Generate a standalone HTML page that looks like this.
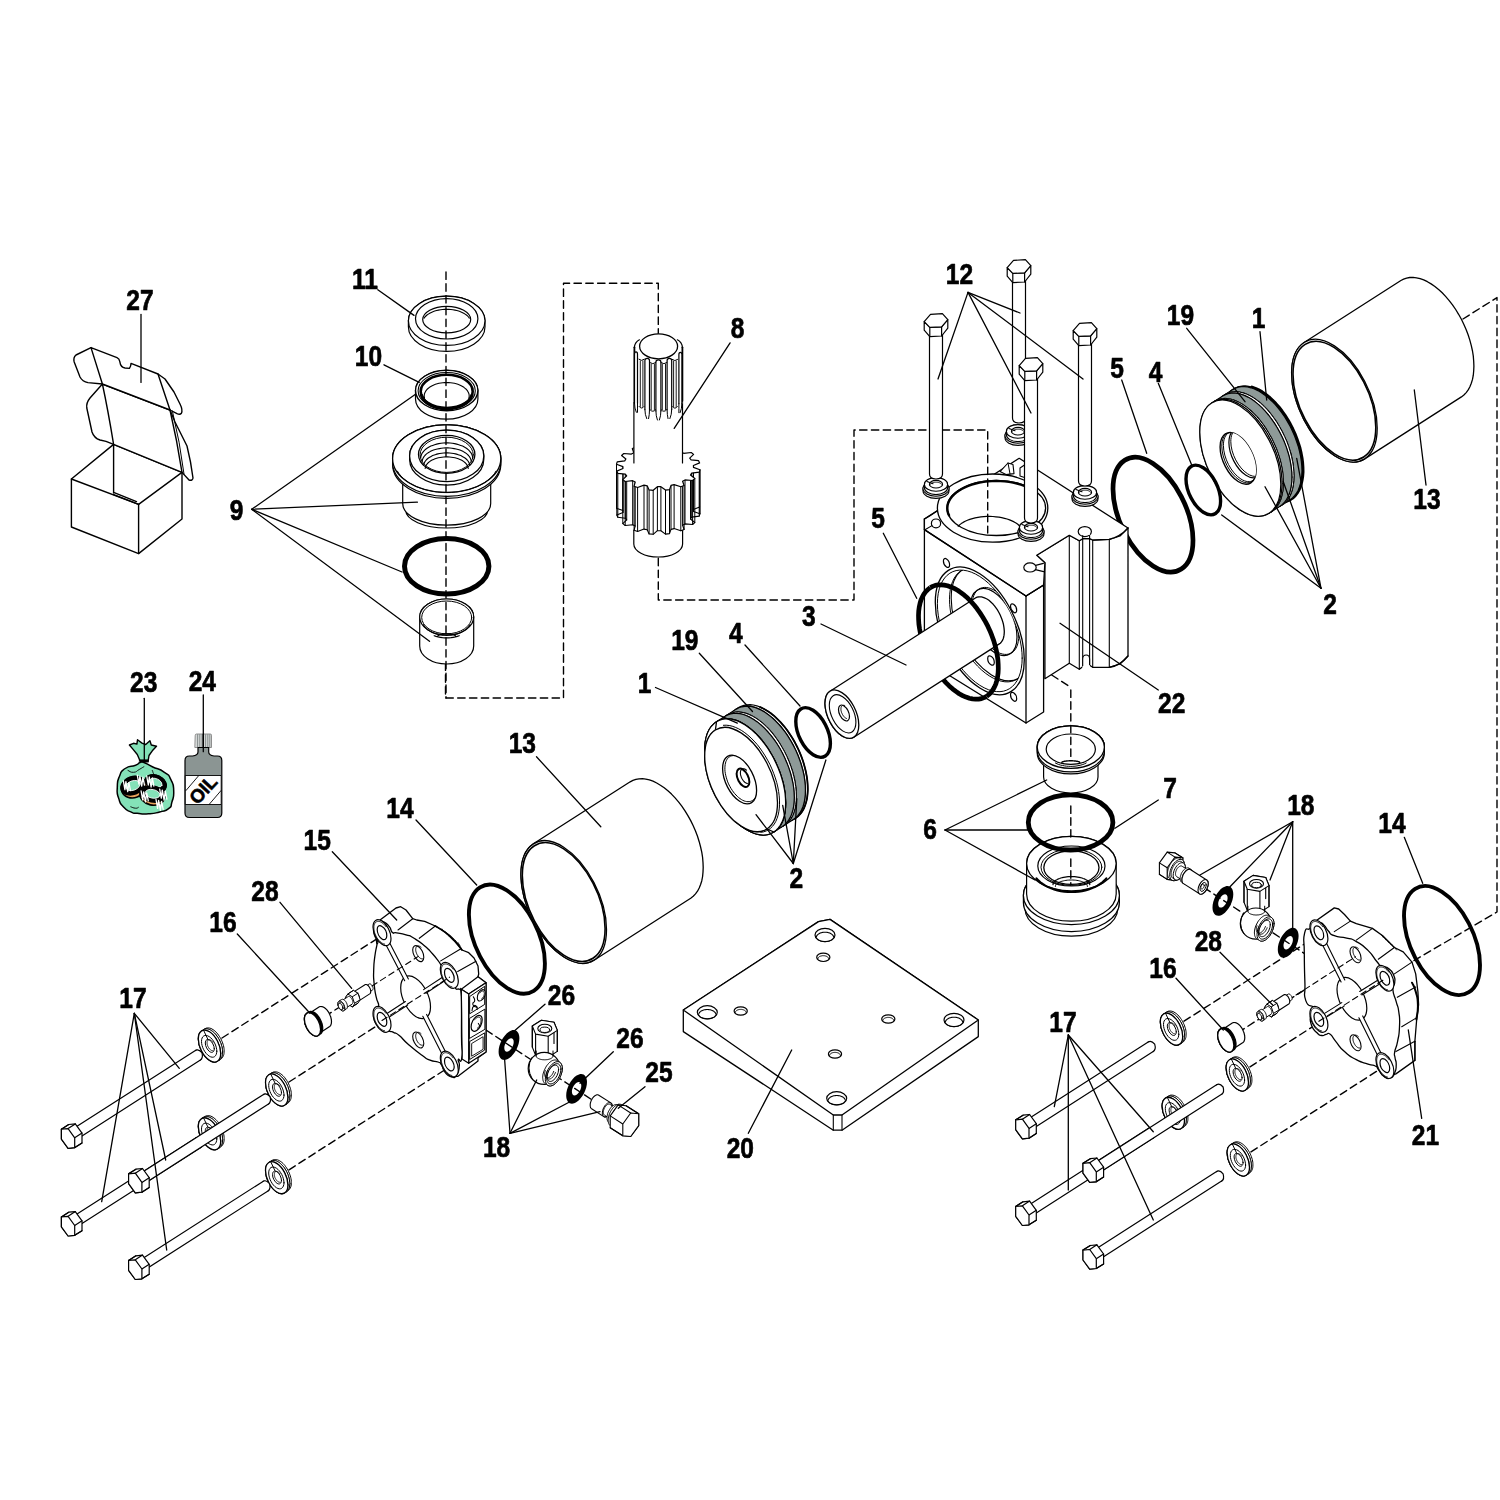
<!DOCTYPE html>
<html><head><meta charset="utf-8"><title>Exploded view</title>
<style>html,body{margin:0;padding:0;background:#fff}svg{display:block}text{font-family:"Liberation Sans",sans-serif;font-weight:bold;fill:#000;stroke:#000;stroke-width:0.7px;stroke-linejoin:round}</style>
</head><body>
<svg width="1500" height="1500" viewBox="0 0 1500 1500" stroke-linecap="round" stroke-linejoin="round">
<rect width="1500" height="1500" fill="#fff"/>
<path d="M445.5 663 L445.5 698 L563.5 698 L563.5 283.3 L658.3 283.3 L658.3 346" fill="none" stroke="#000" stroke-width="1.4" stroke-dasharray="7.4 4.4"/>
<path d="M1051.7 675 L1070.8 687.4" fill="none" stroke="#000" stroke-width="1.4" stroke-dasharray="7.4 4.4"/>
<path d="M1463 319 L1497 297.6 L1497 912 L1392 973.5" fill="none" stroke="#000" stroke-width="1.4" stroke-dasharray="7.4 4.4"/>
<path d="M222 1038 L381.9 935.6" fill="none" stroke="#000" stroke-width="1.4" stroke-dasharray="7.4 4.4"/>
<path d="M289 1082 L382 1022.5" fill="none" stroke="#000" stroke-width="1.4" stroke-dasharray="7.4 4.4"/>
<path d="M289 1169.8 L449.3 1067" fill="none" stroke="#000" stroke-width="1.4" stroke-dasharray="7.4 4.4"/>
<path d="M325 1016.4 L418.3 956.6" fill="none" stroke="#000" stroke-width="1.4" stroke-dasharray="7.4 4.4"/>
<path d="M1184 1021.2 L1318.9 934.7" fill="none" stroke="#000" stroke-width="1.4" stroke-dasharray="7.4 4.4"/>
<path d="M1250 1066.8 L1318.9 1022.7" fill="none" stroke="#000" stroke-width="1.4" stroke-dasharray="7.4 4.4"/>
<path d="M1251 1151.9 L1384.9 1066" fill="none" stroke="#000" stroke-width="1.4" stroke-dasharray="7.4 4.4"/>
<path d="M1238 1032.6 L1355.5 957" fill="none" stroke="#000" stroke-width="1.4" stroke-dasharray="7.4 4.4"/>
<path d="M486 1030 L593 1100.5" fill="none" stroke="#000" stroke-width="1.4" stroke-dasharray="7.4 4.4"/>
<path d="M1204 887.6 L1312 958.5" fill="none" stroke="#000" stroke-width="1.4" stroke-dasharray="7.4 4.4"/>
<path d="M71.4 479 L71.4 527 L138.6 553.6 L182 519 L182 472.4 L113.6 444.4Z" fill="#fff" stroke="#000" stroke-width="1.4"/>
<path d="M71.4 479 L138.6 504.4 L182 472.4" fill="none" stroke="#000" stroke-width="1.4"/>
<path d="M138.6 504.4L138.6 553.6" fill="none" stroke="#000" stroke-width="1.4"/>
<path d="M113.6 444.4L113.6 493" fill="none" stroke="#000" stroke-width="1.4"/>
<path d="M113.6 492.4 L136.5 501.6" fill="none" stroke="#000" stroke-width="1.4"/>
<path d="M113.6 494.6 L138.6 504.4" fill="none" stroke="#000" stroke-width="1.4"/>
<path d="M113.6 444.4 Q108 410 102.4 384 L170 410 Q177 440 182 472.4Z" fill="#fff" stroke="#000" stroke-width="1.4"/>
<path d="M102.4 384 L90 398 Q86 403 86.8 408 L92 432 Q94 438 100 440 L106 441.4 L113.6 444.4" fill="none" stroke="#000" stroke-width="1.4"/>
<path d="M170 410 L175 422 L187 446 Q191 462 193 478 Q192.6 481 189 480 L182 472.4" fill="none" stroke="#000" stroke-width="1.4"/>
<path d="M172.4 411 Q180 442 184 474" fill="none" stroke="#000" stroke-width="1"/>
<path d="M102.4 384 L91 347.6 L117 357.6 Q119.4 358.6 119.8 361.6 Q120.6 367.4 125 368 L129.4 368.4 Q131 366 131 363.4 L158 374 L170 410Z" fill="#fff" stroke="#000" stroke-width="1.4"/>
<path d="M91 347.6 L76 355 Q73 357.6 74.2 362 L80 377 Q82.4 381.6 88 382.6 L102.4 384" fill="none" stroke="#000" stroke-width="1.4"/>
<path d="M158 374 L165 379 L174 392 L180 404 Q183 410 181.4 413.2 Q180 415 177 413.6 L170 410" fill="none" stroke="#000" stroke-width="1.4"/>
<path d="M408.4 320.8 L408.4 326.8 A38.3 24.6 0 0 0 485 326.8 L485 320.8 A38.3 24.6 0 0 0 408.4 320.8Z" fill="#fff" stroke="#000" stroke-width="1.2"/>
<ellipse cx="446.7" cy="320.8" rx="38.3" ry="24.6" fill="#fff" stroke="#000" stroke-width="1.2"/>
<ellipse cx="446.7" cy="318.8" rx="31.2" ry="20.2" fill="none" stroke="#000" stroke-width="1.2"/>
<ellipse cx="446.7" cy="319.6" rx="24" ry="13.3" fill="#fff" stroke="#000" stroke-width="1.2"/>
<path d="M424.1 318.1 L424.9 317 L425.9 316 L427 315 L428.3 314.1 L429.7 313.2 L431.3 312.4 L432.9 311.7 L434.7 311.1 L436.6 310.5 L438.5 310.1 L440.5 309.8 L442.5 309.5 L444.6 309.4 L446.7 309.3 L448.8 309.4 L450.9 309.5 L452.9 309.8 L454.9 310.1 L456.8 310.5 L458.7 311.1 L460.5 311.7 L462.1 312.4 L463.7 313.2 L465.1 314.1 L466.4 315 L467.5 315.9 L468.5 317 L469.3 318.1" fill="none" stroke="#000" stroke-width="1.1"/>
<path d="M415.5 390.5 L415.5 398.9 A31.2 20.2 0 0 0 477.9 398.9 L477.9 390.5 A31.2 20.2 0 0 0 415.5 390.5Z" fill="#fff" stroke="#000" stroke-width="1.2"/>
<ellipse cx="446.7" cy="390.5" rx="31.2" ry="20.2" fill="#fff" stroke="#000" stroke-width="1.4"/>
<ellipse cx="446.7" cy="390.8" rx="28.6" ry="18.3" fill="none" stroke="#000" stroke-width="1.1"/>
<ellipse cx="446.7" cy="391.4" rx="26" ry="16.6" fill="none" stroke="#000" stroke-width="2.6"/>
<path d="M471.8 395.3 L471.3 396.7 L470.7 398.1 L469.8 399.4 L468.8 400.7 L467.6 401.9 L466.2 403 L464.7 404.1 L463.1 405.1 L461.3 405.9 L459.4 406.7 L457.5 407.4 L455.4 407.9 L453.3 408.3 L451.1 408.7 L448.9 408.8 L446.7 408.9 L444.5 408.8 L442.3 408.7 L440.1 408.3 L438 407.9 L435.9 407.4 L433.9 406.7 L432.1 405.9 L430.3 405.1 L428.7 404.1 L427.2 403 L425.8 401.9 L424.6 400.7 L423.6 399.4 L422.7 398.1 L422.1 396.7 L421.6 395.3" fill="none" stroke="#000" stroke-width="3"/>
<path d="M424.5 398.3 L424.3 397.2 L424.2 396 L424.3 394.8 L424.5 393.7 L425 392.5 L425.6 391.4 L426.3 390.3 L427.2 389.2 L428.3 388.3 L429.5 387.3 L430.8 386.5 L432.2 385.7 L433.8 384.9 L435.4 384.3 L437.2 383.8 L439 383.3 L440.9 383 L442.8 382.7 L444.7 382.6 L446.7 382.5 L448.7 382.6 L450.6 382.7 L452.5 383 L454.4 383.3 L456.2 383.8 L457.9 384.3 L459.6 384.9 L461.2 385.7 L462.6 386.5 L463.9 387.3 L465.1 388.3 L466.2 389.2 L467.1 390.3 L467.8 391.4 L468.4 392.5 L468.9 393.7 L469.1 394.8 L469.2 396 L469.1 397.2 L468.9 398.3" fill="none" stroke="#000" stroke-width="1.1"/>
<path d="M405.7 486 L405.7 510 A41 18 0 0 0 487.7 510 L487.7 486 A41 18 0 0 0 405.7 486Z" fill="#fff" stroke="#000" stroke-width="1.2"/>
<path d="M402.7 480 L402.7 503.6 A44 21.6 0 0 0 490.7 503.6 L490.7 480 A44 21.6 0 0 0 402.7 480Z" fill="#fff" stroke="#000" stroke-width="1.2"/>
<path d="M392.6 458.6 L392.6 464.6 A54.1 33.8 0 0 0 500.8 464.6 L500.8 458.6 A54.1 33.8 0 0 0 392.6 458.6Z" fill="#fff" stroke="#000" stroke-width="1.2"/>
<path d="M392.6 458.6 L392.6 462.6 A54.1 33.8 0 0 0 500.8 462.6 L500.8 458.6 A54.1 33.8 0 0 0 392.6 458.6Z" fill="#fff" stroke="#000" stroke-width="1.2"/>
<ellipse cx="446.7" cy="458.6" rx="54.1" ry="33.8" fill="#fff" stroke="#000" stroke-width="1.3"/>
<path d="M496 471.1 L494.3 473.8 L492.2 476.3 L489.7 478.7 L486.9 481 L483.8 483.1 L480.4 485 L476.8 486.7 L472.9 488.2 L468.9 489.5 L464.7 490.6 L460.3 491.5 L455.8 492.1 L451.3 492.5 L446.7 492.6 L442.1 492.5 L437.6 492.1 L433.1 491.5 L428.7 490.6 L424.5 489.5 L420.4 488.2 L416.6 486.7 L413 485 L409.6 483.1 L406.5 481 L403.7 478.7 L401.2 476.3 L399.1 473.8 L397.4 471.1" fill="none" stroke="#000" stroke-width="1"/>
<path d="M409.6 455.9 L409.6 459.4 A37.1 25.7 0 0 0 483.8 459.4 L483.8 455.9 A37.1 25.7 0 0 0 409.6 455.9Z" fill="#fff" stroke="#000" stroke-width="1.2"/>
<ellipse cx="446.7" cy="455.9" rx="37.1" ry="25.7" fill="#fff" stroke="#000" stroke-width="1.3"/>
<ellipse cx="446.7" cy="454.4" rx="28.2" ry="19" fill="#fff" stroke="#000" stroke-width="1.3"/>
<ellipse cx="446.7" cy="454.8" rx="26.6" ry="17.6" fill="none" stroke="#000" stroke-width="1"/>
<path d="M420.7 457.9 L420.9 456.5 L421.3 455.2 L421.8 453.8 L422.6 452.6 L423.6 451.3 L424.7 450.1 L426 449 L427.4 448 L429.1 447 L430.8 446.1 L432.7 445.4 L434.6 444.7 L436.7 444.1 L438.8 443.6 L441 443.3 L443.3 443 L445.6 442.9 L447.8 442.9 L450.1 443 L452.4 443.3 L454.6 443.6 L456.7 444.1 L458.8 444.7 L460.7 445.4 L462.6 446.1 L464.3 447 L466 448 L467.4 449 L468.7 450.1 L469.8 451.3 L470.8 452.6 L471.6 453.8 L472.1 455.2 L472.5 456.5 L472.7 457.9" fill="none" stroke="#000" stroke-width="1.1"/>
<path d="M422.2 461.4 L422.4 460.2 L422.7 459 L423.3 457.8 L424 456.6 L424.9 455.5 L426 454.4 L427.2 453.4 L428.6 452.5 L430.1 451.6 L431.7 450.8 L433.5 450.1 L435.3 449.5 L437.3 449 L439.3 448.6 L441.4 448.2 L443.5 448 L445.6 447.9 L447.8 447.9 L449.9 448 L452 448.2 L454.1 448.6 L456.1 449 L458.1 449.5 L459.9 450.1 L461.7 450.8 L463.3 451.6 L464.8 452.5 L466.2 453.4 L467.4 454.4 L468.5 455.5 L469.4 456.6 L470.1 457.8 L470.7 459 L471 460.2 L471.2 461.4" fill="none" stroke="#000" stroke-width="1.1"/>
<path d="M423.7 465.4 L423.9 464.3 L424.2 463.2 L424.7 462.1 L425.4 461 L426.2 460 L427.2 459 L428.4 458 L429.7 457.2 L431.1 456.4 L432.6 455.6 L434.3 455 L436 454.4 L437.9 453.9 L439.7 453.5 L441.7 453.2 L443.7 453 L445.7 452.9 L447.7 452.9 L449.7 453 L451.7 453.2 L453.7 453.5 L455.5 453.9 L457.4 454.4 L459.1 455 L460.8 455.6 L462.3 456.4 L463.7 457.2 L465 458 L466.2 459 L467.2 460 L468 461 L468.7 462.1 L469.2 463.2 L469.5 464.3 L469.7 465.4" fill="none" stroke="#000" stroke-width="1.1"/>
<path d="M425.2 468.5 L425.4 467.4 L425.7 466.4 L426.1 465.4 L426.8 464.4 L427.6 463.4 L428.5 462.5 L429.6 461.6 L430.8 460.8 L432.1 460.1 L433.5 459.4 L435.1 458.8 L436.7 458.3 L438.4 457.8 L440.2 457.5 L442 457.2 L443.9 457 L445.8 456.9 L447.6 456.9 L449.5 457 L451.4 457.2 L453.2 457.5 L455 457.8 L456.7 458.3 L458.3 458.8 L459.9 459.4 L461.3 460.1 L462.6 460.8 L463.8 461.6 L464.9 462.5 L465.8 463.4 L466.6 464.4 L467.3 465.4 L467.7 466.4 L468 467.4 L468.2 468.5" fill="none" stroke="#000" stroke-width="1.1"/>
<ellipse cx="446.7" cy="566.2" rx="42.2" ry="27.8" fill="none" stroke="#000" stroke-width="5"/>
<path d="M419.7 617 L419.7 646 A27 18 0 0 0 473.7 646 L473.7 617 A27 18 0 0 0 419.7 617Z" fill="#fff" stroke="#000" stroke-width="1.2"/>
<ellipse cx="446.7" cy="617" rx="27" ry="18" fill="#fff" stroke="#000" stroke-width="1.2"/>
<ellipse cx="446.7" cy="617.4" rx="25" ry="16.4" fill="none" stroke="#000" stroke-width="1"/>
<path d="M470.2 624.6 L469.4 625.9 L468.4 627.2 L467.2 628.4 L465.9 629.5 L464.4 630.6 L462.8 631.6 L461 632.4 L459.2 633.2 L457.3 633.9 L455.3 634.4 L453.2 634.8 L451 635.2 L448.9 635.3 L446.7 635.4 L444.5 635.3 L442.4 635.2 L440.2 634.8 L438.1 634.4 L436.1 633.9 L434.2 633.2 L432.4 632.4 L430.6 631.6 L429 630.6 L427.5 629.5 L426.2 628.4 L425 627.2 L424 625.9 L423.2 624.6" fill="none" stroke="#000" stroke-width="1.1"/>
<path d="M437.7 636.5 L437.7 636.3 L437.8 636 L438 635.8 L438.2 635.6 L438.5 635.4 L438.9 635.2 L439.3 635 L439.8 634.8 L440.3 634.7 L440.9 634.5 L441.5 634.4 L442.2 634.2 L442.9 634.1 L443.6 634.1 L444.4 634 L445.1 633.9 L445.9 633.9 L446.7 633.9 L447.5 633.9 L448.3 633.9 L449 634 L449.8 634.1 L450.5 634.1 L451.2 634.2 L451.9 634.4 L452.5 634.5 L453.1 634.7 L453.6 634.8 L454.1 635 L454.5 635.2 L454.9 635.4 L455.2 635.6 L455.4 635.8 L455.6 636 L455.7 636.3 L455.7 636.5" fill="none" stroke="#000" stroke-width="1.2"/>
<path d="M459.2 635.7 L457.3 636.4 L455.3 636.9 L453.2 637.3 L451 637.7 L448.9 637.8 L446.7 637.9 L444.5 637.8 L442.4 637.7 L440.2 637.3 L438.1 636.9 L436.1 636.4 L434.2 635.7" fill="none" stroke="#000" stroke-width="1.2"/>
<path d="M633.8 520 L633.8 544 A24.4 13 0 0 0 682.6 544 L682.6 520 A24.4 13 0 0 0 633.8 520Z" fill="#fff" stroke="#000" stroke-width="1.2"/>
<path d="M616.2 467 L616.2 511 L616.2 511 L616.4 513.5 L617.1 515.9 L618.3 518.3 L619.8 520.6 L621.8 522.8 L624.2 524.8 L627 526.7 L630.1 528.5 L633.5 530 L637.2 531.4 L641.1 532.5 L645.2 533.3 L649.5 534 L653.8 534.4 L658.2 534.5 L662.6 534.4 L666.9 534 L671.2 533.3 L675.3 532.5 L679.2 531.4 L682.9 530 L686.3 528.5 L689.4 526.7 L692.2 524.8 L694.6 522.8 L696.6 520.6 L698.1 518.3 L699.3 515.9 L700 513.5 L700.2 511 L700.2 467 L700.2 467 L700 464.5 L699.3 462.1 L698.1 459.7 L696.6 457.4 L694.6 455.2 L692.2 453.2 L689.4 451.3 L686.3 449.5 L682.9 448 L679.2 446.6 L675.3 445.5 L671.2 444.7 L666.9 444 L662.6 443.6 L658.2 443.5 L653.8 443.6 L649.5 444 L645.2 444.7 L641.1 445.5 L637.2 446.6 L633.5 448 L630.1 449.5 L627 451.3 L624.2 453.2 L621.8 455.2 L619.8 457.4 L618.3 459.7 L617.1 462.1 L616.4 464.5 L616.2 467Z" fill="#fff" stroke="none"/>
<path d="M699.9 469.8L699.9 513.8" fill="none" stroke="#000" stroke-width="1"/>
<path d="M699.2 472.1L699.2 516.1" fill="none" stroke="#000" stroke-width="1"/>
<path d="M691.7 473.1L691.7 517.1" fill="none" stroke="#000" stroke-width="1"/>
<path d="M690.5 475L690.5 519" fill="none" stroke="#000" stroke-width="1"/>
<path d="M694.8 478.5L694.8 522.5" fill="none" stroke="#000" stroke-width="1"/>
<path d="M692.6 480.5L692.6 524.5" fill="none" stroke="#000" stroke-width="1"/>
<path d="M685 479.9L685 523.9" fill="none" stroke="#000" stroke-width="1"/>
<path d="M682.6 481.3L682.6 525.3" fill="none" stroke="#000" stroke-width="1"/>
<path d="M684.1 485.5L684.1 529.5" fill="none" stroke="#000" stroke-width="1"/>
<path d="M680.8 486.8L680.8 530.8" fill="none" stroke="#000" stroke-width="1"/>
<path d="M674.1 484.6L674.1 528.6" fill="none" stroke="#000" stroke-width="1"/>
<path d="M671 485.4L671 529.4" fill="none" stroke="#000" stroke-width="1"/>
<path d="M669.5 489.6L669.5 533.6" fill="none" stroke="#000" stroke-width="1"/>
<path d="M665.5 490.1L665.5 534.1" fill="none" stroke="#000" stroke-width="1"/>
<path d="M660.9 486.7L660.9 530.7" fill="none" stroke="#000" stroke-width="1"/>
<path d="M657.4 486.7L657.4 530.7" fill="none" stroke="#000" stroke-width="1"/>
<path d="M653.2 490.3L653.2 534.3" fill="none" stroke="#000" stroke-width="1"/>
<path d="M649.1 489.9L649.1 533.9" fill="none" stroke="#000" stroke-width="1"/>
<path d="M647.2 485.8L647.2 529.8" fill="none" stroke="#000" stroke-width="1"/>
<path d="M644 485.1L644 529.1" fill="none" stroke="#000" stroke-width="1"/>
<path d="M637.6 487.5L637.6 531.5" fill="none" stroke="#000" stroke-width="1"/>
<path d="M634.1 486.2L634.1 530.2" fill="none" stroke="#000" stroke-width="1"/>
<path d="M635.2 482L635.2 526" fill="none" stroke="#000" stroke-width="1"/>
<path d="M632.7 480.7L632.7 524.7" fill="none" stroke="#000" stroke-width="1"/>
<path d="M625.2 481.5L625.2 525.5" fill="none" stroke="#000" stroke-width="1"/>
<path d="M622.8 479.6L622.8 523.6" fill="none" stroke="#000" stroke-width="1"/>
<path d="M626.7 475.9L626.7 519.9" fill="none" stroke="#000" stroke-width="1"/>
<path d="M625.3 474.2L625.3 518.2" fill="none" stroke="#000" stroke-width="1"/>
<path d="M617.8 473.3L617.8 517.3" fill="none" stroke="#000" stroke-width="1"/>
<path d="M616.8 471.1L616.8 515.1" fill="none" stroke="#000" stroke-width="1"/>
<path d="M623 468.5L623 512.5" fill="none" stroke="#000" stroke-width="1"/>
<path d="M622.9 466.6L622.9 510.6" fill="none" stroke="#000" stroke-width="1"/>
<path d="M616.5 464.2L616.5 508.2" fill="none" stroke="#000" stroke-width="1"/>
<path d="M693.4 465.5L693.4 509.5" fill="none" stroke="#000" stroke-width="1"/>
<path d="M693.5 467.4L693.5 511.4" fill="none" stroke="#000" stroke-width="1"/>
<path d="M699.9 469.8L699.9 513.8" fill="none" stroke="#000" stroke-width="1"/>
<path d="M699.6 506.9 L693.4 509.5 L693.5 511.4 L699.9 513.8 L699.9 513.8 L699.2 516.1 L691.7 517.1 L690.5 519 L694.8 522.5 L692.6 524.5 L685 523.9 L682.6 525.3 L684.1 529.5 L680.8 530.8 L674.1 528.6 L671 529.4 L669.5 533.6 L665.5 534.1 L660.9 530.7 L657.4 530.7 L653.2 534.3 L649.1 533.9 L647.2 529.8 L644 529.1 L637.6 531.5 L634.1 530.2 L635.2 526 L632.7 524.7 L625.2 525.5 L622.8 523.6 L626.7 519.9 L625.3 518.2 L617.8 517.3 L616.8 515.1 L623 512.5 L622.9 510.6 L616.5 508.2" fill="none" stroke="#000" stroke-width="1.1"/>
<path d="M699.9 469.8 L699.2 472.1 L691.7 473.1 L690.5 475 L694.8 478.5 L692.6 480.5 L685 479.9 L682.6 481.3 L684.1 485.5 L680.8 486.8 L674.1 484.6 L671 485.4 L669.5 489.6 L665.5 490.1 L660.9 486.7 L657.4 486.7 L653.2 490.3 L649.1 489.9 L647.2 485.8 L644 485.1 L637.6 487.5 L634.1 486.2 L635.2 482 L632.7 480.7 L625.2 481.5 L622.8 479.6 L626.7 475.9 L625.3 474.2 L617.8 473.3 L616.8 471.1 L623 468.5 L622.9 466.6 L616.5 464.2 L617.2 461.9 L624.7 460.9 L625.9 459 L621.6 455.5 L623.8 453.5 L631.4 454.1 L633.8 452.7 L632.3 448.5 L635.6 447.2 L642.3 449.4 L645.4 448.6 L646.9 444.4 L650.9 443.9 L655.5 447.3 L659 447.3 L663.2 443.7 L667.3 444.1 L669.2 448.2 L672.4 448.9 L678.8 446.5 L682.3 447.8 L681.2 452 L683.7 453.3 L691.2 452.5 L693.6 454.4 L689.7 458.1 L691.1 459.8 L698.6 460.7 L699.6 462.9 L693.4 465.5 L693.5 467.4 L699.9 469.8Z" fill="#fff" stroke="#000" stroke-width="1.2"/>
<path d="M633.9 463 L633.9 345 L682.5 345 L682.5 463Z" fill="#fff" stroke="none"/>
<path d="M633.9 402L633.9 463" fill="none" stroke="#000" stroke-width="1.2"/>
<path d="M682.5 402L682.5 463" fill="none" stroke="#000" stroke-width="1.2"/>
<path d="M634.4 346.3 L634.4 404 L682.4 404 L682.4 346.3Z" fill="#fff" stroke="none"/>
<path d="M634.4 347.3L634.4 401" fill="none" stroke="#000" stroke-width="1.8"/>
<path d="M682.4 347.3L682.4 401" fill="none" stroke="#000" stroke-width="1.8"/>
<path d="M634.4 347.3 Q634.8 342.3 639.4 339.8" fill="none" stroke="#000" stroke-width="1.2"/>
<path d="M682.4 347.3 Q682 342.3 677.4 339.8" fill="none" stroke="#000" stroke-width="1.2"/>
<path d="M634.5 403.3 V354 Q634.5 351.8 636 351.8 Q637.5 351.8 637.5 354 V403.3" fill="#fff" stroke="#000" stroke-width="1.2"/>
<path d="M634.5 403.3 Q634.5 408.3 636.3 412.3 M637.5 403.3 Q637.5 408.3 637.5 412.3" fill="none" stroke="#000" stroke-width="1"/>
<path d="M644.9 409.6 V360.6 Q644.9 358.4 647.2 358.4 Q649.5 358.4 649.5 360.6 V409.6" fill="#fff" stroke="#000" stroke-width="1.2"/>
<path d="M644.9 409.6 Q644.9 414.6 646.7 418.6 M649.5 409.6 Q649.5 414.6 648.6 418.6" fill="none" stroke="#000" stroke-width="1"/>
<path d="M655.9 411 V362 Q655.9 359.8 658.4 359.8 Q660.9 359.8 660.9 362 V411" fill="#fff" stroke="#000" stroke-width="1.2"/>
<path d="M655.9 411 Q655.9 416 657.4 420 M660.9 411 Q660.9 416 659.4 420" fill="none" stroke="#000" stroke-width="1"/>
<path d="M667.1 409.6 V360.6 Q667.1 358.4 669.4 358.4 Q671.7 358.4 671.7 360.6 V409.6" fill="#fff" stroke="#000" stroke-width="1.2"/>
<path d="M667.1 409.6 Q667.1 414.6 668 418.6 M671.7 409.6 Q671.7 414.6 669.9 418.6" fill="none" stroke="#000" stroke-width="1"/>
<path d="M678.9 403.7 V354.5 Q678.9 352.3 680.4 352.3 Q681.9 352.3 681.9 354.5 V403.7" fill="#fff" stroke="#000" stroke-width="1.2"/>
<path d="M678.9 403.7 Q678.9 408.7 678.9 412.7 M681.9 403.7 Q681.9 408.7 680.1 412.7" fill="none" stroke="#000" stroke-width="1"/>
<path d="M640.3 360.9L640.3 406.5" fill="none" stroke="#000" stroke-width="0.9"/>
<path d="M642.9 360.9L642.9 406.5" fill="none" stroke="#000" stroke-width="0.9"/>
<path d="M639.1 406.5 Q641.6 409.9 644.1 406.5" fill="none" stroke="#000" stroke-width="1"/>
<path d="M638.9 359.3 Q641.6 361.7 644.3 359.3" fill="none" stroke="#000" stroke-width="1"/>
<path d="M651.2 364.2L651.2 409.7" fill="none" stroke="#000" stroke-width="0.9"/>
<path d="M654.4 364.2L654.4 409.7" fill="none" stroke="#000" stroke-width="0.9"/>
<path d="M650 409.7 Q652.8 413.1 655.6 409.7" fill="none" stroke="#000" stroke-width="1"/>
<path d="M649.8 362.6 Q652.8 365 655.8 362.6" fill="none" stroke="#000" stroke-width="1"/>
<path d="M662.3 364.2L662.3 409.7" fill="none" stroke="#000" stroke-width="0.9"/>
<path d="M665.5 364.2L665.5 409.7" fill="none" stroke="#000" stroke-width="0.9"/>
<path d="M661.1 409.7 Q663.9 413.1 666.7 409.7" fill="none" stroke="#000" stroke-width="1"/>
<path d="M660.9 362.6 Q663.9 365 666.9 362.6" fill="none" stroke="#000" stroke-width="1"/>
<path d="M673.6 361.1L673.6 406.6" fill="none" stroke="#000" stroke-width="0.9"/>
<path d="M676.2 361.1L676.2 406.6" fill="none" stroke="#000" stroke-width="0.9"/>
<path d="M672.4 406.6 Q674.9 410 677.4 406.6" fill="none" stroke="#000" stroke-width="1"/>
<path d="M672.2 359.5 Q674.9 361.9 677.6 359.5" fill="none" stroke="#000" stroke-width="1"/>
<ellipse cx="658.6" cy="346.3" rx="19" ry="12.5" fill="#fff" stroke="#000" stroke-width="1.3"/>
<path d="M143.9 762.5 C147.9 763.9 145.4 763.4 152.3 766.7 C159.1 769.9 158.2 767.9 164.4 772.3 C170.6 776.6 167.8 773.5 170.9 779.7 C174 786 173.4 783.5 173.7 790.9 C174 798.4 173.6 796.2 171.9 802.1 C170.2 808 172.6 805.4 168.6 808.7 C164.6 811.9 166.4 810.2 159.7 811.9 C153 813.6 156 813.3 148.5 813.8 C141.1 814.3 143.2 814 137.3 813.3 C131.4 812.7 135.5 814.1 130.8 811.9 C126.1 809.8 127.4 811.3 123.3 806.8 C119.3 802.3 120.7 804.9 118.7 798.4 C116.6 791.9 117 794.7 117.3 787.2 C117.6 779.7 117 782.2 119.6 776 C122.2 769.8 119.9 772.1 125.2 768.5 C130.5 765 130.5 767.3 135.5 765.3 C140.4 763.2 137.3 763.4 140.1 762.5 C142.9 761.5 139.8 761.1 143.9 762.5Z" fill="#84e2b8" stroke="#000" stroke-width="1.5"/>
<path d="M140.1 761.1 L137.3 754.5 L132.7 748.9 L129.4 745 L133.6 743.3 L136.9 744.1 L137.5 739.8 L142 743.1 L145.7 744.5 L149.9 740.7 L151.3 745 L156.5 746.3 L152.3 750.8 L149 755.5 L148.1 761.1Z" fill="#84e2b8" stroke="#000" stroke-width="1.4"/>
<path d="M139.7 759.7 L148.5 759.7 L148.5 762.2 L139.7 762.2Z" fill="#000" stroke="#000" stroke-width="0.5"/>
<path d="M128 770.4 C129.9 771 129.9 772.6 133.6 772.3 C137.3 772 135.8 771.3 139.2 769.5 C142.6 767.6 142.3 767.6 143.9 766.7" fill="none" stroke="#000" stroke-width="0.9"/>
<path d="M152.3 770.4 C153.5 772.3 152 772.9 156 776 C160 779.1 161.6 778.5 164.4 779.7" fill="none" stroke="#000" stroke-width="0.9"/>
<path d="M130.8 806.8 C132.4 807.3 133 808 135.5 808.2 C138 808.4 137.3 807.6 138.3 807.3" fill="none" stroke="#000" stroke-width="0.9"/>
<g transform="translate(133.6 787.2) rotate(-20)"><ellipse rx="12.5" ry="10.5" fill="#e9a35c" stroke="#000" stroke-width="1.6"/><ellipse cy="-1.6" rx="12.5" ry="8.6" fill="#000" stroke="#000" stroke-width="1.6"/><ellipse cy="-1.8" rx="7.5" ry="4.7" fill="#84e2b8" stroke="#fff" stroke-width="0.8"/></g>
<g transform="translate(155.1 784.4) rotate(25)"><ellipse rx="11" ry="9" fill="#e9a35c" stroke="#000" stroke-width="1.6"/><ellipse cy="-1.6" rx="11" ry="7.4" fill="#000" stroke="#000" stroke-width="1.6"/><ellipse cy="-1.8" rx="6.6" ry="4" fill="#84e2b8" stroke="#fff" stroke-width="0.8"/></g>
<g transform="translate(152.3 795.6) rotate(12)"><ellipse rx="12.5" ry="9.5" fill="#e9a35c" stroke="#000" stroke-width="1.6"/><ellipse cy="-1.6" rx="12.5" ry="7.8" fill="#000" stroke="#000" stroke-width="1.6"/><ellipse cy="-1.8" rx="7.5" ry="4.3" fill="#84e2b8" stroke="#fff" stroke-width="0.8"/></g>
<path d="M123.3 780.7 l1.6 9 l1 -8 l1.8 10 l1.2 -9 l1.6 8" fill="none" stroke="#fff" stroke-width="1.3"/>
<path d="M137.3 775.1 l1.6 9 l1 -8 l1.8 10 l1.2 -9 l1.6 8" fill="none" stroke="#fff" stroke-width="1.3"/>
<path d="M146.7 776 l1.6 9 l1 -8 l1.8 10 l1.2 -9 l1.6 8" fill="none" stroke="#fff" stroke-width="1.3"/>
<path d="M141.1 790.9 l1.6 9 l1 -8 l1.8 10 l1.2 -9 l1.6 8" fill="none" stroke="#fff" stroke-width="1.3"/>
<path d="M159.7 789.1 l1.6 9 l1 -8 l1.8 10 l1.2 -9 l1.6 8" fill="none" stroke="#fff" stroke-width="1.3"/>
<path d="M156 799.3 l1.6 9 l1 -8 l1.8 10 l1.2 -9 l1.6 8" fill="none" stroke="#fff" stroke-width="1.3"/>
<path d="M195.2 735.2 Q195.2 734 196.4 734 H210.3 Q211.5 734 211.5 735.2 V747.5 H195.2Z" fill="#d5d8d7" stroke="#777" stroke-width="0.8"/>
<path d="M197.6 734.6L197.6 747" fill="none" stroke="#7d8584" stroke-width="0.9"/>
<path d="M199.8 734.6L199.8 747" fill="none" stroke="#7d8584" stroke-width="0.9"/>
<path d="M202 734.6L202 747" fill="none" stroke="#7d8584" stroke-width="0.9"/>
<path d="M203.3 734.6L203.3 747" fill="none" stroke="#7d8584" stroke-width="0.9"/>
<path d="M205.6 734.6L205.6 747" fill="none" stroke="#7d8584" stroke-width="0.9"/>
<path d="M207.8 734.6L207.8 747" fill="none" stroke="#7d8584" stroke-width="0.9"/>
<path d="M209.8 734.6L209.8 747" fill="none" stroke="#7d8584" stroke-width="0.9"/>
<path d="M203.3 734L203.3 752" fill="none" stroke="#000" stroke-width="1.2"/>
<path d="M198 747.5 H208.7 V752 Q208.7 755.4 214 756 H217.4 Q221.8 756 221.8 760.4 V813 Q221.8 817.5 217.4 817.5 H189.4 Q185 817.5 185 813 V760.4 Q185 756 189.4 756 H192.6 Q198 755.4 198 752Z" fill="#8b9593" stroke="#000" stroke-width="1.2"/>
<path d="M185.6 775.5 H221.2 V804.5 H185.6Z" fill="#fff" stroke="#000" stroke-width="0.9"/>
<path d="M186 790.5 L198.4 776 M209.5 804 L221 790.6" fill="none" stroke="#000" stroke-width="0.9"/>
<g style="opacity:0.999"><text transform="translate(197.4 805.4) rotate(-47) scale(0.98 1)" font-size="19" style="stroke-width:0.6px">OIL</text></g>
<path d="M1193 540.3 C1193 512 1175.1 477.6 1153 463.4 C1130.9 449.3 1113 460.7 1113 489.1 C1113 517.4 1130.9 551.8 1153 566 C1175.1 580.1 1193 568.7 1193 540.3Z" fill="none" stroke="#000" stroke-width="4.7"/>
<path d="M1044.9 562.7 L1044.9 678.7 L1069.3 663.3 L1079.3 669.3 L1082.7 666.7 L1089.6 665.3 L1092.7 667.3 L1109.3 667.3 L1120 664 L1128 656 L1128 528 L1109.3 539.3 L1092.7 540 L1089.6 538.7 L1082.7 538.7 L1079.3 540.7 L1069.3 535.3 L1036.7 555.3Z" fill="#fff" stroke="#000" stroke-width="1.3"/>
<path d="M1069.3 535.3L1069.3 663.3" fill="none" stroke="#000" stroke-width="1.1"/>
<path d="M1079.3 540.7L1079.3 669.3" fill="none" stroke="#000" stroke-width="1.1"/>
<path d="M1082.7 538.7L1082.7 666.7" fill="none" stroke="#000" stroke-width="1.1"/>
<path d="M1089.6 538.7L1089.6 665.3" fill="none" stroke="#000" stroke-width="1.1"/>
<path d="M1092.7 540L1092.7 667.3" fill="none" stroke="#000" stroke-width="1.1"/>
<path d="M1109.3 539.3L1109.3 667.3" fill="none" stroke="#000" stroke-width="1.1"/>
<path d="M1043 563L1043 690" fill="none" stroke="#000" stroke-width="1.1"/>
<path d="M1082.7 667.4 V659 Q1082.7 655 1086.2 655 Q1089.6 655 1089.6 659 V666" fill="#fff" stroke="#000" stroke-width="1.1"/>
<path d="M1083.4 667.2 L1088.9 666.2" fill="none" stroke="#fff" stroke-width="2.4"/>
<path d="M1109.3 667.3 Q1120 666 1128 656" fill="none" stroke="#000" stroke-width="1.3"/>
<path d="M924.4 519 L924.4 660 L1026 723 L1043.6 712 L1043.6 585 L1026 596Z" fill="#fff" stroke="#000" stroke-width="1.3"/>
<path d="M1026 596L1026 723" fill="none" stroke="#000" stroke-width="1.3"/>
<path d="M924.4 519 L1019.2 458.3 L1128 528 L1120 536 L1109.3 539.3 L1092.7 540 L1089.6 538.7 L1082.7 538.7 L1079.3 540.7 L1069.3 535.3 L1036.7 555.3 L1044.9 562.7 L1043.6 585 L1026 596 L924.4 529.6Z" fill="#fff" stroke="#000" stroke-width="1.3"/>
<path d="M1109.3 539.3 Q1120 537 1128 528" fill="#fff" stroke="#000" stroke-width="1.3"/>
<path d="M924.4 529.6L1026 596" fill="none" stroke="#000" stroke-width="1.3"/>
<path d="M1026 596L1043.6 585" fill="none" stroke="#000" stroke-width="1.3"/>
<ellipse cx="1084.8" cy="531.6" rx="6.6" ry="5" fill="#fff" stroke="#000" stroke-width="1.2"/>
<path d="M1082.7 539 V535.6 M1089.6 539 V535.6" fill="none" stroke="#000" stroke-width="1.1"/>
<path d="M1083.3 534 H1089" fill="none" stroke="#fff" stroke-width="2.2"/>
<ellipse cx="1030" cy="567.4" rx="6.2" ry="4.6" fill="#fff" stroke="#000" stroke-width="1.2"/>
<path d="M1035.6 565.4 L1043.4 563.4 M1035.4 569.6 L1043.6 571.6" fill="none" stroke="#000" stroke-width="1.1"/>
<ellipse cx="936" cy="523.4" rx="4.6" ry="4.4" fill="#fff" stroke="#000" stroke-width="1.2"/>
<path d="M924.4 519 L930 515.6 L937 511" fill="none" stroke="#000" stroke-width="1.3"/>
<path d="M932 525.6 L925 529.8" fill="none" stroke="#000" stroke-width="1.1"/>
<path d="M1000 471.6 L1008 463 L1013 464.6 L1014 473.6 L1006 474.6Z" fill="#fff" stroke="#000" stroke-width="1.1"/>
<path d="M1008 463L1010 473.8" fill="none" stroke="#000" stroke-width="1"/>
<path d="M1020 468 L1026 464 L1026 478 L1020 476Z" fill="#fff" stroke="#000" stroke-width="1.1"/>
<ellipse cx="992.6" cy="508.1" rx="55.2" ry="34.1" fill="#fff" stroke="#000" stroke-width="1.3"/>
<ellipse cx="996.3" cy="508" rx="49.3" ry="27.5" fill="#fff" stroke="#000" stroke-width="1.3"/>
<path d="M949 515.2 L948 512.9 L947.5 510.6 L947.3 508.2 L947.5 505.8 L948 503.5 L949 501.2 L950.3 498.9 L951.9 496.7 L953.9 494.6 L956.2 492.6 L958.8 490.7 L961.7 489 L964.8 487.4 L968.2 485.9 L971.8 484.6 L975.6 483.5 L979.5 482.6 L983.6 481.9 L987.8 481.4 L992 481.1 L996.3 481 L1000.6 481.1 L1004.8 481.4 L1009 481.9 L1013.1 482.6 L1017 483.5 L1020.8 484.6 L1024.4 485.9 L1027.8 487.4 L1030.9 489" fill="none" stroke="#000" stroke-width="2.4"/>
<path d="M958.2 526.2 L959.6 524.9 L961.2 523.6 L963.1 522.4 L965.2 521.3 L967.4 520.3 L969.8 519.4 L972.4 518.6 L975.1 517.9 L978 517.3 L980.9 516.9 L983.8 516.6 L986.9 516.4 L989.9 516.4 L992.9 516.5 L995.9 516.8 L998.9 517.1 L1001.7 517.6 L1004.5 518.3 L1007.1 519 L1009.6 519.9 L1011.9 520.9 L1014.1 521.9 L1016 523.1 L1017.8 524.3 L1019.3 525.7 L1020.5 527" fill="none" stroke="#000" stroke-width="1.2"/>
<path d="M1024.3 659.4 C1024.3 627.9 1004.4 589.6 979.8 573.8 C955.2 558.1 935.3 570.9 935.3 602.4 C935.3 633.9 955.2 672.2 979.8 688 C1004.4 703.7 1024.3 690.9 1024.3 659.4Z" fill="#fff" stroke="#000" stroke-width="1.3"/>
<path d="M1022.2 658.1 C1022.2 628.1 1003.2 591.5 979.8 576.5 C956.4 561.5 937.4 573.7 937.4 603.7 C937.4 633.7 956.4 670.3 979.8 685.3 C1003.2 700.3 1022.2 688.1 1022.2 658.1Z" fill="none" stroke="#000" stroke-width="1"/>
<clipPath id="rc"><path d="M1022.2 658.1 C1022.2 628.1 1003.2 591.5 979.8 576.5 C956.4 561.5 937.4 573.7 937.4 603.7 C937.4 633.7 956.4 670.3 979.8 685.3 C1003.2 700.3 1022.2 688.1 1022.2 658.1Z"/></clipPath>
<g clip-path="url(#rc)">
<path d="M1030.9 649.2 C1030.9 621 1013.1 586.7 991.1 572.6 C969.1 558.5 951.2 570 951.2 598.2 C951.2 626.4 969.1 660.6 991.1 674.7 C1013.1 688.8 1030.9 677.4 1030.9 649.2Z" fill="none" stroke="#000" stroke-width="1.1"/>
<path d="M1029.2 650.3 C1029.2 622.1 1011.3 587.8 989.3 573.7 C967.3 559.6 949.5 571.1 949.5 599.3 C949.5 627.5 967.3 661.8 989.3 675.9 C1011.3 690 1029.2 678.5 1029.2 650.3Z" fill="none" stroke="#000" stroke-width="1"/>
<path d="M1017 637 C1017 620.5 1006.6 600.3 993.7 592 C980.7 583.8 970.3 590.5 970.3 607 C970.3 623.6 980.7 643.7 993.7 652 C1006.6 660.3 1017 653.6 1017 637Z" fill="#fff" stroke="#000" stroke-width="1.2"/>
<path d="M1018.8 635.9 C1018.8 619.3 1008.3 599.2 995.4 590.9 C982.5 582.7 972 589.4 972 605.9 C972 622.5 982.5 642.6 995.4 650.9 C1008.3 659.2 1018.8 652.4 1018.8 635.9Z" fill="none" stroke="#000" stroke-width="1"/>
</g>
<path d="M949.6 564.9 C949.6 562.7 948.2 560 946.5 558.9 C944.8 557.8 943.4 558.7 943.4 560.9 C943.4 563.1 944.8 565.8 946.5 566.9 C948.2 568 949.6 567.1 949.6 564.9Z" fill="#fff" stroke="#000" stroke-width="1.2"/>
<path d="M1016.7 610.3 C1016.7 608.1 1015.3 605.4 1013.6 604.3 C1011.9 603.2 1010.5 604.1 1010.5 606.3 C1010.5 608.5 1011.9 611.2 1013.6 612.3 C1015.3 613.4 1016.7 612.5 1016.7 610.3Z" fill="#fff" stroke="#000" stroke-width="1.2"/>
<path d="M1016.7 698.8 C1016.7 696.6 1015.3 693.9 1013.6 692.8 C1011.9 691.7 1010.5 692.6 1010.5 694.8 C1010.5 697 1011.9 699.7 1013.6 700.8 C1015.3 701.9 1016.7 701 1016.7 698.8Z" fill="#fff" stroke="#000" stroke-width="1.2"/>
<path d="M994.3 662.6 C994.3 660.3 992.8 657.4 991 656.3 C989.2 655.1 987.7 656.1 987.7 658.4 C987.7 660.7 989.2 663.6 991 664.7 C992.8 665.9 994.3 664.9 994.3 662.6Z" fill="#fff" stroke="#000" stroke-width="1.2"/>
<path d="M658.3 558.3 L658.3 600 L854 600 L854 430 L987.7 430 L987.7 533" fill="none" stroke="#000" stroke-width="1.4" stroke-dasharray="7.4 4.4"/>
<path d="M1005 435.6 L1005 437.8 A13 7.6 0 0 0 1031 437.8 L1031 435.6 A13 7.6 0 0 0 1005 435.6Z" fill="#fff" stroke="#000" stroke-width="1.1"/>
<ellipse cx="1018" cy="435.6" rx="13" ry="7.6" fill="#fff" stroke="#000" stroke-width="1.1"/>
<path d="M1006.4 431.4 L1006.4 434.8 A11.6 6.8 0 0 0 1029.6 434.8 L1029.6 431.4 A11.6 6.8 0 0 0 1006.4 431.4Z" fill="#fff" stroke="#000" stroke-width="1.1"/>
<ellipse cx="1018" cy="431.4" rx="11.6" ry="6.8" fill="#fff" stroke="#000" stroke-width="1.1"/>
<ellipse cx="1018" cy="431.2" rx="6.6" ry="3.8" fill="#fff" stroke="#000" stroke-width="1.1"/>
<path d="M1011.9 432 L1012 431.7 L1012.2 431.4 L1012.4 431.2 L1012.6 430.9 L1012.9 430.6 L1013.3 430.4 L1013.6 430.2 L1014 430 L1014.4 429.8 L1014.9 429.7 L1015.4 429.5 L1015.9 429.4 L1016.4 429.3 L1016.9 429.3 L1017.5 429.2 L1018 429.2 L1018.5 429.2 L1019.1 429.3 L1019.6 429.3 L1020.1 429.4 L1020.6 429.5 L1021.1 429.7 L1021.6 429.8 L1022 430 L1022.4 430.2 L1022.7 430.4 L1023.1 430.6 L1023.4 430.9 L1023.6 431.2 L1023.8 431.4 L1024 431.7 L1024.1 432" fill="none" stroke="#000" stroke-width="0.9"/>
<path d="M1015 430.8 l-6 -2.4" fill="none" stroke="#000" stroke-width="1.1"/>
<path d="M1012.5 275 V418 Q1012.5 423 1019 423 Q1025.5 423 1025.5 418 V275Z" fill="#fff" stroke="#000" stroke-width="1.2"/>
<path d="M1007.2 267.6 L1012.8 273.4 L1024.6 272.8 L1030.8 265.6 L1030.8 274.2 L1024.6 282 L1012.8 282.6 L1007.2 276.2Z" fill="#fff" stroke="#000" stroke-width="1.2"/>
<path d="M1012.8 273.4L1012.8 282.6" fill="none" stroke="#000" stroke-width="1.2"/>
<path d="M1024.6 272.8L1024.6 282" fill="none" stroke="#000" stroke-width="1.2"/>
<path d="M1007.2 267.6 L1013.5 260.4 L1025.4 259.6 L1030.8 265.6 L1024.6 272.8 L1012.8 273.4Z" fill="#fff" stroke="#000" stroke-width="1.2"/>
<path d="M923 488.6 L923 490.8 A13 7.6 0 0 0 949 490.8 L949 488.6 A13 7.6 0 0 0 923 488.6Z" fill="#fff" stroke="#000" stroke-width="1.1"/>
<ellipse cx="936" cy="488.6" rx="13" ry="7.6" fill="#fff" stroke="#000" stroke-width="1.1"/>
<path d="M924.4 484.4 L924.4 487.8 A11.6 6.8 0 0 0 947.6 487.8 L947.6 484.4 A11.6 6.8 0 0 0 924.4 484.4Z" fill="#fff" stroke="#000" stroke-width="1.1"/>
<ellipse cx="936" cy="484.4" rx="11.6" ry="6.8" fill="#fff" stroke="#000" stroke-width="1.1"/>
<ellipse cx="936" cy="484.2" rx="6.6" ry="3.8" fill="#fff" stroke="#000" stroke-width="1.1"/>
<path d="M929.9 485 L930 484.7 L930.2 484.4 L930.4 484.2 L930.6 483.9 L930.9 483.6 L931.3 483.4 L931.6 483.2 L932 483 L932.4 482.8 L932.9 482.7 L933.4 482.5 L933.9 482.4 L934.4 482.3 L934.9 482.3 L935.5 482.2 L936 482.2 L936.5 482.2 L937.1 482.3 L937.6 482.3 L938.1 482.4 L938.6 482.5 L939.1 482.7 L939.6 482.8 L940 483 L940.4 483.2 L940.7 483.4 L941.1 483.6 L941.4 483.9 L941.6 484.2 L941.8 484.4 L942 484.7 L942.1 485" fill="none" stroke="#000" stroke-width="0.9"/>
<path d="M933 483.8 l-6 -2.4" fill="none" stroke="#000" stroke-width="1.1"/>
<path d="M929.5 329 V474 Q929.5 479 936 479 Q942.5 479 942.5 474 V329Z" fill="#fff" stroke="#000" stroke-width="1.2"/>
<path d="M924.2 321.6 L929.8 327.4 L941.6 326.8 L947.8 319.6 L947.8 328.2 L941.6 336 L929.8 336.6 L924.2 330.2Z" fill="#fff" stroke="#000" stroke-width="1.2"/>
<path d="M929.8 327.4L929.8 336.6" fill="none" stroke="#000" stroke-width="1.2"/>
<path d="M941.6 326.8L941.6 336" fill="none" stroke="#000" stroke-width="1.2"/>
<path d="M924.2 321.6 L930.5 314.4 L942.4 313.6 L947.8 319.6 L941.6 326.8 L929.8 327.4Z" fill="#fff" stroke="#000" stroke-width="1.2"/>
<path d="M1072 496.6 L1072 498.8 A13 7.6 0 0 0 1098 498.8 L1098 496.6 A13 7.6 0 0 0 1072 496.6Z" fill="#fff" stroke="#000" stroke-width="1.1"/>
<ellipse cx="1085" cy="496.6" rx="13" ry="7.6" fill="#fff" stroke="#000" stroke-width="1.1"/>
<path d="M1073.4 492.4 L1073.4 495.8 A11.6 6.8 0 0 0 1096.6 495.8 L1096.6 492.4 A11.6 6.8 0 0 0 1073.4 492.4Z" fill="#fff" stroke="#000" stroke-width="1.1"/>
<ellipse cx="1085" cy="492.4" rx="11.6" ry="6.8" fill="#fff" stroke="#000" stroke-width="1.1"/>
<ellipse cx="1085" cy="492.2" rx="6.6" ry="3.8" fill="#fff" stroke="#000" stroke-width="1.1"/>
<path d="M1078.9 493 L1079 492.7 L1079.2 492.4 L1079.4 492.2 L1079.6 491.9 L1079.9 491.6 L1080.3 491.4 L1080.6 491.2 L1081 491 L1081.4 490.8 L1081.9 490.7 L1082.4 490.5 L1082.9 490.4 L1083.4 490.3 L1083.9 490.3 L1084.5 490.2 L1085 490.2 L1085.5 490.2 L1086.1 490.3 L1086.6 490.3 L1087.1 490.4 L1087.6 490.5 L1088.1 490.7 L1088.6 490.8 L1089 491 L1089.4 491.2 L1089.7 491.4 L1090.1 491.6 L1090.4 491.9 L1090.6 492.2 L1090.8 492.4 L1091 492.7 L1091.1 493" fill="none" stroke="#000" stroke-width="0.9"/>
<path d="M1082 491.8 l-6 -2.4" fill="none" stroke="#000" stroke-width="1.1"/>
<path d="M1078.5 338 V481 Q1078.5 486 1085 486 Q1091.5 486 1091.5 481 V338Z" fill="#fff" stroke="#000" stroke-width="1.2"/>
<path d="M1073.2 330.6 L1078.8 336.4 L1090.6 335.8 L1096.8 328.6 L1096.8 337.2 L1090.6 345 L1078.8 345.6 L1073.2 339.2Z" fill="#fff" stroke="#000" stroke-width="1.2"/>
<path d="M1078.8 336.4L1078.8 345.6" fill="none" stroke="#000" stroke-width="1.2"/>
<path d="M1090.6 335.8L1090.6 345" fill="none" stroke="#000" stroke-width="1.2"/>
<path d="M1073.2 330.6 L1079.5 323.4 L1091.4 322.6 L1096.8 328.6 L1090.6 335.8 L1078.8 336.4Z" fill="#fff" stroke="#000" stroke-width="1.2"/>
<path d="M1018 531.6 L1018 533.8 A13 7.6 0 0 0 1044 533.8 L1044 531.6 A13 7.6 0 0 0 1018 531.6Z" fill="#fff" stroke="#000" stroke-width="1.1"/>
<ellipse cx="1031" cy="531.6" rx="13" ry="7.6" fill="#fff" stroke="#000" stroke-width="1.1"/>
<path d="M1019.4 527.4 L1019.4 530.8 A11.6 6.8 0 0 0 1042.6 530.8 L1042.6 527.4 A11.6 6.8 0 0 0 1019.4 527.4Z" fill="#fff" stroke="#000" stroke-width="1.1"/>
<ellipse cx="1031" cy="527.4" rx="11.6" ry="6.8" fill="#fff" stroke="#000" stroke-width="1.1"/>
<ellipse cx="1031" cy="527.2" rx="6.6" ry="3.8" fill="#fff" stroke="#000" stroke-width="1.1"/>
<path d="M1024.9 528 L1025 527.7 L1025.2 527.4 L1025.4 527.2 L1025.6 526.9 L1025.9 526.6 L1026.3 526.4 L1026.6 526.2 L1027 526 L1027.4 525.8 L1027.9 525.7 L1028.4 525.5 L1028.9 525.4 L1029.4 525.3 L1029.9 525.3 L1030.5 525.2 L1031 525.2 L1031.5 525.2 L1032.1 525.3 L1032.6 525.3 L1033.1 525.4 L1033.6 525.5 L1034.1 525.7 L1034.6 525.8 L1035 526 L1035.4 526.2 L1035.7 526.4 L1036.1 526.6 L1036.4 526.9 L1036.6 527.2 L1036.8 527.4 L1037 527.7 L1037.1 528" fill="none" stroke="#000" stroke-width="0.9"/>
<path d="M1028 526.8 l-6 -2.4" fill="none" stroke="#000" stroke-width="1.1"/>
<path d="M1024.5 373 V518 Q1024.5 523 1031 523 Q1037.5 523 1037.5 518 V373Z" fill="#fff" stroke="#000" stroke-width="1.2"/>
<path d="M1019.2 365.6 L1024.8 371.4 L1036.6 370.8 L1042.8 363.6 L1042.8 372.2 L1036.6 380 L1024.8 380.6 L1019.2 374.2Z" fill="#fff" stroke="#000" stroke-width="1.2"/>
<path d="M1024.8 371.4L1024.8 380.6" fill="none" stroke="#000" stroke-width="1.2"/>
<path d="M1036.6 370.8L1036.6 380" fill="none" stroke="#000" stroke-width="1.2"/>
<path d="M1019.2 365.6 L1025.5 358.4 L1037.4 357.6 L1042.8 363.6 L1036.6 370.8 L1024.8 371.4Z" fill="#fff" stroke="#000" stroke-width="1.2"/>
<path d="M930.2 587.7 L927.9 589.5 L925.8 591.6 L924 594 L922.4 596.9 L921 600 L920 603.4 L919.2 607.2 L918.7 611.1 L918.5 615.3 L918.6 619.7 L918.9 624.3 L919.6 628.9 L920.5 633.7 L921.7 638.6 L923.1 643.4 L924.9 648.3 L926.8 653.1 L929 657.8 L931.4 662.4 L934 666.8 L936.8 671.1 L939.7 675.2 L942.7 679 L945.9 682.6 L949.2 685.9 L952.5 688.8 L955.9 691.4 L959.2 693.7 L962.6 695.6 L966 697.1 L969.3 698.2 L972.5 698.9 L975.6 699.2 L978.6 699.1 L981.5 698.6 L984.1 697.6 L986.6 696.3" fill="none" stroke="#000" stroke-width="4.7" stroke-linecap="butt"/>
<path d="M830 691.2 L829 692 L828.1 692.9 L827.3 693.9 L826.7 695.1 L826.1 696.4 L825.7 697.9 L825.3 699.5 L825.1 701.1 L825 702.9 L825 704.8 L825.2 706.7 L825.5 708.7 L825.9 710.7 L826.4 712.7 L827 714.8 L827.7 716.8 L828.5 718.9 L829.5 720.9 L830.5 722.8 L831.6 724.7 L832.7 726.5 L834 728.2 L835.3 729.9 L836.6 731.4 L838 732.8 L839.4 734 L840.8 735.1 L842.3 736.1 L843.7 736.9 L845.1 737.5 L846.5 738 L847.9 738.3 L849.2 738.4 L850.4 738.3 L851.7 738.1 L852.8 737.7 L853.8 737.2 L999.3 643.9 L1000.3 643.2 L1001.2 642.2 L1002 641.2 L1002.7 639.9 L1003.3 638.5 L1003.7 637 L1004 635.4 L1004.2 633.6 L1004.3 631.8 L1004.2 629.9 L1004 627.9 L1003.7 625.8 L1003.3 623.7 L1002.7 621.6 L1002 619.5 L1001.2 617.4 L1000.3 615.3 L999.3 613.3 L998.2 611.3 L997.1 609.4 L995.8 607.6 L994.5 605.9 L993.2 604.3 L991.8 602.9 L990.3 601.5 L988.9 600.3 L987.4 599.3 L985.9 598.5 L984.5 597.8 L983 597.3 L981.6 596.9 L980.3 596.8 L978.9 596.8 L977.7 597 L976.5 597.4 L975.4 598Z" fill="#fff" stroke="#000" stroke-width="1.3"/>
<path d="M858.8 725 C858.8 713.1 851.2 698.5 841.9 692.6 C832.6 686.6 825 691.4 825 703.4 C825 715.3 832.6 729.9 841.9 735.8 C851.2 741.8 858.8 737 858.8 725Z" fill="#fff" stroke="#000" stroke-width="1.3"/>
<path d="M855.9 722.3 C855.9 712.9 850 701.4 842.6 696.7 C835.2 692 829.3 695.8 829.3 705.3 C829.3 714.7 835.2 726.2 842.6 730.9 C850 735.6 855.9 731.8 855.9 722.3Z" fill="none" stroke="#000" stroke-width="1.1"/>
<path d="M849.5 716.6 C849.5 712.6 847.1 707.9 844 705.9 C840.9 703.9 838.5 705.5 838.5 709.4 C838.5 713.4 840.9 718.1 844 720.1 C847.1 722.1 849.5 720.5 849.5 716.6Z" fill="#fff" stroke="#000" stroke-width="1.2"/>
<path d="M844.8 705.6 L844.4 705.4 L844 705.3 L843.7 705.3 L843.3 705.3 L843 705.4 L842.6 705.5 L842.3 705.6 L842.1 705.8 L841.8 706 L841.6 706.3 L841.4 706.6 L841.3 707 L841.1 707.4 L841 707.8 L841 708.3 L840.9 708.8 L840.9 709.3 L841 709.8 L841 710.4 L841.1 710.9 L841.3 711.5 L841.4 712.1 L841.6 712.6 L841.9 713.2 L842.1 713.7 L842.4 714.3 L842.7 714.8 L843 715.3 L843.3 715.8 L843.7 716.3 L844.1 716.7 L844.4 717.1 L844.8 717.4 L845.2 717.7 L845.6 718 L846 718.2 L846.4 718.4" fill="none" stroke="#000" stroke-width="1"/>
<path d="M986.6 696.3 L988.9 694.5 L991 692.4 L992.8 690 L994.4 687.1 L995.8 684 L996.8 680.6 L997.6 676.8 L998.1 672.9 L998.3 668.7 L998.2 664.3 L997.9 659.7 L997.2 655.1 L996.3 650.3 L995.1 645.4 L993.7 640.6 L991.9 635.7 L990 630.9 L987.8 626.2 L985.4 621.6 L982.8 617.2 L980 612.9 L977.1 608.8 L974.1 605 L970.9 601.4 L967.6 598.1 L964.3 595.2 L960.9 592.6 L957.6 590.3 L954.2 588.4 L950.8 586.9 L947.5 585.8 L944.3 585.1 L941.2 584.8 L938.2 584.9 L935.3 585.4 L932.7 586.4 L930.2 587.7" fill="none" stroke="#000" stroke-width="4.7" stroke-linecap="butt"/>
<path d="M1232.8 389.6 L1230.4 391.3 L1228.3 393.5 L1226.5 396 L1224.9 398.8 L1223.5 402 L1222.4 405.5 L1221.6 409.3 L1221.1 413.3 L1220.9 417.6 L1221 422 L1221.3 426.7 L1222 431.4 L1222.9 436.3 L1224.2 441.2 L1225.6 446.1 L1227.4 451 L1229.4 455.9 L1231.6 460.7 L1234 465.3 L1236.6 469.9 L1239.5 474.2 L1242.4 478.4 L1245.5 482.2 L1248.7 485.9 L1252.1 489.2 L1255.4 492.2 L1258.9 494.8 L1262.3 497.1 L1265.7 499.1 L1269.1 500.6 L1272.5 501.7 L1275.7 502.4 L1278.9 502.7 L1281.9 502.6 L1284.8 502.1 L1287.6 501.1 L1290.1 499.8 L1291.1 499.1 L1293.5 497.3 L1295.7 495.1 L1297.6 492.5 L1299.2 489.5 L1300.6 486.2 L1301.6 482.5 L1302.4 478.6 L1302.8 474.4 L1303 470 L1302.8 465.3 L1302.4 460.6 L1301.6 455.6 L1300.6 450.6 L1299.2 445.6 L1297.6 440.5 L1295.7 435.5 L1293.5 430.5 L1291.1 425.6 L1288.5 420.9 L1285.7 416.3 L1282.7 412 L1279.6 407.9 L1276.3 404.1 L1273 400.5 L1269.5 397.3 L1266 394.5 L1262.5 392 L1258.9 390 L1255.4 388.3 L1252 387.1 L1248.6 386.3 L1245.3 385.9 L1242.2 386 L1239.2 386.5 L1236.4 387.5 L1233.8 388.9Z" fill="#8e9a98" stroke="#000" stroke-width="1.2"/>
<path d="M1302 470.6 C1302 441.9 1283.8 407.1 1261.4 392.7 C1239 378.4 1220.9 390 1220.9 418.7 C1220.9 447.4 1239 482.3 1261.4 496.6 C1283.8 511 1302 499.3 1302 470.6Z" fill="#8e9a98" stroke="#000" stroke-width="1.2"/>
<path d="M1273 500.9 L1276.2 501.7 L1279.4 502 L1282.5 502 L1285.4 501.5 L1288.2 500.6 L1290.7 499.3 L1293.1 497.7 L1295.2 495.6 L1297.1 493.1 L1298.8 490.3 L1300.2 487.2 L1301.3 483.7 L1302.1 480 L1302.7 476 L1303 471.8 L1302.9 467.4 L1302.6 462.8 L1302 458 L1301.1 453.2 L1300 448.3 L1298.5 443.4 L1296.8 438.5 L1294.9 433.6 L1292.7 428.8 L1290.3 424.1 L1287.7 419.5 L1284.9 415.1 L1282 411 L1278.9 407 L1275.7 403.4 L1272.4 400 L1269 396.9 L1265.6 394.2 L1262.2 391.9 L1258.7 389.9 L1255.3 388.3 L1252 387.1" fill="none" stroke="#000" stroke-width="3"/>
<path d="M1224.8 394.7 L1222.5 396.4 L1220.4 398.6 L1218.5 401.1 L1216.9 403.9 L1215.5 407.1 L1214.5 410.6 L1213.7 414.4 L1213.2 418.4 L1212.9 422.7 L1213 427.1 L1213.4 431.8 L1214 436.5 L1215 441.4 L1216.2 446.3 L1217.7 451.2 L1219.4 456.1 L1221.4 461 L1223.6 465.8 L1226 470.5 L1228.7 475 L1231.5 479.3 L1234.5 483.5 L1237.6 487.4 L1240.8 491 L1244.1 494.3 L1247.5 497.3 L1250.9 500 L1254.3 502.3 L1257.8 504.2 L1261.2 505.7 L1264.5 506.8 L1267.8 507.5 L1270.9 507.8 L1274 507.7 L1276.9 507.2 L1279.6 506.2 L1282.1 504.9 L1290.1 499.8 L1292.5 497.9 L1294.6 495.7 L1296.5 493.1 L1298.2 490.2 L1299.5 486.8 L1300.6 483.2 L1301.3 479.3 L1301.8 475.1 L1302 470.6 L1301.8 466 L1301.3 461.2 L1300.6 456.3 L1299.5 451.3 L1298.2 446.2 L1296.5 441.2 L1294.6 436.1 L1292.5 431.2 L1290.1 426.3 L1287.5 421.6 L1284.7 417 L1281.7 412.7 L1278.6 408.6 L1275.3 404.7 L1271.9 401.2 L1268.5 398 L1265 395.2 L1261.4 392.7 L1257.9 390.6 L1254.4 389 L1250.9 387.8 L1247.6 387 L1244.3 386.6 L1241.2 386.7 L1238.2 387.2 L1235.4 388.2 L1232.8 389.6Z" fill="#8e9a98" stroke="#000" stroke-width="1.2"/>
<path d="M1294 475.7 C1294 447 1275.8 412.2 1253.5 397.8 C1231.1 383.5 1212.9 395.1 1212.9 423.8 C1212.9 452.5 1231.1 487.4 1253.5 501.7 C1275.8 516.1 1294 504.4 1294 475.7Z" fill="#8e9a98" stroke="#000" stroke-width="1.2"/>
<path d="M1222.7 396 L1220.4 397.8 L1218.3 399.9 L1216.4 402.4 L1214.8 405.3 L1213.5 408.5 L1212.4 412 L1211.6 415.7 L1211.1 419.8 L1210.9 424 L1210.9 428.5 L1211.3 433.1 L1212 437.8 L1212.9 442.7 L1214.1 447.6 L1215.6 452.5 L1217.3 457.4 L1219.3 462.3 L1221.5 467.1 L1224 471.8 L1226.6 476.3 L1229.4 480.7 L1232.4 484.8 L1235.5 488.7 L1238.7 492.3 L1242 495.6 L1245.4 498.6 L1248.8 501.3 L1252.2 503.6 L1255.7 505.5 L1259.1 507 L1262.4 508.2 L1265.7 508.9 L1268.9 509.2 L1271.9 509 L1274.8 508.5 L1277.5 507.6 L1280 506.2 L1282.1 504.9 L1284.5 503.1 L1286.7 500.8 L1288.6 498.2 L1290.2 495.3 L1291.5 491.9 L1292.6 488.3 L1293.4 484.4 L1293.8 480.2 L1294 475.7 L1293.8 471.1 L1293.4 466.3 L1292.6 461.4 L1291.5 456.4 L1290.2 451.4 L1288.6 446.3 L1286.7 441.2 L1284.5 436.3 L1282.1 431.4 L1279.5 426.7 L1276.7 422.1 L1273.7 417.8 L1270.6 413.7 L1267.3 409.8 L1264 406.3 L1260.5 403.1 L1257 400.3 L1253.5 397.8 L1249.9 395.7 L1246.4 394.1 L1243 392.9 L1239.6 392.1 L1236.3 391.7 L1233.2 391.8 L1230.2 392.3 L1227.4 393.3 L1224.8 394.7Z" fill="#fff" stroke="#000" stroke-width="1"/>
<path d="M1291.9 477.1 C1291.9 448.4 1273.8 413.5 1251.4 399.1 C1229 384.8 1210.9 396.4 1210.9 425.1 C1210.9 453.8 1229 488.7 1251.4 503 C1273.8 517.4 1291.9 505.8 1291.9 477.1Z" fill="#fff" stroke="#000" stroke-width="1"/>
<path d="M1214.2 401.4 L1211.9 403.2 L1209.8 405.3 L1207.9 407.8 L1206.3 410.7 L1205 413.9 L1203.9 417.4 L1203.1 421.2 L1202.6 425.2 L1202.4 429.5 L1202.5 433.9 L1202.8 438.5 L1203.5 443.3 L1204.4 448.1 L1205.6 453 L1207.1 458 L1208.8 462.9 L1210.8 467.8 L1213 472.5 L1215.5 477.2 L1218.1 481.8 L1220.9 486.1 L1223.9 490.2 L1227 494.1 L1230.2 497.7 L1233.5 501.1 L1236.9 504.1 L1240.3 506.7 L1243.8 509 L1247.2 510.9 L1250.6 512.5 L1253.9 513.6 L1257.2 514.3 L1260.4 514.6 L1263.4 514.5 L1266.3 513.9 L1269 513 L1271.6 511.6 L1280 506.2 L1282.4 504.4 L1284.6 502.2 L1286.5 499.6 L1288.1 496.6 L1289.5 493.3 L1290.5 489.6 L1291.3 485.7 L1291.8 481.5 L1291.9 477.1 L1291.8 472.4 L1291.3 467.7 L1290.5 462.7 L1289.5 457.7 L1288.1 452.7 L1286.5 447.6 L1284.6 442.6 L1282.4 437.6 L1280 432.7 L1277.4 428 L1274.6 423.4 L1271.6 419.1 L1268.5 415 L1265.2 411.2 L1261.9 407.6 L1258.4 404.4 L1254.9 401.6 L1251.4 399.1 L1247.9 397.1 L1244.3 395.4 L1240.9 394.2 L1237.5 393.4 L1234.3 393 L1231.1 393.1 L1228.1 393.6 L1225.3 394.6 L1222.7 396Z" fill="#8e9a98" stroke="#000" stroke-width="1.2"/>
<path d="M1283.4 482.5 C1283.4 453.8 1265.3 418.9 1242.9 404.6 C1220.5 390.2 1202.4 401.9 1202.4 430.6 C1202.4 459.3 1220.5 494.1 1242.9 508.5 C1265.3 522.8 1283.4 511.2 1283.4 482.5Z" fill="#8e9a98" stroke="#000" stroke-width="1.2"/>
<path d="M1212.9 402.3 L1210.5 404.1 L1208.4 406.2 L1206.6 408.7 L1204.9 411.6 L1203.6 414.8 L1202.5 418.3 L1201.7 422.1 L1201.2 426.1 L1201 430.4 L1201.1 434.8 L1201.4 439.4 L1202.1 444.2 L1203 449 L1204.2 453.9 L1205.7 458.9 L1207.5 463.8 L1209.4 468.6 L1211.7 473.4 L1214.1 478.1 L1216.7 482.6 L1219.5 487 L1222.5 491.1 L1225.6 495 L1228.8 498.6 L1232.1 502 L1235.5 505 L1238.9 507.6 L1242.4 509.9 L1245.8 511.8 L1249.2 513.4 L1252.6 514.5 L1255.8 515.2 L1259 515.5 L1262 515.4 L1264.9 514.8 L1267.6 513.9 L1270.2 512.5 L1271.6 511.6 L1273.9 509.8 L1276.1 507.6 L1278 505 L1279.6 502 L1281 498.7 L1282 495.1 L1282.8 491.1 L1283.3 486.9 L1283.4 482.5 L1283.3 477.9 L1282.8 473.1 L1282 468.2 L1281 463.2 L1279.6 458.1 L1278 453.1 L1276.1 448 L1273.9 443 L1271.6 438.2 L1268.9 433.4 L1266.1 428.9 L1263.2 424.5 L1260 420.4 L1256.8 416.6 L1253.4 413.1 L1249.9 409.9 L1246.4 407 L1242.9 404.6 L1239.4 402.5 L1235.9 400.9 L1232.4 399.6 L1229 398.8 L1225.8 398.5 L1222.6 398.6 L1219.7 399.1 L1216.8 400 L1214.2 401.4Z" fill="#fff" stroke="#000" stroke-width="1"/>
<path d="M1282 483.4 C1282 454.7 1263.9 419.8 1241.5 405.5 C1219.1 391.1 1201 402.8 1201 431.4 C1201 460.1 1219.1 495 1241.5 509.4 C1263.9 523.7 1282 512.1 1282 483.4Z" fill="#fff" stroke="#000" stroke-width="1"/>
<path d="M1211.6 403.1 L1209.3 404.9 L1207.2 407 L1205.3 409.5 L1203.7 412.4 L1202.4 415.6 L1201.3 419.1 L1200.5 422.8 L1200 426.9 L1199.8 431.1 L1199.9 435.6 L1200.2 440.2 L1200.9 445 L1201.8 449.8 L1203 454.7 L1204.5 459.6 L1206.2 464.5 L1208.2 469.4 L1210.5 474.2 L1212.9 478.9 L1215.5 483.4 L1218.3 487.8 L1221.3 491.9 L1224.4 495.8 L1227.6 499.4 L1230.9 502.7 L1234.3 505.7 L1237.7 508.4 L1241.2 510.7 L1244.6 512.6 L1248 514.1 L1251.3 515.3 L1254.6 516 L1257.8 516.3 L1260.8 516.1 L1263.7 515.6 L1266.4 514.7 L1269 513.3 L1270.2 512.5 L1272.6 510.7 L1274.7 508.5 L1276.6 505.9 L1278.2 502.9 L1279.6 499.6 L1280.7 496 L1281.4 492 L1281.9 487.8 L1282 483.4 L1281.9 478.8 L1281.4 474 L1280.7 469.1 L1279.6 464.1 L1278.2 459 L1276.6 453.9 L1274.7 448.9 L1272.6 443.9 L1270.2 439.1 L1267.6 434.3 L1264.8 429.8 L1261.8 425.4 L1258.6 421.3 L1255.4 417.5 L1252 414 L1248.6 410.8 L1245 407.9 L1241.5 405.5 L1238 403.4 L1234.5 401.8 L1231 400.5 L1227.7 399.7 L1224.4 399.4 L1221.2 399.4 L1218.3 400 L1215.5 400.9 L1212.9 402.3Z" fill="#fff" stroke="#000" stroke-width="1.2"/>
<path d="M1280.8 484.2 C1280.8 455.5 1262.7 420.6 1240.3 406.3 C1217.9 391.9 1199.8 403.5 1199.8 432.2 C1199.8 460.9 1217.9 495.8 1240.3 510.1 C1262.7 524.5 1280.8 512.9 1280.8 484.2Z" fill="#fff" stroke="#000" stroke-width="1.2"/>
<path d="M1256.1 469.9 C1256.1 457.2 1248 441.7 1238.1 435.3 C1228.2 428.9 1220.1 434.1 1220.1 446.9 C1220.1 459.6 1228.2 475.1 1238.1 481.5 C1248 487.9 1256.1 482.7 1256.1 469.9Z" fill="#fff" stroke="#000" stroke-width="1.4"/>
<clipPath id="ph"><path d="M1256.1 469.9 C1256.1 457.2 1248 441.7 1238.1 435.3 C1228.2 428.9 1220.1 434.1 1220.1 446.9 C1220.1 459.6 1228.2 475.1 1238.1 481.5 C1248 487.9 1256.1 482.7 1256.1 469.9Z"/></clipPath><g clip-path="url(#ph)">
<path d="M1257.2 468.8 C1257.2 456.3 1249.2 441.1 1239.5 434.9 C1229.7 428.6 1221.8 433.7 1221.8 446.2 C1221.8 458.7 1229.7 473.9 1239.5 480.2 C1249.2 486.4 1257.2 481.3 1257.2 468.8Z" fill="none" stroke="#000" stroke-width="1"/>
<path d="M1258.4 467.8 C1258.4 455.5 1250.5 440.4 1240.9 434.2 C1231.2 428 1223.4 433 1223.4 445.4 C1223.4 457.8 1231.2 472.9 1240.9 479 C1250.5 485.2 1258.4 480.2 1258.4 467.8Z" fill="none" stroke="#000" stroke-width="1"/>
<path d="M1262.9 464.3 C1262.9 452.3 1255.3 437.7 1245.9 431.6 C1236.5 425.6 1228.9 430.5 1228.9 442.5 C1228.9 454.5 1236.5 469.2 1245.9 475.2 C1255.3 481.2 1262.9 476.3 1262.9 464.3Z" fill="#fff" stroke="#000" stroke-width="1.2"/>
<path d="M1264.4 463.1 C1264.4 451.2 1256.9 436.7 1247.6 430.8 C1238.3 424.8 1230.8 429.6 1230.8 441.5 C1230.8 453.4 1238.3 467.9 1247.6 473.8 C1256.9 479.8 1264.4 475 1264.4 463.1Z" fill="none" stroke="#000" stroke-width="1"/>
</g>
<path d="M1220.6 501.1 C1220.6 488.8 1212.9 473.9 1203.3 467.8 C1193.7 461.7 1186 466.6 1186 478.9 C1186 491.2 1193.7 506.1 1203.3 512.2 C1212.9 518.3 1220.6 513.4 1220.6 501.1Z" fill="none" stroke="#000" stroke-width="3.4"/>
<path d="M1304.1 342.5 L1301.7 344.4 L1299.5 346.7 L1297.5 349.3 L1295.8 352.3 L1294.4 355.7 L1293.2 359.4 L1292.4 363.4 L1291.9 367.6 L1291.6 372.1 L1291.7 376.8 L1292.1 381.7 L1292.8 386.7 L1293.8 391.8 L1295.1 397 L1296.6 402.2 L1298.5 407.4 L1300.6 412.5 L1302.9 417.6 L1305.5 422.5 L1308.2 427.3 L1311.2 431.9 L1314.3 436.3 L1317.6 440.4 L1321 444.2 L1324.5 447.7 L1328.1 450.9 L1331.7 453.7 L1335.3 456.1 L1338.9 458.1 L1342.5 459.7 L1346.1 460.9 L1349.5 461.7 L1352.8 462 L1356.1 461.9 L1359.1 461.3 L1362 460.3 L1364.7 458.9 L1461.4 396.9 L1463.9 395 L1466.2 392.6 L1468.2 389.9 L1469.9 386.7 L1471.3 383.2 L1472.5 379.4 L1473.3 375.2 L1473.7 370.8 L1473.9 366.1 L1473.7 361.2 L1473.3 356.2 L1472.5 351 L1471.3 345.7 L1469.9 340.4 L1468.2 335 L1466.2 329.7 L1463.9 324.5 L1461.4 319.3 L1458.6 314.3 L1455.7 309.5 L1452.5 304.9 L1449.2 300.6 L1445.8 296.6 L1442.2 292.8 L1438.6 289.5 L1434.9 286.5 L1431.1 283.9 L1427.4 281.7 L1423.7 279.9 L1420.1 278.6 L1416.5 277.8 L1413.1 277.4 L1409.7 277.5 L1406.6 278.1 L1403.6 279.1 L1400.9 280.5Z" fill="#fff" stroke="#000" stroke-width="1.3"/>
<path d="M1377.2 428.1 C1377.2 397.8 1358 361 1334.4 345.9 C1310.8 330.7 1291.6 343 1291.6 373.3 C1291.6 403.6 1310.8 440.4 1334.4 455.5 C1358 470.7 1377.2 458.4 1377.2 428.1Z" fill="#fff" stroke="#000" stroke-width="1.3"/>
<path d="M1375.8 427.2 C1375.8 397.9 1357.3 362.3 1334.4 347.6 C1311.5 333 1293 344.9 1293 374.2 C1293 403.5 1311.5 439.1 1334.4 453.8 C1357.3 468.4 1375.8 456.5 1375.8 427.2Z" fill="none" stroke="#000" stroke-width="1.6"/>
<path d="M544.9 963.5 C544.9 936.6 527.9 903.8 506.9 890.4 C485.9 876.9 468.9 887.8 468.9 914.7 C468.9 941.6 485.9 974.4 506.9 987.8 C527.9 1001.3 544.9 990.4 544.9 963.5Z" fill="none" stroke="#000" stroke-width="3.9"/>
<path d="M533.4 843.8 L531 845.7 L528.8 848 L526.8 850.6 L525.1 853.6 L523.7 857 L522.5 860.7 L521.7 864.7 L521.2 868.9 L520.9 873.4 L521 878.1 L521.4 883 L522.1 888 L523.1 893.1 L524.4 898.3 L525.9 903.5 L527.8 908.7 L529.9 913.8 L532.2 918.9 L534.8 923.8 L537.5 928.6 L540.5 933.2 L543.6 937.6 L546.9 941.7 L550.3 945.5 L553.8 949 L557.4 952.2 L561 955 L564.6 957.4 L568.2 959.4 L571.8 961 L575.4 962.2 L578.8 963 L582.1 963.3 L585.4 963.2 L588.4 962.6 L591.3 961.6 L594 960.2 L690.7 898.2 L693.2 896.3 L695.5 893.9 L697.5 891.2 L699.2 888 L700.6 884.5 L701.8 880.7 L702.6 876.5 L703 872.1 L703.2 867.4 L703 862.5 L702.6 857.5 L701.8 852.3 L700.6 847 L699.2 841.7 L697.5 836.3 L695.5 831 L693.2 825.8 L690.7 820.6 L687.9 815.6 L685 810.8 L681.8 806.2 L678.5 801.9 L675.1 797.9 L671.5 794.1 L667.9 790.8 L664.2 787.8 L660.4 785.2 L656.7 783 L653 781.2 L649.4 779.9 L645.8 779.1 L642.4 778.7 L639 778.8 L635.9 779.4 L632.9 780.4 L630.2 781.8Z" fill="#fff" stroke="#000" stroke-width="1.3"/>
<path d="M606.5 929.4 C606.5 899.1 587.3 862.3 563.7 847.2 C540.1 832 520.9 844.3 520.9 874.6 C520.9 904.9 540.1 941.7 563.7 956.8 C587.3 972 606.5 959.7 606.5 929.4Z" fill="#fff" stroke="#000" stroke-width="1.3"/>
<path d="M605.1 928.5 C605.1 899.2 586.6 863.6 563.7 848.9 C540.8 834.3 522.3 846.2 522.3 875.5 C522.3 904.8 540.8 940.4 563.7 955.1 C586.6 969.7 605.1 957.8 605.1 928.5Z" fill="none" stroke="#000" stroke-width="1.6"/>
<path d="M736.3 709.1 L733.9 710.9 L731.8 713 L730 715.5 L728.3 718.4 L727 721.6 L725.9 725.1 L725.1 728.9 L724.6 732.9 L724.4 737.2 L724.5 741.6 L724.8 746.2 L725.5 751 L726.4 755.8 L727.6 760.7 L729.1 765.7 L730.9 770.6 L732.8 775.5 L735.1 780.2 L737.5 784.9 L740.1 789.5 L742.9 793.8 L745.9 797.9 L749 801.8 L752.2 805.4 L755.5 808.8 L758.9 811.8 L762.3 814.4 L765.8 816.7 L769.2 818.6 L772.6 820.2 L776 821.3 L779.2 822 L782.4 822.3 L785.4 822.2 L788.3 821.6 L791 820.7 L793.6 819.3 L795.9 817.8 L798.3 816 L800.5 813.8 L802.4 811.2 L804 808.2 L805.3 804.9 L806.4 801.3 L807.2 797.3 L807.6 793.1 L807.8 788.7 L807.6 784.1 L807.2 779.3 L806.4 774.4 L805.3 769.4 L804 764.3 L802.4 759.3 L800.5 754.2 L798.3 749.2 L795.9 744.4 L793.3 739.6 L790.5 735.1 L787.5 730.7 L784.4 726.6 L781.1 722.8 L777.7 719.3 L774.3 716.1 L770.8 713.3 L767.3 710.8 L763.7 708.7 L760.2 707.1 L756.8 705.8 L753.4 705 L750.1 704.7 L747 704.8 L744 705.3 L741.2 706.2 L738.6 707.6Z" fill="#fff" stroke="#000" stroke-width="1.2"/>
<path d="M805.4 790.2 C805.4 761.5 787.3 726.6 764.9 712.3 C742.5 697.9 724.4 709.6 724.4 738.3 C724.4 767 742.5 801.8 764.9 816.2 C787.3 830.5 805.4 818.9 805.4 790.2Z" fill="#fff" stroke="#000" stroke-width="1.2"/>
<path d="M787.5 820.7 L790.4 820.2 L793.1 819.3 L795.7 818 L798 816.3 L800.1 814.2 L802 811.7 L803.7 808.9 L805 805.7 L806.1 802.3 L807 798.6 L807.5 794.6 L807.8 790.3 L807.7 785.9 L807.4 781.3 L806.8 776.6 L805.9 771.8 L804.7 766.9 L803.3 762 L801.6 757.1 L799.6 752.2 L797.5 747.5 L795.1 742.8 L792.5 738.2 L789.7 733.9 L786.8 729.7 L783.7 725.8 L780.5 722.1 L777.2 718.8 L773.9 715.7 L770.5 713 L767 710.7 L763.6 708.7 L760.2 707.1" fill="none" stroke="#000" stroke-width="1.8"/>
<path d="M727.2 715 L724.8 716.7 L722.7 718.9 L720.9 721.4 L719.3 724.2 L717.9 727.4 L716.8 730.9 L716 734.7 L715.5 738.7 L715.3 743 L715.4 747.4 L715.7 752.1 L716.4 756.8 L717.3 761.7 L718.5 766.6 L720 771.5 L721.8 776.4 L723.8 781.3 L726 786.1 L728.4 790.8 L731 795.3 L733.8 799.6 L736.8 803.8 L739.9 807.7 L743.1 811.3 L746.4 814.6 L749.8 817.6 L753.2 820.3 L756.7 822.6 L760.1 824.5 L763.5 826 L766.9 827.1 L770.1 827.8 L773.3 828.1 L776.3 828 L779.2 827.5 L781.9 826.5 L784.5 825.2 L793.6 819.3 L796 817.5 L798.1 815.3 L800 812.7 L801.6 809.7 L803 806.4 L804.1 802.8 L804.8 798.8 L805.3 794.6 L805.4 790.2 L805.3 785.6 L804.8 780.8 L804.1 775.9 L803 770.9 L801.6 765.8 L800 760.8 L798.1 755.7 L796 750.7 L793.6 745.9 L791 741.1 L788.2 736.6 L785.2 732.2 L782 728.1 L778.8 724.3 L775.4 720.8 L772 717.6 L768.4 714.8 L764.9 712.3 L761.4 710.2 L757.9 708.6 L754.4 707.3 L751.1 706.5 L747.8 706.2 L744.7 706.3 L741.7 706.8 L738.9 707.7 L736.3 709.1Z" fill="#8e9a98" stroke="#000" stroke-width="1.2"/>
<path d="M796.4 796 C796.4 767.3 778.2 732.5 755.8 718.1 C733.4 703.8 715.3 715.4 715.3 744.1 C715.3 772.8 733.4 807.7 755.8 822 C778.2 836.4 796.4 824.7 796.4 796Z" fill="#8e9a98" stroke="#000" stroke-width="1.2"/>
<path d="M725.1 716.3 L722.8 718.1 L720.7 720.2 L718.8 722.7 L717.2 725.6 L715.8 728.8 L714.7 732.3 L714 736 L713.4 740.1 L713.2 744.3 L713.3 748.8 L713.7 753.4 L714.3 758.1 L715.3 763 L716.5 767.9 L717.9 772.8 L719.7 777.7 L721.7 782.6 L723.9 787.4 L726.3 792.1 L729 796.6 L731.8 801 L734.7 805.1 L737.8 809 L741.1 812.6 L744.4 815.9 L747.7 818.9 L751.2 821.6 L754.6 823.9 L758 825.8 L761.4 827.3 L764.8 828.5 L768.1 829.2 L771.2 829.5 L774.3 829.3 L777.1 828.8 L779.9 827.9 L782.4 826.5 L784.5 825.2 L786.9 823.4 L789 821.1 L790.9 818.5 L792.6 815.6 L793.9 812.2 L795 808.6 L795.7 804.7 L796.2 800.5 L796.4 796 L796.2 791.4 L795.7 786.6 L795 781.7 L793.9 776.7 L792.6 771.7 L790.9 766.6 L789 761.5 L786.9 756.6 L784.5 751.7 L781.9 747 L779.1 742.4 L776.1 738.1 L773 734 L769.7 730.1 L766.3 726.6 L762.9 723.4 L759.4 720.6 L755.8 718.1 L752.3 716.1 L748.8 714.4 L745.3 713.2 L742 712.4 L738.7 712 L735.6 712.1 L732.6 712.6 L729.8 713.6 L727.2 715Z" fill="#fff" stroke="#000" stroke-width="1"/>
<path d="M794.3 797.4 C794.3 768.7 776.1 733.8 753.7 719.4 C731.4 705.1 713.2 716.7 713.2 745.4 C713.2 774.1 731.4 809 753.7 823.3 C776.1 837.7 794.3 826.1 794.3 797.4Z" fill="#fff" stroke="#000" stroke-width="1"/>
<path d="M716.5 721.8 L714.2 723.5 L712.1 725.7 L710.2 728.2 L708.6 731.1 L707.3 734.2 L706.2 737.7 L705.4 741.5 L704.9 745.6 L704.7 749.8 L704.7 754.3 L705.1 758.9 L705.7 763.6 L706.7 768.5 L707.9 773.4 L709.4 778.3 L711.1 783.2 L713.1 788.1 L715.3 792.9 L717.8 797.6 L720.4 802.1 L723.2 806.5 L726.2 810.6 L729.3 814.5 L732.5 818.1 L735.8 821.4 L739.2 824.4 L742.6 827.1 L746 829.4 L749.5 831.3 L752.9 832.8 L756.2 834 L759.5 834.7 L762.6 835 L765.7 834.8 L768.6 834.3 L771.3 833.3 L773.8 832 L782.4 826.5 L784.8 824.7 L786.9 822.5 L788.8 819.9 L790.5 816.9 L791.8 813.6 L792.9 809.9 L793.7 806 L794.1 801.8 L794.3 797.4 L794.1 792.7 L793.7 788 L792.9 783 L791.8 778 L790.5 773 L788.8 767.9 L786.9 762.9 L784.8 757.9 L782.4 753 L779.8 748.3 L777 743.7 L774 739.4 L770.9 735.3 L767.6 731.5 L764.2 727.9 L760.8 724.7 L757.3 721.9 L753.7 719.4 L750.2 717.4 L746.7 715.7 L743.3 714.5 L739.9 713.7 L736.6 713.3 L733.5 713.4 L730.5 713.9 L727.7 714.9 L725.1 716.3Z" fill="#8e9a98" stroke="#000" stroke-width="1.2"/>
<path d="M785.7 802.9 C785.7 774.2 767.6 739.3 745.2 724.9 C722.8 710.6 704.6 722.2 704.6 750.9 C704.6 779.6 722.8 814.5 745.2 828.8 C767.6 843.2 785.7 831.6 785.7 802.9Z" fill="#8e9a98" stroke="#000" stroke-width="1.2"/>
<path d="M785.7 802.9 C785.7 774.2 767.6 739.3 745.2 724.9 C722.8 710.6 704.6 722.2 704.6 750.9 C704.6 779.6 722.8 814.5 745.2 828.8 C767.6 843.2 785.7 831.6 785.7 802.9Z" fill="#fff" stroke="#000" stroke-width="1.2"/>
<path d="M715.4 730.1 L713.3 731.6 L711.4 733.5 L709.7 735.8 L708.3 738.4 L707.1 741.2 L706.1 744.4 L705.4 747.8 L704.9 751.4 L704.7 755.2 L704.8 759.2 L705.1 763.3 L705.7 767.6 L706.6 772 L707.6 776.4 L709 780.8 L710.5 785.2 L712.3 789.6 L714.3 793.9 L716.5 798.1 L718.9 802.1 L721.4 806 L724 809.7 L726.8 813.2 L729.7 816.5 L732.7 819.5 L735.7 822.2 L738.8 824.5 L741.9 826.6 L745 828.3 L748 829.7 L751 830.7 L753.9 831.3 L756.8 831.6 L759.5 831.5 L762.1 831 L764.5 830.2 L766.8 828.9 L773.8 832 L776.2 830.2 L778.4 828 L780.3 825.4 L781.9 822.4 L783.3 819.1 L784.3 815.4 L785.1 811.5 L785.5 807.3 L785.7 802.9 L785.5 798.2 L785.1 793.5 L784.3 788.5 L783.3 783.5 L781.9 778.5 L780.3 773.4 L778.4 768.4 L776.2 763.4 L773.8 758.5 L771.2 753.8 L768.4 749.2 L765.4 744.9 L762.3 740.8 L759 737 L755.7 733.4 L752.2 730.2 L748.7 727.4 L745.2 724.9 L741.6 722.9 L738.1 721.2 L734.7 720 L731.3 719.2 L728 718.8 L724.9 718.9 L721.9 719.4 L719.1 720.4 L716.5 721.8Z" fill="#fff" stroke="#000" stroke-width="1.3"/>
<path d="M777.5 802.8 C777.5 777.1 761.2 745.8 741.1 732.9 C721 720 704.7 730.4 704.7 756.2 C704.7 781.9 721 813.2 741.1 826.1 C761.2 839 777.5 828.6 777.5 802.8Z" fill="#fff" stroke="#000" stroke-width="1.3"/>
<path d="M760.8 832.3 L763.5 831.9 L766.1 831 L768.4 829.8 L770.6 828.2 L772.5 826.3 L774.3 824 L775.8 821.4 L777 818.5 L778.1 815.2 L778.8 811.8 L779.3 808.1 L779.5 804.2 L779.5 800.1 L779.2 795.8 L778.6 791.4 L777.8 787 L776.7 782.4 L775.3 777.9 L773.7 773.4 L771.9 768.9 L769.9 764.4 L767.6 760.1 L765.2 755.9 L762.6 751.9 L759.9 748 L757.1 744.4 L754.1 741.1 L751.1 738 L747.9 735.2 L744.8 732.7 L741.6 730.5 L738.4 728.7 L735.3 727.3 L732.2 726.2 L729.2 725.5 L726.2 725.2 L723.4 725.3" fill="none" stroke="#000" stroke-width="1"/>
<path d="M756.6 790.4 C756.6 778.4 749 763.8 739.6 757.7 C730.2 751.7 722.6 756.6 722.6 768.6 C722.6 780.6 730.2 795.2 739.6 801.3 C749 807.3 756.6 802.4 756.6 790.4Z" fill="#fff" stroke="#000" stroke-width="1.3"/>
<path d="M732.9 755.6 L731.8 755.8 L730.7 756.1 L729.7 756.7 L728.7 757.4 L727.9 758.2 L727.1 759.2 L726.5 760.3 L725.9 761.6 L725.5 763 L725.2 764.5 L725 766.1 L724.9 767.8 L724.9 769.6 L725 771.4 L725.3 773.3 L725.7 775.2 L726.2 777.2 L726.8 779.2 L727.4 781.1 L728.2 783.1 L729.1 785 L730.1 786.8 L731.1 788.6 L732.3 790.4 L733.4 792 L734.7 793.6 L736 795 L737.3 796.3 L738.6 797.5 L740 798.6 L741.4 799.5 L742.7 800.3 L744.1 800.9 L745.4 801.3 L746.7 801.6 L748 801.7 L749.2 801.6 L750.4 801.4 L751.4 801 L752.4 800.5 L753.4 799.8 L754.2 798.9 L754.9 797.9" fill="none" stroke="#000" stroke-width="1"/>
<path d="M749.4 781.9 C749.4 777.4 746.5 771.9 743 769.6 C739.5 767.3 736.6 769.2 736.6 773.7 C736.6 778.2 739.5 783.7 743 786 C746.5 788.3 749.4 786.4 749.4 781.9Z" fill="#fff" stroke="#000" stroke-width="2"/>
<path d="M746.5 770.2 L746.1 769.8 L745.6 769.5 L745.2 769.2 L744.7 769 L744.3 768.9 L743.9 768.7 L743.5 768.7 L743.1 768.7 L742.7 768.8 L742.3 768.9 L742 769 L741.7 769.2 L741.4 769.5 L741.2 769.8 L741 770.2 L740.8 770.6 L740.6 771 L740.5 771.5 L740.4 772 L740.4 772.5 L740.4 773.1 L740.4 773.7 L740.5 774.3 L740.6 774.9 L740.8 775.6 L741 776.2 L741.2 776.8 L741.4 777.5 L741.7 778.1 L742 778.7 L742.4 779.3 L742.7 779.8 L743.1 780.4 L743.5 780.9 L743.9 781.3 L744.3 781.8 L744.8 782.2 L745.2 782.5 L745.6 782.8 L746.1 783.1 L746.5 783.3 L747 783.4 L747.4 783.5" fill="none" stroke="#000" stroke-width="1.1"/>
<path d="M830.4 743.6 C830.4 731.3 822.7 716.4 813.1 710.3 C803.5 704.2 795.8 709.1 795.8 721.4 C795.8 733.7 803.5 748.6 813.1 754.7 C822.7 760.8 830.4 755.9 830.4 743.6Z" fill="none" stroke="#000" stroke-width="3.4"/>
<path d="M1480 964.9 C1480 938 1463 905.2 1442 891.8 C1421 878.3 1404 889.2 1404 916.1 C1404 943 1421 975.8 1442 989.2 C1463 1002.7 1480 991.8 1480 964.9Z" fill="none" stroke="#000" stroke-width="3.9"/>
<path d="M1311.5 924 L1334.3 907.9 L1338.7 909 L1344.5 914.5 L1350.4 921.1 L1356.3 923.7 L1372.4 928.4 L1382.7 935.7 L1394.4 947.5 L1403.2 951.9 L1412 962.1 L1415.7 973.9 L1417.9 991.5 L1418.6 1004.7 L1416.7 1019.3 L1414.9 1041.3 L1414.9 1060.4 L1395.9 1073.9 L1388.5 1076.5 L1338.7 1012 L1309.3 938.7Z" fill="#fff" stroke="#000" stroke-width="1.3"/>
<path d="M1381.2 934.6 L1383.3 937.5" fill="none" stroke="#000" stroke-width="0.8"/>
<path d="M1383.8 937.1 L1385.9 940" fill="none" stroke="#000" stroke-width="0.8"/>
<path d="M1386.5 939.5 L1388.5 942.5" fill="none" stroke="#000" stroke-width="0.8"/>
<path d="M1389.1 942 L1391.2 945" fill="none" stroke="#000" stroke-width="0.8"/>
<path d="M1391.8 944.5 L1393.8 947.5" fill="none" stroke="#000" stroke-width="0.8"/>
<path d="M1394.4 947 L1396.5 950" fill="none" stroke="#000" stroke-width="0.8"/>
<path d="M1412 982.7 C1413.2 985.6 1413.7 984.1 1415.7 991.5 C1417.6 998.8 1417.6 995.4 1417.9 1004.7 C1418.1 1014 1416.9 1014.4 1416.4 1019.3" fill="none" stroke="#000" stroke-width="2"/>
<path d="M1334.3 931.6 L1350.4 921.1" fill="none" stroke="#000" stroke-width="1.1"/>
<path d="M1356.3 940.1 L1372.4 928.4" fill="none" stroke="#000" stroke-width="1.1"/>
<path d="M1378.3 959.2 L1394.4 947.5" fill="none" stroke="#000" stroke-width="1.1"/>
<path d="M1394.4 973.9 L1412 962.1" fill="none" stroke="#000" stroke-width="1.1"/>
<path d="M1397.3 997.3 L1415.7 987.1" fill="none" stroke="#000" stroke-width="1.1"/>
<path d="M1401.7 1026.7 L1416.4 1017.9" fill="none" stroke="#000" stroke-width="1.1"/>
<path d="M1395.9 1051.6 L1414.9 1041.3" fill="none" stroke="#000" stroke-width="1.1"/>
<path d="M1414.9 1041.3 L1414.9 1060.4" fill="none" stroke="#000" stroke-width="1.2"/>
<path d="M1310.1 928.4 C1313.1 925.2 1310.6 925.4 1313.7 923.4 C1316.9 921.5 1316.1 921.9 1319.6 922.5 C1323.1 923.2 1321.4 922.6 1324.3 925.5 C1327.2 928.3 1325.1 927.6 1328.4 931 C1331.7 934.5 1328.2 933.4 1334.3 935.7 C1340.4 938.1 1339.4 936.1 1346.7 938.1 C1354.1 940 1349.2 937.5 1356.3 941.6 C1363.4 945.7 1361.2 943.8 1368 950.4 C1374.8 957.1 1372.2 956.2 1376.8 961.5 C1381.4 966.9 1377.9 964.2 1381.8 966.5 C1385.7 968.8 1384.6 965.5 1388.5 968.4 C1392.5 971.4 1391.6 970.6 1393.7 975.3 C1395.7 980.1 1394.9 977.9 1394.7 982.7 C1394.5 987.5 1392.4 983.4 1392.9 989.7 C1393.4 996.1 1394.2 994.3 1396.2 1001.7 C1398.1 1009.2 1397.7 1003.7 1398.8 1012 C1399.9 1020.3 1399.9 1016.9 1399.5 1026.7 C1399.1 1036.4 1399.2 1032.9 1397.6 1041.3 C1396 1049.7 1395.6 1046.5 1394.7 1051.9 C1393.8 1057.3 1394.5 1053.1 1395 1057.5 C1395.5 1061.9 1396.4 1059.7 1396.2 1065.1 C1396 1070.5 1396.5 1069.3 1394.4 1073.6 C1392.3 1077.9 1393.4 1077 1390 1078 C1386.6 1079 1387.9 1079.4 1384.1 1076.5 C1380.3 1073.7 1381.5 1073 1378.6 1069.5 C1375.6 1066 1378.9 1067.8 1375.3 1066 C1371.8 1064.2 1374.4 1066.2 1368 1064.1 C1361.6 1062 1364.1 1063.8 1356.3 1059.7 C1348.4 1055.5 1351.4 1057.7 1344.5 1051.6 C1337.7 1045.5 1340.5 1047.1 1335.7 1041.3 C1330.9 1035.6 1333.3 1036.6 1330.2 1034.3 C1327 1032 1329 1033.9 1326.2 1034.3 C1323.4 1034.7 1325 1036.1 1321.8 1035.5 C1318.6 1034.9 1320.1 1036 1316.7 1032.5 C1313.2 1029.1 1313.6 1030.6 1311.5 1025.2 C1309.5 1019.8 1310.1 1021.4 1310.5 1016.4 C1310.9 1011.4 1311.9 1013.3 1312.9 1010.2 C1313.8 1007.2 1315.8 1010.5 1313.4 1007.3 C1311.1 1004.1 1308.6 1008.8 1305.8 1000.6 C1303 992.3 1305.4 998.4 1304.9 982.7 C1304.4 966.9 1304.4 969.9 1304.3 953.3 C1304.2 936.8 1302.7 941.4 1304.6 933.1 C1306.5 924.8 1307 931.6 1310.1 928.4Z" fill="#fff" stroke="#000" stroke-width="1.3"/>
<path d="M1366.8 1008.3 C1366.8 997.8 1360.1 985 1351.9 979.7 C1343.6 974.4 1337 978.7 1337 989.3 C1337 999.8 1343.6 1012.6 1351.9 1017.9 C1360.1 1023.2 1366.8 1018.9 1366.8 1008.3Z" fill="#fff" stroke="#000" stroke-width="1.2"/>
<path d="M1345.3 985.6L1324.5 944" fill="none" stroke="#fff" stroke-width="4.2" stroke-linecap="butt"/>
<path d="M1344.8 980L1326.4 943.1" fill="none" stroke="#000" stroke-width="1.1"/>
<path d="M1341.1 981.9L1322.6 945" fill="none" stroke="#000" stroke-width="1.1"/>
<path d="M1358.5 994.7L1379.3 981.8" fill="none" stroke="#fff" stroke-width="4.2" stroke-linecap="butt"/>
<path d="M1361.9 995L1380.4 983.5" fill="none" stroke="#000" stroke-width="1.1"/>
<path d="M1359.7 991.5L1378.1 980" fill="none" stroke="#000" stroke-width="1.1"/>
<path d="M1345.3 1002.9L1324.5 1015.8" fill="none" stroke="#fff" stroke-width="4.2" stroke-linecap="butt"/>
<path d="M1341.8 1002.6L1323.4 1014.1" fill="none" stroke="#000" stroke-width="1.1"/>
<path d="M1344.1 1006.1L1325.6 1017.6" fill="none" stroke="#000" stroke-width="1.1"/>
<path d="M1358.5 1012.2L1379.3 1054.2" fill="none" stroke="#fff" stroke-width="4.2" stroke-linecap="butt"/>
<path d="M1358.9 1017.8L1377.4 1055.1" fill="none" stroke="#000" stroke-width="1.1"/>
<path d="M1362.7 1015.9L1381.1 1053.3" fill="none" stroke="#000" stroke-width="1.1"/>
<path d="M1327.9 938.6 C1327.9 932.2 1323.8 924.4 1318.9 921.3 C1313.9 918.1 1309.9 920.7 1309.9 927 C1309.9 933.4 1313.9 941.2 1318.9 944.3 C1323.8 947.5 1327.9 944.9 1327.9 938.6Z" fill="#fff" stroke="#000" stroke-width="1.2"/>
<path d="M1322.7 926.6 L1322.1 925.8 L1321.4 925.1 L1320.8 924.4 L1320.1 923.8 L1319.5 923.2 L1318.8 922.8 L1318.1 922.3 L1317.4 922 L1316.8 921.8 L1316.1 921.6 L1315.5 921.5 L1314.9 921.5 L1314.3 921.6 L1313.7 921.7 L1313.2 922 L1312.7 922.3 L1312.3 922.7 L1311.9 923.2 L1311.6 923.7 L1311.3 924.3 L1311.1 925 L1310.9 925.7 L1310.8 926.5 L1310.7 927.4 L1310.7 928.2 L1310.8 929.1 L1310.9 930.1 L1311.1 931 L1311.3 932 L1311.6 933 L1311.9 933.9 L1312.3 934.9 L1312.7 935.9 L1313.2 936.8 L1313.7 937.7 L1314.3 938.6 L1314.8 939.4 L1315.4 940.2 L1316.1 940.9 L1316.7 941.6 L1317.4 942.2 L1318.1 942.7 L1318.8 943.2 L1319.4 943.6 L1320.1 943.9 L1320.8 944.1 L1321.4 944.3" fill="none" stroke="#000" stroke-width="0.9"/>
<path d="M1323.7 935.9 C1323.7 932.5 1321.5 928.3 1318.9 926.6 C1316.2 924.9 1314 926.3 1314 929.7 C1314 933.1 1316.2 937.3 1318.9 939 C1321.5 940.7 1323.7 939.3 1323.7 935.9Z" fill="#fff" stroke="#000" stroke-width="1.2"/>
<path d="M1393.9 984 C1393.9 977.7 1389.8 969.9 1384.9 966.7 C1379.9 963.5 1375.9 966.1 1375.9 972.5 C1375.9 978.9 1379.9 986.6 1384.9 989.8 C1389.8 993 1393.9 990.4 1393.9 984Z" fill="#fff" stroke="#000" stroke-width="1.2"/>
<path d="M1388.7 972.1 L1388.1 971.3 L1387.4 970.6 L1386.8 969.9 L1386.1 969.3 L1385.5 968.7 L1384.8 968.2 L1384.1 967.8 L1383.4 967.5 L1382.8 967.2 L1382.1 967.1 L1381.5 967 L1380.9 967 L1380.3 967 L1379.7 967.2 L1379.2 967.5 L1378.7 967.8 L1378.3 968.2 L1377.9 968.6 L1377.6 969.2 L1377.3 969.8 L1377.1 970.5 L1376.9 971.2 L1376.8 972 L1376.7 972.8 L1376.7 973.7 L1376.8 974.6 L1376.9 975.5 L1377.1 976.5 L1377.3 977.5 L1377.6 978.4 L1377.9 979.4 L1378.3 980.4 L1378.7 981.3 L1379.2 982.3 L1379.7 983.2 L1380.3 984 L1380.8 984.8 L1381.5 985.6 L1382.1 986.4 L1382.7 987 L1383.4 987.6 L1384.1 988.2 L1384.8 988.6 L1385.4 989 L1386.1 989.3 L1386.8 989.6 L1387.4 989.7" fill="none" stroke="#000" stroke-width="0.9"/>
<path d="M1389.7 981.4 C1389.7 977.9 1387.5 973.8 1384.9 972.1 C1382.2 970.3 1380 971.7 1380 975.2 C1380 978.6 1382.2 982.8 1384.9 984.5 C1387.5 986.2 1389.7 984.8 1389.7 981.4Z" fill="#fff" stroke="#000" stroke-width="1.2"/>
<path d="M1327.9 1025.1 C1327.9 1018.7 1323.8 1011 1318.9 1007.8 C1313.9 1004.6 1309.9 1007.2 1309.9 1013.6 C1309.9 1019.9 1313.9 1027.7 1318.9 1030.9 C1323.8 1034.1 1327.9 1031.5 1327.9 1025.1Z" fill="#fff" stroke="#000" stroke-width="1.2"/>
<path d="M1322.7 1013.2 L1322.1 1012.4 L1321.4 1011.6 L1320.8 1010.9 L1320.1 1010.3 L1319.5 1009.8 L1318.8 1009.3 L1318.1 1008.9 L1317.4 1008.6 L1316.8 1008.3 L1316.1 1008.1 L1315.5 1008 L1314.9 1008 L1314.3 1008.1 L1313.7 1008.3 L1313.2 1008.5 L1312.7 1008.8 L1312.3 1009.2 L1311.9 1009.7 L1311.6 1010.3 L1311.3 1010.9 L1311.1 1011.5 L1310.9 1012.3 L1310.8 1013.1 L1310.7 1013.9 L1310.7 1014.8 L1310.8 1015.7 L1310.9 1016.6 L1311.1 1017.6 L1311.3 1018.5 L1311.6 1019.5 L1311.9 1020.5 L1312.3 1021.4 L1312.7 1022.4 L1313.2 1023.3 L1313.7 1024.2 L1314.3 1025.1 L1314.8 1025.9 L1315.4 1026.7 L1316.1 1027.4 L1316.7 1028.1 L1317.4 1028.7 L1318.1 1029.2 L1318.8 1029.7 L1319.4 1030.1 L1320.1 1030.4 L1320.8 1030.6 L1321.4 1030.8" fill="none" stroke="#000" stroke-width="0.9"/>
<path d="M1323.7 1022.4 C1323.7 1019 1321.5 1014.8 1318.9 1013.1 C1316.2 1011.4 1314 1012.8 1314 1016.2 C1314 1019.7 1316.2 1023.8 1318.9 1025.6 C1321.5 1027.3 1323.7 1025.9 1323.7 1022.4Z" fill="#fff" stroke="#000" stroke-width="1.2"/>
<path d="M1393.9 1071.3 C1393.9 1064.9 1389.8 1057.2 1384.9 1054 C1379.9 1050.8 1375.9 1053.4 1375.9 1059.8 C1375.9 1066.1 1379.9 1073.9 1384.9 1077.1 C1389.8 1080.3 1393.9 1077.7 1393.9 1071.3Z" fill="#fff" stroke="#000" stroke-width="1.2"/>
<path d="M1388.7 1059.4 L1388.1 1058.6 L1387.4 1057.8 L1386.8 1057.1 L1386.1 1056.5 L1385.5 1056 L1384.8 1055.5 L1384.1 1055.1 L1383.4 1054.8 L1382.8 1054.5 L1382.1 1054.3 L1381.5 1054.2 L1380.9 1054.2 L1380.3 1054.3 L1379.7 1054.5 L1379.2 1054.7 L1378.7 1055 L1378.3 1055.4 L1377.9 1055.9 L1377.6 1056.5 L1377.3 1057.1 L1377.1 1057.7 L1376.9 1058.5 L1376.8 1059.3 L1376.7 1060.1 L1376.7 1061 L1376.8 1061.9 L1376.9 1062.8 L1377.1 1063.8 L1377.3 1064.7 L1377.6 1065.7 L1377.9 1066.7 L1378.3 1067.6 L1378.7 1068.6 L1379.2 1069.5 L1379.7 1070.4 L1380.3 1071.3 L1380.8 1072.1 L1381.5 1072.9 L1382.1 1073.6 L1382.7 1074.3 L1383.4 1074.9 L1384.1 1075.4 L1384.8 1075.9 L1385.4 1076.3 L1386.1 1076.6 L1386.8 1076.8 L1387.4 1077" fill="none" stroke="#000" stroke-width="0.9"/>
<path d="M1389.7 1068.6 C1389.7 1065.2 1387.5 1061 1384.9 1059.3 C1382.2 1057.6 1380 1059 1380 1062.4 C1380 1065.9 1382.2 1070 1384.9 1071.8 C1387.5 1073.5 1389.7 1072.1 1389.7 1068.6Z" fill="#fff" stroke="#000" stroke-width="1.2"/>
<path d="M1361.1 958.4 C1361.1 954.4 1358.6 949.7 1355.5 947.7 C1352.5 945.7 1350 947.3 1350 951.2 C1350 955.2 1352.5 959.9 1355.5 961.9 C1358.6 963.9 1361.1 962.3 1361.1 958.4Z" fill="#fff" stroke="#000" stroke-width="1.1"/>
<path d="M1358.2 948.4 L1357.8 948.1 L1357.5 947.8 L1357.1 947.6 L1356.7 947.4 L1356.3 947.3 L1355.9 947.2 L1355.6 947.1 L1355.2 947.1 L1354.9 947.2 L1354.6 947.3 L1354.3 947.4 L1354.1 947.6 L1353.8 947.8 L1353.6 948.1 L1353.4 948.4 L1353.3 948.8 L1353.1 949.1 L1353 949.6 L1353 950 L1352.9 950.5 L1352.9 951 L1353 951.5 L1353 952 L1353.1 952.5 L1353.3 953.1 L1353.4 953.6 L1353.6 954.2 L1353.8 954.7 L1354.1 955.3 L1354.4 955.8 L1354.6 956.3 L1355 956.8 L1355.3 957.3 L1355.6 957.7 L1356 958.1 L1356.4 958.5 L1356.7 958.8 L1357.1 959.1 L1357.5 959.4 L1357.9 959.6 L1358.3 959.8 L1358.6 959.9 L1359 960 L1359.4 960 L1359.7 960" fill="none" stroke="#000" stroke-width="1"/>
<path d="M1361.1 1046.4 C1361.1 1042.4 1358.6 1037.7 1355.5 1035.7 C1352.5 1033.7 1350 1035.3 1350 1039.3 C1350 1043.2 1352.5 1047.9 1355.5 1049.9 C1358.6 1051.9 1361.1 1050.3 1361.1 1046.4Z" fill="#fff" stroke="#000" stroke-width="1.1"/>
<path d="M1358.2 1036.4 L1357.8 1036.1 L1357.5 1035.8 L1357.1 1035.6 L1356.7 1035.4 L1356.3 1035.3 L1355.9 1035.2 L1355.6 1035.1 L1355.2 1035.1 L1354.9 1035.2 L1354.6 1035.3 L1354.3 1035.4 L1354.1 1035.6 L1353.8 1035.8 L1353.6 1036.1 L1353.4 1036.4 L1353.3 1036.8 L1353.1 1037.1 L1353 1037.6 L1353 1038 L1352.9 1038.5 L1352.9 1039 L1353 1039.5 L1353 1040 L1353.1 1040.5 L1353.3 1041.1 L1353.4 1041.6 L1353.6 1042.2 L1353.8 1042.7 L1354.1 1043.3 L1354.4 1043.8 L1354.6 1044.3 L1355 1044.8 L1355.3 1045.3 L1355.6 1045.7 L1356 1046.1 L1356.4 1046.5 L1356.7 1046.8 L1357.1 1047.1 L1357.5 1047.4 L1357.9 1047.6 L1358.3 1047.8 L1358.6 1047.9 L1359 1048 L1359.4 1048 L1359.7 1048" fill="none" stroke="#000" stroke-width="1"/>
<path d="M374.7 924 L396 908 L400.7 906.7 L406 910 L412.7 918.7 L416.7 920 L424.7 921.3 L435.3 926 L446 932.7 L454 940.7 L462 950 L468.7 952.7 L474 958 L478 966 L478.7 974 L478 976.7 L486 982.7 L486 1052 L478 1057.7 L478 1060.9 L458 1076.3 L451.3 1076.7 L416.7 1023.3 L376.7 943.3Z" fill="#fff" stroke="#000" stroke-width="1.3"/>
<path d="M442 928.9 L443.9 931.9" fill="none" stroke="#000" stroke-width="0.8"/>
<path d="M444.7 931.2 L446.5 934.1" fill="none" stroke="#000" stroke-width="0.8"/>
<path d="M447.3 933.5 L449.2 936.4" fill="none" stroke="#000" stroke-width="0.8"/>
<path d="M450 935.7 L451.9 938.7" fill="none" stroke="#000" stroke-width="0.8"/>
<path d="M452.7 938 L454.5 940.9" fill="none" stroke="#000" stroke-width="0.8"/>
<path d="M455.3 940.3 L457.2 943.2" fill="none" stroke="#000" stroke-width="0.8"/>
<path d="M458 942.5 L459.9 945.5" fill="none" stroke="#000" stroke-width="0.8"/>
<path d="M435.3 926 C438.9 928.3 439.3 927.8 446 932.9 C452.7 938 450 935.6 455.3 941.3 C460.7 947 459.8 947.1 462 950" fill="none" stroke="#000" stroke-width="1.6"/>
<path d="M398 930 L412.7 918.7" fill="none" stroke="#000" stroke-width="1.1"/>
<path d="M419.3 938.3 L435.3 926" fill="none" stroke="#000" stroke-width="1.1"/>
<path d="M440.7 960.9 L460.9 948.7" fill="none" stroke="#000" stroke-width="1.1"/>
<path d="M457.7 971.6 L476 961.3" fill="none" stroke="#000" stroke-width="1.1"/>
<path d="M461.3 989.3 L468.7 994 L486 982.7 L478 976.7Z" fill="#fff" stroke="#000" stroke-width="1.2"/>
<path d="M468.7 994 L486 982.7 L486 1052 L468.7 1063.3Z" fill="#fff" stroke="#000" stroke-width="1.2"/>
<path d="M461.3 989.3 L468.7 994 L468.7 1063.3 L462 1059.1Z" fill="#fff" stroke="#000" stroke-width="1.2"/>
<path d="M470 996.3 L484.7 986.3 L484.7 1004.4 L470 1013.6Z" fill="#fff" stroke="#000" stroke-width="1"/>
<path d="M469.7 1018.3 L484.9 1009.1 L484.9 1029.3 L469.7 1038.3Z" fill="#fff" stroke="#000" stroke-width="1"/>
<path d="M470 1041.3 L484.7 1032.9 L484.7 1050 L470 1059.3Z" fill="#fff" stroke="#000" stroke-width="1"/>
<path d="M472 1043.3 L483.1 1036.7 L483.1 1049.3 L472 1056Z" fill="none" stroke="#000" stroke-width="0.9"/>
<path d="M485.3 992.8 C485.3 990 483.5 988.8 481.3 990.2 C479.1 991.6 477.3 995.1 477.3 997.9 C477.3 1000.7 479.1 1001.8 481.3 1000.4 C483.5 999 485.3 995.6 485.3 992.8Z" fill="#fff" stroke="#000" stroke-width="1.1"/>
<path d="M481.8 998.7 L482.1 998.5 L482.3 998.2 L482.6 998 L482.8 997.7 L483 997.3 L483.2 997 L483.4 996.7 L483.6 996.3 L483.7 996 L483.9 995.6 L484 995.2 L484.1 994.9 L484.2 994.5 L484.2 994.1 L484.3 993.8 L484.3 993.4 L484.3 993.1 L484.2 992.8 L484.2 992.5 L484.1 992.3 L484 992 L483.9 991.8 L483.7 991.6 L483.6 991.5 L483.4 991.3 L483.2 991.2 L483 991.2 L482.8 991.1 L482.6 991.1 L482.3 991.1 L482.1 991.2 L481.8 991.3 L481.6 991.4 L481.3 991.6 L481.1 991.7 L480.8 991.9 L480.6 992.2 L480.3 992.4 L480.1 992.7 L479.9 993" fill="none" stroke="#000" stroke-width="0.9"/>
<path d="M482.2 1019.8 C482.2 1015.9 479.7 1014.3 476.7 1016.2 C473.6 1018.2 471.1 1023 471.1 1026.9 C471.1 1030.8 473.6 1032.4 476.7 1030.4 C479.7 1028.5 482.2 1023.7 482.2 1019.8Z" fill="#fff" stroke="#000" stroke-width="1.2"/>
<path d="M477.4 1028.3 L477.8 1028 L478.1 1027.6 L478.5 1027.2 L478.8 1026.8 L479.2 1026.3 L479.4 1025.8 L479.7 1025.3 L480 1024.8 L480.2 1024.2 L480.4 1023.7 L480.6 1023.2 L480.7 1022.6 L480.8 1022.1 L480.9 1021.6 L481 1021.1 L481 1020.6 L481 1020.1 L480.9 1019.6 L480.8 1019.2 L480.7 1018.8 L480.6 1018.5 L480.4 1018.2 L480.2 1017.9 L480 1017.6 L479.7 1017.4 L479.4 1017.3 L479.2 1017.2 L478.8 1017.1 L478.5 1017.1 L478.1 1017.2 L477.8 1017.3 L477.4 1017.4 L477 1017.6 L476.7 1017.8 L476.3 1018 L475.9 1018.3 L475.5 1018.7 L475.2 1019.1 L474.8 1019.5 L474.5 1019.9" fill="none" stroke="#000" stroke-width="0.9"/>
<path d="M478.3 1023.3 L480 1026.7" fill="none" stroke="#000" stroke-width="1"/>
<path d="M473.3 996.7 C473.8 998 474.8 998.4 474.7 1000.7 C474.5 1002.9 473.2 1001.6 472.9 1003.3 C472.7 1005.1 472.5 1004.7 474 1006 C475.5 1007.3 476.2 1006.9 477.3 1007.3" fill="none" stroke="#000" stroke-width="1.1"/>
<path d="M472 1010.7 C472.4 1009.3 472 1008.2 473.3 1006.7 C474.7 1005.1 474.7 1005.1 476 1006 C477.3 1006.9 476.9 1008.2 477.3 1009.3" fill="none" stroke="#000" stroke-width="1.1"/>
<path d="M373.7 930 C373.7 926.2 373 927.6 374.7 924.7 C376.3 921.8 375.6 922.2 378.7 921.3 C381.8 920.4 380.4 920.2 384 922 C387.6 923.8 386.5 923.2 389.3 926.7 C392.1 930.1 390 930.3 392.4 932.4 C394.8 934.5 392.1 932.1 396.7 932.9 C401.2 933.7 400.2 933 406 934.8 C411.8 936.6 407.8 934.5 414 938.3 C420.2 942 418.4 940.8 424.7 946 C430.9 951.2 428.1 949 432.7 954 C437.2 959 434.7 956.6 438.3 960.9 C441.8 965.2 439.9 965.2 443.3 966.9 C446.8 968.6 445.1 965.2 448.7 966 C452.2 966.8 451.3 966.2 454 969.3 C456.7 972.4 455.6 971.1 456.7 975.3 C457.8 979.6 457.7 977.7 457.3 982 C457 986.3 454.8 985.8 455.6 988.3 C456.4 990.7 457.8 988.1 459.6 989.3 C461.4 990.6 460.3 985.1 460.9 992 C461.6 998.9 461.3 995.1 461.5 1010 C461.6 1024.9 461.4 1020.6 461.5 1036.7 C461.6 1052.8 462.8 1050.6 461.7 1058.3 C460.7 1065.9 459.1 1057 458.3 1059.6 C457.5 1062.2 459.9 1060.8 459.3 1066 C458.8 1071.2 459.3 1071.5 456.7 1075.1 C454 1078.6 455.1 1077.5 451.3 1076.7 C447.6 1075.9 448.6 1076.6 445.3 1072.7 C442 1068.8 443.9 1068.5 441.5 1064.9 C439 1061.4 441.8 1063.6 438 1062 C434.2 1060.4 435.3 1062.4 430 1060.1 C424.7 1057.9 429.1 1060.5 422 1055.3 C414.9 1050.2 416.2 1051.2 408.7 1044.7 C401.1 1038.1 404.2 1039.6 399.3 1035.6 C394.4 1031.6 397.1 1034.1 394 1032.7 C390.9 1031.2 393.8 1032 390 1031.3 C386.2 1030.7 387.1 1032.9 382.7 1030.7 C378.2 1028.4 379.6 1029.3 376.7 1024.7 C373.8 1020 374.4 1021.6 374 1016.7 C373.6 1011.8 373.8 1013.5 375.3 1010 C376.9 1006.5 378.4 1010.7 378.7 1006.3 C378.9 1001.8 377.6 1004.3 376.1 996.7 C374.6 989 374.9 992.2 374.1 983.3 C373.3 974.4 373.5 978.9 373.7 970 C374 961.1 373.8 964.7 374.8 956.7 C375.8 948.7 375.7 951.1 376.7 946 C377.6 940.9 378.4 944.7 377.7 941.3 C377.1 938 376.1 939.8 374.8 936 C373.5 932.2 373.8 933.8 373.7 930Z" fill="#fff" stroke="#000" stroke-width="1.3"/>
<path d="M430.5 1006.9 C430.5 996.3 423.8 983.5 415.6 978.2 C407.4 973 400.7 977.2 400.7 987.8 C400.7 998.3 407.4 1011.2 415.6 1016.4 C423.8 1021.7 430.5 1017.4 430.5 1006.9Z" fill="#fff" stroke="#000" stroke-width="1.2"/>
<path d="M408.9 984.4L387.7 943.7" fill="none" stroke="#fff" stroke-width="4.2" stroke-linecap="butt"/>
<path d="M408.4 978.9L389.6 942.7" fill="none" stroke="#000" stroke-width="1.1"/>
<path d="M404.7 980.8L385.8 944.6" fill="none" stroke="#000" stroke-width="1.1"/>
<path d="M422.3 992.9L443.6 979.1" fill="none" stroke="#fff" stroke-width="4.2" stroke-linecap="butt"/>
<path d="M425.9 993.2L444.7 980.8" fill="none" stroke="#000" stroke-width="1.1"/>
<path d="M423.6 989.6L442.5 977.3" fill="none" stroke="#000" stroke-width="1.1"/>
<path d="M408.9 1001.7L387.7 1015.6" fill="none" stroke="#fff" stroke-width="4.2" stroke-linecap="butt"/>
<path d="M405.4 1001.5L386.6 1013.8" fill="none" stroke="#000" stroke-width="1.1"/>
<path d="M407.7 1005L388.9 1017.4" fill="none" stroke="#000" stroke-width="1.1"/>
<path d="M422.3 1010.7L443.6 1052.7" fill="none" stroke="#fff" stroke-width="4.2" stroke-linecap="butt"/>
<path d="M422.8 1016.3L441.7 1053.6" fill="none" stroke="#000" stroke-width="1.1"/>
<path d="M426.6 1014.4L445.5 1051.7" fill="none" stroke="#000" stroke-width="1.1"/>
<path d="M391 938.4 C391 932.1 387 924.3 382 921.1 C377 917.9 373 920.5 373 926.9 C373 933.3 377 941 382 944.2 C387 947.4 391 944.8 391 938.4Z" fill="#fff" stroke="#000" stroke-width="1.2"/>
<path d="M385.8 926.5 L385.2 925.7 L384.6 925 L383.9 924.3 L383.3 923.7 L382.6 923.1 L381.9 922.6 L381.2 922.2 L380.6 921.9 L379.9 921.6 L379.2 921.5 L378.6 921.4 L378 921.4 L377.4 921.4 L376.9 921.6 L376.4 921.8 L375.9 922.2 L375.4 922.6 L375.1 923 L374.7 923.6 L374.4 924.2 L374.2 924.9 L374 925.6 L373.9 926.4 L373.9 927.2 L373.9 928.1 L373.9 929 L374 929.9 L374.2 930.9 L374.4 931.9 L374.7 932.8 L375 933.8 L375.4 934.8 L375.9 935.7 L376.3 936.6 L376.8 937.6 L377.4 938.4 L378 939.2 L378.6 940 L379.2 940.7 L379.9 941.4 L380.5 942 L381.2 942.6 L381.9 943 L382.6 943.4 L383.2 943.7 L383.9 944 L384.6 944.1" fill="none" stroke="#000" stroke-width="0.9"/>
<path d="M386.8 935.8 C386.8 932.3 384.7 928.2 382 926.5 C379.3 924.7 377.2 926.1 377.2 929.6 C377.2 933 379.3 937.2 382 938.9 C384.7 940.6 386.8 939.2 386.8 935.8Z" fill="#fff" stroke="#000" stroke-width="1.2"/>
<path d="M458.3 981.1 C458.3 974.7 454.3 967 449.3 963.8 C444.4 960.6 440.3 963.2 440.3 969.6 C440.3 975.9 444.4 983.7 449.3 986.9 C454.3 990.1 458.3 987.5 458.3 981.1Z" fill="#fff" stroke="#000" stroke-width="1.2"/>
<path d="M453.1 969.2 L452.5 968.4 L451.9 967.6 L451.3 966.9 L450.6 966.3 L449.9 965.8 L449.2 965.3 L448.6 964.9 L447.9 964.6 L447.2 964.3 L446.6 964.1 L445.9 964 L445.3 964 L444.7 964.1 L444.2 964.3 L443.7 964.5 L443.2 964.8 L442.8 965.2 L442.4 965.7 L442.1 966.3 L441.8 966.9 L441.6 967.5 L441.4 968.3 L441.3 969.1 L441.2 969.9 L441.2 970.8 L441.3 971.7 L441.4 972.6 L441.5 973.6 L441.8 974.5 L442 975.5 L442.4 976.5 L442.8 977.4 L443.2 978.4 L443.7 979.3 L444.2 980.2 L444.7 981.1 L445.3 981.9 L445.9 982.7 L446.5 983.4 L447.2 984.1 L447.9 984.7 L448.5 985.2 L449.2 985.7 L449.9 986.1 L450.6 986.4 L451.2 986.6 L451.9 986.8" fill="none" stroke="#000" stroke-width="0.9"/>
<path d="M454.2 978.4 C454.2 975 452 970.8 449.3 969.1 C446.7 967.4 444.5 968.8 444.5 972.2 C444.5 975.7 446.7 979.8 449.3 981.5 C452 983.3 454.2 981.9 454.2 978.4Z" fill="#fff" stroke="#000" stroke-width="1.2"/>
<path d="M391 1025.1 C391 1018.7 387 1011 382 1007.8 C377 1004.6 373 1007.2 373 1013.6 C373 1019.9 377 1027.7 382 1030.9 C387 1034.1 391 1031.5 391 1025.1Z" fill="#fff" stroke="#000" stroke-width="1.2"/>
<path d="M385.8 1013.2 L385.2 1012.4 L384.6 1011.6 L383.9 1010.9 L383.3 1010.3 L382.6 1009.8 L381.9 1009.3 L381.2 1008.9 L380.6 1008.6 L379.9 1008.3 L379.2 1008.1 L378.6 1008 L378 1008 L377.4 1008.1 L376.9 1008.3 L376.4 1008.5 L375.9 1008.8 L375.4 1009.2 L375.1 1009.7 L374.7 1010.3 L374.4 1010.9 L374.2 1011.5 L374 1012.3 L373.9 1013.1 L373.9 1013.9 L373.9 1014.8 L373.9 1015.7 L374 1016.6 L374.2 1017.6 L374.4 1018.5 L374.7 1019.5 L375 1020.5 L375.4 1021.4 L375.9 1022.4 L376.3 1023.3 L376.8 1024.2 L377.4 1025.1 L378 1025.9 L378.6 1026.7 L379.2 1027.4 L379.9 1028.1 L380.5 1028.7 L381.2 1029.2 L381.9 1029.7 L382.6 1030.1 L383.2 1030.4 L383.9 1030.6 L384.6 1030.8" fill="none" stroke="#000" stroke-width="0.9"/>
<path d="M386.8 1022.4 C386.8 1019 384.7 1014.8 382 1013.1 C379.3 1011.4 377.2 1012.8 377.2 1016.2 C377.2 1019.7 379.3 1023.8 382 1025.5 C384.7 1027.3 386.8 1025.9 386.8 1022.4Z" fill="#fff" stroke="#000" stroke-width="1.2"/>
<path d="M458.3 1069.8 C458.3 1063.4 454.3 1055.6 449.3 1052.5 C444.4 1049.3 440.3 1051.9 440.3 1058.2 C440.3 1064.6 444.4 1072.4 449.3 1075.5 C454.3 1078.7 458.3 1076.1 458.3 1069.8Z" fill="#fff" stroke="#000" stroke-width="1.2"/>
<path d="M453.1 1057.8 L452.5 1057 L451.9 1056.3 L451.3 1055.6 L450.6 1055 L449.9 1054.4 L449.2 1054 L448.6 1053.5 L447.9 1053.2 L447.2 1053 L446.6 1052.8 L445.9 1052.7 L445.3 1052.7 L444.7 1052.8 L444.2 1052.9 L443.7 1053.2 L443.2 1053.5 L442.8 1053.9 L442.4 1054.4 L442.1 1054.9 L441.8 1055.5 L441.6 1056.2 L441.4 1056.9 L441.3 1057.7 L441.2 1058.6 L441.2 1059.4 L441.3 1060.3 L441.4 1061.3 L441.5 1062.2 L441.8 1063.2 L442 1064.2 L442.4 1065.1 L442.8 1066.1 L443.2 1067.1 L443.7 1068 L444.2 1068.9 L444.7 1069.8 L445.3 1070.6 L445.9 1071.4 L446.5 1072.1 L447.2 1072.8 L447.9 1073.4 L448.5 1073.9 L449.2 1074.4 L449.9 1074.8 L450.6 1075.1 L451.2 1075.3 L451.9 1075.5" fill="none" stroke="#000" stroke-width="0.9"/>
<path d="M454.2 1067.1 C454.2 1063.7 452 1059.5 449.3 1057.8 C446.7 1056.1 444.5 1057.5 444.5 1060.9 C444.5 1064.3 446.7 1068.5 449.3 1070.2 C452 1071.9 454.2 1070.5 454.2 1067.1Z" fill="#fff" stroke="#000" stroke-width="1.2"/>
<path d="M423.8 957.2 C423.8 953.2 421.3 948.5 418.3 946.5 C415.2 944.5 412.7 946.1 412.7 950 C412.7 954 415.2 958.7 418.3 960.7 C421.3 962.7 423.8 961.1 423.8 957.2Z" fill="#fff" stroke="#000" stroke-width="1.1"/>
<path d="M421 947.2 L420.6 946.9 L420.2 946.6 L419.8 946.4 L419.4 946.2 L419 946.1 L418.7 946 L418.3 945.9 L418 945.9 L417.7 946 L417.3 946.1 L417.1 946.2 L416.8 946.4 L416.5 946.6 L416.3 946.9 L416.1 947.2 L416 947.6 L415.9 947.9 L415.8 948.4 L415.7 948.8 L415.7 949.3 L415.7 949.8 L415.7 950.3 L415.8 950.8 L415.9 951.3 L416 951.9 L416.2 952.4 L416.4 953 L416.6 953.5 L416.8 954.1 L417.1 954.6 L417.4 955.1 L417.7 955.6 L418 956.1 L418.4 956.5 L418.7 956.9 L419.1 957.3 L419.5 957.6 L419.8 957.9 L420.2 958.2 L420.6 958.4 L421 958.6 L421.4 958.7 L421.7 958.8 L422.1 958.8 L422.4 958.8" fill="none" stroke="#000" stroke-width="1"/>
<path d="M423.8 1043.6 C423.8 1039.6 421.3 1034.9 418.3 1032.9 C415.2 1030.9 412.7 1032.5 412.7 1036.4 C412.7 1040.4 415.2 1045.1 418.3 1047.1 C421.3 1049.1 423.8 1047.5 423.8 1043.6Z" fill="#fff" stroke="#000" stroke-width="1.1"/>
<path d="M421 1033.6 L420.6 1033.3 L420.2 1033 L419.8 1032.8 L419.4 1032.6 L419 1032.5 L418.7 1032.4 L418.3 1032.3 L418 1032.3 L417.7 1032.4 L417.3 1032.5 L417.1 1032.6 L416.8 1032.8 L416.5 1033 L416.3 1033.3 L416.1 1033.6 L416 1034 L415.9 1034.3 L415.8 1034.8 L415.7 1035.2 L415.7 1035.7 L415.7 1036.2 L415.7 1036.7 L415.8 1037.2 L415.9 1037.7 L416 1038.3 L416.2 1038.8 L416.4 1039.4 L416.6 1039.9 L416.8 1040.5 L417.1 1041 L417.4 1041.5 L417.7 1042 L418 1042.5 L418.4 1042.9 L418.7 1043.3 L419.1 1043.7 L419.5 1044 L419.8 1044.3 L420.2 1044.6 L420.6 1044.8 L421 1045 L421.4 1045.1 L421.7 1045.2 L422.1 1045.2 L422.4 1045.2" fill="none" stroke="#000" stroke-width="1"/>
<path d="M203.5 1029.7 L202.9 1030.2 L202.3 1030.8 L201.8 1031.5 L201.3 1032.2 L201 1033.1 L200.7 1034.1 L200.4 1035.1 L200.3 1036.2 L200.2 1037.4 L200.3 1038.6 L200.4 1039.9 L200.5 1041.2 L200.8 1042.6 L201.1 1043.9 L201.5 1045.3 L202 1046.6 L202.6 1048 L203.2 1049.3 L203.8 1050.6 L204.6 1051.8 L205.3 1053 L206.2 1054.2 L207 1055.2 L207.9 1056.2 L208.8 1057.2 L209.8 1058 L210.7 1058.7 L211.6 1059.3 L212.6 1059.9 L213.5 1060.3 L214.4 1060.6 L215.3 1060.8 L216.2 1060.9 L217.1 1060.9 L217.9 1060.7 L218.6 1060.4 L219.3 1060.1 L220.9 1059.1 L221.5 1058.6 L222.1 1058 L222.6 1057.2 L223.1 1056.4 L223.5 1055.5 L223.8 1054.5 L224 1053.4 L224.1 1052.3 L224.1 1051 L224.1 1049.8 L224 1048.4 L223.8 1047.1 L223.5 1045.7 L223.1 1044.3 L222.6 1042.9 L222.1 1041.5 L221.5 1040.2 L220.9 1038.8 L220.1 1037.5 L219.4 1036.3 L218.5 1035.1 L217.7 1033.9 L216.8 1032.9 L215.9 1031.9 L214.9 1031 L213.9 1030.2 L213 1029.6 L212 1029 L211 1028.5 L210.1 1028.2 L209.1 1028 L208.2 1027.9 L207.4 1027.9 L206.6 1028 L205.8 1028.3 L205.1 1028.7Z" fill="#fff" stroke="#000" stroke-width="1"/>
<path d="M222.6 1052 C222.6 1044.1 217.6 1034.5 211.4 1030.6 C205.2 1026.6 200.2 1029.8 200.2 1037.7 C200.2 1045.6 205.2 1055.2 211.4 1059.2 C217.6 1063.2 222.6 1059.9 222.6 1052Z" fill="#fff" stroke="#000" stroke-width="1"/>
<path d="M201.6 1030.9 L201 1031.4 L200.4 1032 L199.9 1032.7 L199.4 1033.5 L199 1034.3 L198.8 1035.3 L198.5 1036.4 L198.4 1037.5 L198.3 1038.6 L198.4 1039.9 L198.5 1041.1 L198.6 1042.4 L198.9 1043.8 L199.2 1045.1 L199.6 1046.5 L200.1 1047.8 L200.7 1049.2 L201.3 1050.5 L201.9 1051.8 L202.7 1053.1 L203.4 1054.2 L204.3 1055.4 L205.1 1056.5 L206 1057.5 L206.9 1058.4 L207.8 1059.2 L208.8 1059.9 L209.7 1060.6 L210.7 1061.1 L211.6 1061.5 L212.5 1061.8 L213.4 1062 L214.3 1062.1 L215.2 1062.1 L216 1061.9 L216.7 1061.7 L217.4 1061.3 L219.3 1060.1 L220 1059.6 L220.6 1059 L221.1 1058.2 L221.5 1057.4 L221.9 1056.5 L222.2 1055.5 L222.4 1054.4 L222.5 1053.3 L222.6 1052 L222.5 1050.8 L222.4 1049.4 L222.2 1048.1 L221.9 1046.7 L221.5 1045.3 L221.1 1043.9 L220.6 1042.5 L220 1041.2 L219.3 1039.8 L218.6 1038.5 L217.8 1037.3 L217 1036.1 L216.1 1034.9 L215.2 1033.9 L214.3 1032.9 L213.3 1032 L212.4 1031.2 L211.4 1030.6 L210.4 1030 L209.5 1029.5 L208.5 1029.2 L207.6 1029 L206.7 1028.9 L205.8 1028.9 L205 1029 L204.2 1029.3 L203.5 1029.7Z" fill="#fff" stroke="#000" stroke-width="1"/>
<path d="M220.7 1053.3 C220.7 1045.4 215.7 1035.7 209.5 1031.8 C203.3 1027.8 198.3 1031 198.3 1038.9 C198.3 1046.8 203.3 1056.5 209.5 1060.4 C215.7 1064.4 220.7 1061.2 220.7 1053.3Z" fill="#fff" stroke="#000" stroke-width="1"/>
<path d="M220.7 1053.3 C220.7 1045.4 215.7 1035.7 209.5 1031.8 C203.3 1027.8 198.3 1031 198.3 1038.9 C198.3 1046.8 203.3 1056.5 209.5 1060.4 C215.7 1064.4 220.7 1061.2 220.7 1053.3Z" fill="#fff" stroke="#000" stroke-width="1.3"/>
<path d="M216.8 1051.2 C216.8 1045.8 213.4 1039.3 209.2 1036.6 C204.9 1033.9 201.5 1036 201.5 1041.4 C201.5 1046.8 204.9 1053.4 209.2 1056.1 C213.4 1058.8 216.8 1056.6 216.8 1051.2Z" fill="#fff" stroke="#000" stroke-width="1"/>
<path d="M214.3 1048.8 C214.3 1045.6 212.2 1041.8 209.8 1040.2 C207.3 1038.6 205.3 1039.9 205.3 1043 C205.3 1046.2 207.3 1050.1 209.8 1051.7 C212.2 1053.3 214.3 1052 214.3 1048.8Z" fill="#fff" stroke="#000" stroke-width="1"/>
<path d="M212.8 1042.2 L212.5 1041.8 L212.2 1041.5 L211.9 1041.1 L211.6 1040.8 L211.3 1040.6 L210.9 1040.4 L210.6 1040.2 L210.3 1040 L210 1039.9 L209.6 1039.8 L209.3 1039.8 L209.1 1039.8 L208.8 1039.8 L208.5 1039.9 L208.3 1040 L208 1040.1 L207.8 1040.3 L207.6 1040.6 L207.5 1040.8 L207.4 1041.1 L207.2 1041.4 L207.2 1041.8 L207.1 1042.2 L207.1 1042.6 L207.1 1043 L207.1 1043.4 L207.2 1043.9 L207.2 1044.3 L207.4 1044.8 L207.5 1045.2 L207.6 1045.7 L207.8 1046.2 L208 1046.6 L208.3 1047.1 L208.5 1047.5 L208.8 1047.9 L209.1 1048.3 L209.3 1048.7 L209.6 1049 L210 1049.4 L210.3 1049.6 L210.6 1049.9 L210.9 1050.1 L211.3 1050.3 L211.6 1050.5 L211.9 1050.6 L212.2 1050.6 L212.5 1050.7 L212.8 1050.7" fill="none" stroke="#000" stroke-width="0.9"/>
<path d="M207.9 1039.4L203.7 1030.5" fill="none" stroke="#000" stroke-width="1"/>
<path d="M69.2 1131.3 L69 1131.5 L68.8 1131.7 L68.7 1131.9 L68.5 1132.1 L68.4 1132.4 L68.3 1132.7 L68.3 1133 L68.2 1133.4 L68.2 1133.8 L68.2 1134.1 L68.2 1134.5 L68.3 1135 L68.4 1135.4 L68.5 1135.8 L68.6 1136.2 L68.8 1136.6 L68.9 1137.1 L69.1 1137.5 L69.3 1137.9 L69.6 1138.3 L69.8 1138.7 L70.1 1139 L70.3 1139.4 L70.6 1139.7 L70.9 1140 L71.2 1140.2 L71.5 1140.4 L71.8 1140.6 L72.1 1140.8 L72.4 1140.9 L72.7 1141 L72.9 1141.1 L73.2 1141.1 L73.5 1141.1 L73.7 1141.1 L74 1141 L74.2 1140.9 L200.4 1060 L200.6 1059.8 L200.8 1059.6 L200.9 1059.4 L201.1 1059.2 L201.2 1058.9 L201.3 1058.6 L201.4 1058.2 L201.4 1057.9 L201.4 1057.5 L201.4 1057.1 L201.4 1056.7 L201.3 1056.2 L201.2 1055.8 L201.1 1055.4 L200.9 1054.9 L200.8 1054.5 L200.6 1054.1 L200.4 1053.6 L200.2 1053.2 L199.9 1052.8 L199.7 1052.5 L199.4 1052.1 L199.1 1051.8 L198.8 1051.5 L198.5 1051.2 L198.2 1050.9 L197.9 1050.7 L197.6 1050.5 L197.3 1050.4 L197 1050.3 L196.7 1050.2 L196.4 1050.2 L196.1 1050.2 L195.9 1050.2 L195.6 1050.3 L195.4 1050.5Z" fill="#fff" stroke="#000" stroke-width="1.2"/>
<path d="M195.4 1050.5 Q198.5 1048.5 201.9 1052.7 Q203.5 1058 200.4 1060" fill="#fff" stroke="#000" stroke-width="1.2"/>
<path d="M61.4 1129.2 L68.7 1124.5 L75.3 1123.9 L82 1133.1 L82 1143 L74.7 1147.7 L68.1 1148.3 L61.4 1139.1Z" fill="#fff" stroke="#000" stroke-width="1.2"/>
<path d="M74.7 1137.8L82 1133.1" fill="none" stroke="#000" stroke-width="1.2"/>
<path d="M68.1 1128.6L75.3 1123.9" fill="none" stroke="#000" stroke-width="1.2"/>
<path d="M61.4 1129.2L68.7 1124.6" fill="none" stroke="#000" stroke-width="1.2"/>
<path d="M74.7 1147.6L82 1143" fill="none" stroke="#000" stroke-width="1.2"/>
<path d="M74.7 1137.8 L68.1 1128.6 L61.4 1129.2 L61.4 1139.1 L68.1 1148.3 L74.7 1147.6Z" fill="#fff" stroke="#000" stroke-width="1.2"/>
<path d="M203.5 1117.4 L202.9 1117.9 L202.3 1118.5 L201.8 1119.2 L201.3 1119.9 L201 1120.8 L200.7 1121.8 L200.4 1122.8 L200.3 1123.9 L200.2 1125.1 L200.3 1126.3 L200.4 1127.6 L200.5 1128.9 L200.8 1130.3 L201.1 1131.6 L201.5 1133 L202 1134.3 L202.6 1135.7 L203.2 1137 L203.8 1138.3 L204.6 1139.5 L205.3 1140.7 L206.2 1141.9 L207 1142.9 L207.9 1143.9 L208.8 1144.9 L209.8 1145.7 L210.7 1146.4 L211.6 1147 L212.6 1147.6 L213.5 1148 L214.4 1148.3 L215.3 1148.5 L216.2 1148.6 L217.1 1148.6 L217.9 1148.4 L218.6 1148.1 L219.3 1147.8 L220.9 1146.8 L221.5 1146.3 L222.1 1145.7 L222.6 1144.9 L223.1 1144.1 L223.5 1143.2 L223.8 1142.2 L224 1141.1 L224.1 1140 L224.1 1138.7 L224.1 1137.5 L224 1136.1 L223.8 1134.8 L223.5 1133.4 L223.1 1132 L222.6 1130.6 L222.1 1129.2 L221.5 1127.9 L220.9 1126.5 L220.1 1125.2 L219.4 1124 L218.5 1122.8 L217.7 1121.6 L216.8 1120.6 L215.9 1119.6 L214.9 1118.7 L213.9 1117.9 L213 1117.3 L212 1116.7 L211 1116.2 L210.1 1115.9 L209.1 1115.7 L208.2 1115.6 L207.4 1115.6 L206.6 1115.7 L205.8 1116 L205.1 1116.4Z" fill="#fff" stroke="#000" stroke-width="1"/>
<path d="M222.6 1139.7 C222.6 1131.8 217.6 1122.2 211.4 1118.3 C205.2 1114.3 200.2 1117.5 200.2 1125.4 C200.2 1133.3 205.2 1142.9 211.4 1146.9 C217.6 1150.9 222.6 1147.6 222.6 1139.7Z" fill="#fff" stroke="#000" stroke-width="1"/>
<path d="M201.6 1118.6 L201 1119.1 L200.4 1119.7 L199.9 1120.4 L199.4 1121.2 L199 1122 L198.8 1123 L198.5 1124.1 L198.4 1125.2 L198.3 1126.3 L198.4 1127.6 L198.5 1128.8 L198.6 1130.1 L198.9 1131.5 L199.2 1132.8 L199.6 1134.2 L200.1 1135.5 L200.7 1136.9 L201.3 1138.2 L201.9 1139.5 L202.7 1140.8 L203.4 1141.9 L204.3 1143.1 L205.1 1144.2 L206 1145.2 L206.9 1146.1 L207.8 1146.9 L208.8 1147.6 L209.7 1148.3 L210.7 1148.8 L211.6 1149.2 L212.5 1149.5 L213.4 1149.7 L214.3 1149.8 L215.2 1149.8 L216 1149.6 L216.7 1149.4 L217.4 1149 L219.3 1147.8 L220 1147.3 L220.6 1146.7 L221.1 1145.9 L221.5 1145.1 L221.9 1144.2 L222.2 1143.2 L222.4 1142.1 L222.5 1141 L222.6 1139.7 L222.5 1138.5 L222.4 1137.1 L222.2 1135.8 L221.9 1134.4 L221.5 1133 L221.1 1131.6 L220.6 1130.2 L220 1128.9 L219.3 1127.5 L218.6 1126.2 L217.8 1125 L217 1123.8 L216.1 1122.6 L215.2 1121.6 L214.3 1120.6 L213.3 1119.7 L212.4 1118.9 L211.4 1118.3 L210.4 1117.7 L209.5 1117.2 L208.5 1116.9 L207.6 1116.7 L206.7 1116.6 L205.8 1116.6 L205 1116.7 L204.2 1117 L203.5 1117.4Z" fill="#fff" stroke="#000" stroke-width="1"/>
<path d="M220.7 1141 C220.7 1133.1 215.7 1123.4 209.5 1119.5 C203.3 1115.5 198.3 1118.7 198.3 1126.6 C198.3 1134.5 203.3 1144.2 209.5 1148.1 C215.7 1152.1 220.7 1148.9 220.7 1141Z" fill="#fff" stroke="#000" stroke-width="1"/>
<path d="M220.7 1141 C220.7 1133.1 215.7 1123.4 209.5 1119.5 C203.3 1115.5 198.3 1118.7 198.3 1126.6 C198.3 1134.5 203.3 1144.2 209.5 1148.1 C215.7 1152.1 220.7 1148.9 220.7 1141Z" fill="#fff" stroke="#000" stroke-width="1.3"/>
<path d="M216.8 1138.9 C216.8 1133.5 213.4 1127 209.2 1124.3 C204.9 1121.6 201.5 1123.7 201.5 1129.1 C201.5 1134.5 204.9 1141.1 209.2 1143.8 C213.4 1146.5 216.8 1144.3 216.8 1138.9Z" fill="#fff" stroke="#000" stroke-width="1"/>
<path d="M214.3 1136.5 C214.3 1133.3 212.2 1129.5 209.8 1127.9 C207.3 1126.3 205.3 1127.6 205.3 1130.7 C205.3 1133.9 207.3 1137.8 209.8 1139.4 C212.2 1141 214.3 1139.7 214.3 1136.5Z" fill="#fff" stroke="#000" stroke-width="1"/>
<path d="M212.8 1129.9 L212.5 1129.5 L212.2 1129.2 L211.9 1128.8 L211.6 1128.5 L211.3 1128.3 L210.9 1128.1 L210.6 1127.9 L210.3 1127.7 L210 1127.6 L209.6 1127.5 L209.3 1127.5 L209.1 1127.5 L208.8 1127.5 L208.5 1127.6 L208.3 1127.7 L208 1127.8 L207.8 1128 L207.6 1128.3 L207.5 1128.5 L207.4 1128.8 L207.2 1129.1 L207.2 1129.5 L207.1 1129.9 L207.1 1130.3 L207.1 1130.7 L207.1 1131.1 L207.2 1131.6 L207.2 1132 L207.4 1132.5 L207.5 1132.9 L207.6 1133.4 L207.8 1133.9 L208 1134.3 L208.3 1134.8 L208.5 1135.2 L208.8 1135.6 L209.1 1136 L209.3 1136.4 L209.6 1136.7 L210 1137.1 L210.3 1137.3 L210.6 1137.6 L210.9 1137.8 L211.3 1138 L211.6 1138.2 L211.9 1138.3 L212.2 1138.3 L212.5 1138.4 L212.8 1138.4" fill="none" stroke="#000" stroke-width="0.9"/>
<path d="M207.9 1127.1L203.7 1118.2" fill="none" stroke="#000" stroke-width="1"/>
<path d="M69.2 1219 L69 1219.2 L68.8 1219.4 L68.7 1219.6 L68.5 1219.8 L68.4 1220.1 L68.3 1220.4 L68.3 1220.7 L68.2 1221.1 L68.2 1221.5 L68.2 1221.8 L68.2 1222.2 L68.3 1222.7 L68.4 1223.1 L68.5 1223.5 L68.6 1223.9 L68.8 1224.3 L68.9 1224.8 L69.1 1225.2 L69.3 1225.6 L69.6 1226 L69.8 1226.4 L70.1 1226.7 L70.3 1227.1 L70.6 1227.4 L70.9 1227.7 L71.2 1227.9 L71.5 1228.1 L71.8 1228.3 L72.1 1228.5 L72.4 1228.6 L72.7 1228.7 L72.9 1228.8 L73.2 1228.8 L73.5 1228.8 L73.7 1228.8 L74 1228.7 L74.2 1228.6 L200.4 1147.7 L200.6 1147.5 L200.8 1147.3 L200.9 1147.1 L201.1 1146.9 L201.2 1146.6 L201.3 1146.3 L201.4 1145.9 L201.4 1145.6 L201.4 1145.2 L201.4 1144.8 L201.4 1144.4 L201.3 1143.9 L201.2 1143.5 L201.1 1143.1 L200.9 1142.6 L200.8 1142.2 L200.6 1141.8 L200.4 1141.3 L200.2 1140.9 L199.9 1140.5 L199.7 1140.2 L199.4 1139.8 L199.1 1139.5 L198.8 1139.2 L198.5 1138.9 L198.2 1138.6 L197.9 1138.4 L197.6 1138.2 L197.3 1138.1 L197 1138 L196.7 1137.9 L196.4 1137.9 L196.1 1137.9 L195.9 1137.9 L195.6 1138 L195.4 1138.2Z" fill="#fff" stroke="#000" stroke-width="1.2"/>
<path d="M195.4 1138.2 Q198.5 1136.2 201.9 1140.4 Q203.5 1145.7 200.4 1147.7" fill="#fff" stroke="#000" stroke-width="1.2"/>
<path d="M61.4 1216.9 L68.7 1212.2 L75.3 1211.6 L82 1220.8 L82 1230.7 L74.7 1235.3 L68.1 1236 L61.4 1226.8Z" fill="#fff" stroke="#000" stroke-width="1.2"/>
<path d="M74.7 1225.5L82 1220.8" fill="none" stroke="#000" stroke-width="1.2"/>
<path d="M68.1 1216.3L75.3 1211.6" fill="none" stroke="#000" stroke-width="1.2"/>
<path d="M61.4 1216.9L68.7 1212.3" fill="none" stroke="#000" stroke-width="1.2"/>
<path d="M74.7 1235.3L82 1230.7" fill="none" stroke="#000" stroke-width="1.2"/>
<path d="M74.7 1225.5 L68.1 1216.3 L61.4 1216.9 L61.4 1226.8 L68.1 1236 L74.7 1235.3Z" fill="#fff" stroke="#000" stroke-width="1.2"/>
<path d="M270.7 1073.6 L270.1 1074.1 L269.5 1074.7 L269 1075.4 L268.5 1076.1 L268.2 1077 L267.9 1078 L267.6 1079 L267.5 1080.1 L267.4 1081.3 L267.5 1082.5 L267.6 1083.8 L267.7 1085.1 L268 1086.5 L268.3 1087.8 L268.7 1089.2 L269.2 1090.5 L269.8 1091.9 L270.4 1093.2 L271 1094.5 L271.8 1095.7 L272.5 1096.9 L273.4 1098.1 L274.2 1099.1 L275.1 1100.1 L276 1101.1 L277 1101.9 L277.9 1102.6 L278.8 1103.2 L279.8 1103.8 L280.7 1104.2 L281.6 1104.5 L282.5 1104.7 L283.4 1104.8 L284.3 1104.8 L285.1 1104.6 L285.8 1104.3 L286.5 1104 L288.1 1103 L288.7 1102.5 L289.3 1101.9 L289.8 1101.1 L290.3 1100.3 L290.7 1099.4 L291 1098.4 L291.2 1097.3 L291.3 1096.2 L291.3 1094.9 L291.3 1093.7 L291.2 1092.3 L291 1091 L290.7 1089.6 L290.3 1088.2 L289.8 1086.8 L289.3 1085.4 L288.7 1084.1 L288.1 1082.7 L287.3 1081.4 L286.6 1080.2 L285.7 1079 L284.9 1077.8 L284 1076.8 L283.1 1075.8 L282.1 1074.9 L281.1 1074.1 L280.2 1073.5 L279.2 1072.9 L278.2 1072.4 L277.3 1072.1 L276.3 1071.9 L275.4 1071.8 L274.6 1071.8 L273.8 1071.9 L273 1072.2 L272.3 1072.6Z" fill="#fff" stroke="#000" stroke-width="1"/>
<path d="M289.8 1095.9 C289.8 1088 284.8 1078.4 278.6 1074.5 C272.4 1070.5 267.4 1073.7 267.4 1081.6 C267.4 1089.5 272.4 1099.1 278.6 1103.1 C284.8 1107.1 289.8 1103.8 289.8 1095.9Z" fill="#fff" stroke="#000" stroke-width="1"/>
<path d="M268.8 1074.8 L268.2 1075.3 L267.6 1075.9 L267.1 1076.6 L266.6 1077.4 L266.2 1078.2 L266 1079.2 L265.7 1080.3 L265.6 1081.4 L265.5 1082.5 L265.6 1083.8 L265.7 1085 L265.8 1086.3 L266.1 1087.7 L266.4 1089 L266.8 1090.4 L267.3 1091.7 L267.9 1093.1 L268.5 1094.4 L269.1 1095.7 L269.9 1097 L270.6 1098.1 L271.5 1099.3 L272.3 1100.4 L273.2 1101.4 L274.1 1102.3 L275 1103.1 L276 1103.8 L276.9 1104.5 L277.9 1105 L278.8 1105.4 L279.7 1105.7 L280.6 1105.9 L281.5 1106 L282.4 1106 L283.2 1105.8 L283.9 1105.6 L284.6 1105.2 L286.5 1104 L287.2 1103.5 L287.8 1102.9 L288.3 1102.1 L288.7 1101.3 L289.1 1100.4 L289.4 1099.4 L289.6 1098.3 L289.7 1097.2 L289.8 1095.9 L289.7 1094.7 L289.6 1093.3 L289.4 1092 L289.1 1090.6 L288.7 1089.2 L288.3 1087.8 L287.8 1086.4 L287.2 1085.1 L286.5 1083.7 L285.8 1082.4 L285 1081.2 L284.2 1080 L283.3 1078.8 L282.4 1077.8 L281.5 1076.8 L280.5 1075.9 L279.6 1075.1 L278.6 1074.5 L277.6 1073.9 L276.7 1073.4 L275.7 1073.1 L274.8 1072.9 L273.9 1072.8 L273 1072.8 L272.2 1072.9 L271.4 1073.2 L270.7 1073.6Z" fill="#fff" stroke="#000" stroke-width="1"/>
<path d="M287.9 1097.2 C287.9 1089.3 282.9 1079.6 276.7 1075.7 C270.5 1071.7 265.5 1074.9 265.5 1082.8 C265.5 1090.7 270.5 1100.4 276.7 1104.3 C282.9 1108.3 287.9 1105.1 287.9 1097.2Z" fill="#fff" stroke="#000" stroke-width="1"/>
<path d="M287.9 1097.2 C287.9 1089.3 282.9 1079.6 276.7 1075.7 C270.5 1071.7 265.5 1074.9 265.5 1082.8 C265.5 1090.7 270.5 1100.4 276.7 1104.3 C282.9 1108.3 287.9 1105.1 287.9 1097.2Z" fill="#fff" stroke="#000" stroke-width="1.3"/>
<path d="M284 1095.1 C284 1089.7 280.6 1083.2 276.4 1080.5 C272.1 1077.8 268.7 1079.9 268.7 1085.3 C268.7 1090.7 272.1 1097.3 276.4 1100 C280.6 1102.7 284 1100.5 284 1095.1Z" fill="#fff" stroke="#000" stroke-width="1"/>
<path d="M281.5 1092.7 C281.5 1089.5 279.4 1085.7 277 1084.1 C274.5 1082.5 272.5 1083.8 272.5 1086.9 C272.5 1090.1 274.5 1094 277 1095.6 C279.4 1097.2 281.5 1095.9 281.5 1092.7Z" fill="#fff" stroke="#000" stroke-width="1"/>
<path d="M280 1086.1 L279.7 1085.7 L279.4 1085.4 L279.1 1085 L278.8 1084.7 L278.5 1084.5 L278.1 1084.3 L277.8 1084.1 L277.5 1083.9 L277.2 1083.8 L276.8 1083.7 L276.5 1083.7 L276.3 1083.7 L276 1083.7 L275.7 1083.8 L275.5 1083.9 L275.2 1084 L275 1084.2 L274.8 1084.5 L274.7 1084.7 L274.6 1085 L274.4 1085.3 L274.4 1085.7 L274.3 1086.1 L274.3 1086.5 L274.3 1086.9 L274.3 1087.3 L274.4 1087.8 L274.4 1088.2 L274.6 1088.7 L274.7 1089.1 L274.8 1089.6 L275 1090.1 L275.2 1090.5 L275.5 1091 L275.7 1091.4 L276 1091.8 L276.3 1092.2 L276.5 1092.6 L276.8 1092.9 L277.2 1093.3 L277.5 1093.5 L277.8 1093.8 L278.1 1094 L278.5 1094.2 L278.8 1094.4 L279.1 1094.5 L279.4 1094.5 L279.7 1094.6 L280 1094.6" fill="none" stroke="#000" stroke-width="0.9"/>
<path d="M275.1 1083.3L270.9 1074.4" fill="none" stroke="#000" stroke-width="1"/>
<path d="M136.4 1175.9 L136.2 1176.1 L136 1176.3 L135.9 1176.5 L135.7 1176.7 L135.6 1177 L135.5 1177.3 L135.5 1177.6 L135.4 1178 L135.4 1178.4 L135.4 1178.7 L135.4 1179.1 L135.5 1179.6 L135.6 1180 L135.7 1180.4 L135.8 1180.8 L136 1181.2 L136.1 1181.7 L136.3 1182.1 L136.5 1182.5 L136.8 1182.9 L137 1183.3 L137.3 1183.6 L137.5 1184 L137.8 1184.3 L138.1 1184.6 L138.4 1184.8 L138.7 1185 L139 1185.2 L139.3 1185.4 L139.6 1185.5 L139.9 1185.6 L140.1 1185.7 L140.4 1185.7 L140.7 1185.7 L140.9 1185.7 L141.2 1185.6 L141.4 1185.5 L268.5 1104 L268.7 1103.9 L268.9 1103.7 L269 1103.4 L269.2 1103.2 L269.3 1102.9 L269.4 1102.6 L269.5 1102.2 L269.5 1101.9 L269.5 1101.5 L269.5 1101.1 L269.5 1100.7 L269.4 1100.3 L269.3 1099.8 L269.2 1099.4 L269 1098.9 L268.9 1098.5 L268.7 1098.1 L268.5 1097.7 L268.3 1097.2 L268 1096.8 L267.8 1096.5 L267.5 1096.1 L267.2 1095.8 L266.9 1095.5 L266.6 1095.2 L266.3 1095 L266 1094.7 L265.7 1094.6 L265.4 1094.4 L265.1 1094.3 L264.8 1094.3 L264.5 1094.2 L264.2 1094.2 L264 1094.3 L263.7 1094.4 L263.5 1094.5Z" fill="#fff" stroke="#000" stroke-width="1.2"/>
<path d="M263.5 1094.5 Q266.6 1092.5 270 1096.7 Q271.6 1102 268.5 1104" fill="#fff" stroke="#000" stroke-width="1.2"/>
<path d="M128.6 1173.8 L135.9 1169.2 L142.5 1168.5 L149.2 1177.7 L149.2 1187.6 L141.9 1192.2 L135.3 1192.9 L128.6 1183.7Z" fill="#fff" stroke="#000" stroke-width="1.2"/>
<path d="M141.9 1182.4L149.2 1177.7" fill="none" stroke="#000" stroke-width="1.2"/>
<path d="M135.3 1173.2L142.5 1168.5" fill="none" stroke="#000" stroke-width="1.2"/>
<path d="M128.6 1173.8L135.9 1169.2" fill="none" stroke="#000" stroke-width="1.2"/>
<path d="M141.9 1192.2L149.2 1187.6" fill="none" stroke="#000" stroke-width="1.2"/>
<path d="M141.9 1182.4 L135.3 1173.2 L128.6 1173.8 L128.6 1183.7 L135.3 1192.9 L141.9 1192.2Z" fill="#fff" stroke="#000" stroke-width="1.2"/>
<path d="M270.7 1161.3 L270.1 1161.8 L269.5 1162.4 L269 1163.1 L268.5 1163.8 L268.2 1164.7 L267.9 1165.7 L267.6 1166.7 L267.5 1167.8 L267.4 1169 L267.5 1170.2 L267.6 1171.5 L267.7 1172.8 L268 1174.2 L268.3 1175.5 L268.7 1176.9 L269.2 1178.2 L269.8 1179.6 L270.4 1180.9 L271 1182.2 L271.8 1183.4 L272.5 1184.6 L273.4 1185.8 L274.2 1186.8 L275.1 1187.8 L276 1188.8 L277 1189.6 L277.9 1190.3 L278.8 1190.9 L279.8 1191.5 L280.7 1191.9 L281.6 1192.2 L282.5 1192.4 L283.4 1192.5 L284.3 1192.5 L285.1 1192.3 L285.8 1192 L286.5 1191.7 L288.1 1190.7 L288.7 1190.2 L289.3 1189.6 L289.8 1188.8 L290.3 1188 L290.7 1187.1 L291 1186.1 L291.2 1185 L291.3 1183.9 L291.3 1182.6 L291.3 1181.4 L291.2 1180 L291 1178.7 L290.7 1177.3 L290.3 1175.9 L289.8 1174.5 L289.3 1173.1 L288.7 1171.8 L288.1 1170.4 L287.3 1169.1 L286.6 1167.9 L285.7 1166.7 L284.9 1165.5 L284 1164.5 L283.1 1163.5 L282.1 1162.6 L281.1 1161.8 L280.2 1161.2 L279.2 1160.6 L278.2 1160.1 L277.3 1159.8 L276.3 1159.6 L275.4 1159.5 L274.6 1159.5 L273.8 1159.6 L273 1159.9 L272.3 1160.3Z" fill="#fff" stroke="#000" stroke-width="1"/>
<path d="M289.8 1183.6 C289.8 1175.7 284.8 1166.1 278.6 1162.2 C272.4 1158.2 267.4 1161.4 267.4 1169.3 C267.4 1177.2 272.4 1186.8 278.6 1190.8 C284.8 1194.8 289.8 1191.5 289.8 1183.6Z" fill="#fff" stroke="#000" stroke-width="1"/>
<path d="M268.8 1162.5 L268.2 1163 L267.6 1163.6 L267.1 1164.3 L266.6 1165.1 L266.2 1165.9 L266 1166.9 L265.7 1168 L265.6 1169.1 L265.5 1170.2 L265.6 1171.5 L265.7 1172.7 L265.8 1174 L266.1 1175.4 L266.4 1176.7 L266.8 1178.1 L267.3 1179.4 L267.9 1180.8 L268.5 1182.1 L269.1 1183.4 L269.9 1184.7 L270.6 1185.8 L271.5 1187 L272.3 1188.1 L273.2 1189.1 L274.1 1190 L275 1190.8 L276 1191.5 L276.9 1192.2 L277.9 1192.7 L278.8 1193.1 L279.7 1193.4 L280.6 1193.6 L281.5 1193.7 L282.4 1193.7 L283.2 1193.5 L283.9 1193.3 L284.6 1192.9 L286.5 1191.7 L287.2 1191.2 L287.8 1190.6 L288.3 1189.8 L288.7 1189 L289.1 1188.1 L289.4 1187.1 L289.6 1186 L289.7 1184.9 L289.8 1183.6 L289.7 1182.4 L289.6 1181 L289.4 1179.7 L289.1 1178.3 L288.7 1176.9 L288.3 1175.5 L287.8 1174.1 L287.2 1172.8 L286.5 1171.4 L285.8 1170.1 L285 1168.9 L284.2 1167.7 L283.3 1166.5 L282.4 1165.5 L281.5 1164.5 L280.5 1163.6 L279.6 1162.8 L278.6 1162.2 L277.6 1161.6 L276.7 1161.1 L275.7 1160.8 L274.8 1160.6 L273.9 1160.5 L273 1160.5 L272.2 1160.6 L271.4 1160.9 L270.7 1161.3Z" fill="#fff" stroke="#000" stroke-width="1"/>
<path d="M287.9 1184.9 C287.9 1177 282.9 1167.3 276.7 1163.4 C270.5 1159.4 265.5 1162.6 265.5 1170.5 C265.5 1178.4 270.5 1188.1 276.7 1192 C282.9 1196 287.9 1192.8 287.9 1184.9Z" fill="#fff" stroke="#000" stroke-width="1"/>
<path d="M287.9 1184.9 C287.9 1177 282.9 1167.3 276.7 1163.4 C270.5 1159.4 265.5 1162.6 265.5 1170.5 C265.5 1178.4 270.5 1188.1 276.7 1192 C282.9 1196 287.9 1192.8 287.9 1184.9Z" fill="#fff" stroke="#000" stroke-width="1.3"/>
<path d="M284 1182.8 C284 1177.4 280.6 1170.9 276.4 1168.2 C272.1 1165.5 268.7 1167.6 268.7 1173 C268.7 1178.4 272.1 1185 276.4 1187.7 C280.6 1190.4 284 1188.2 284 1182.8Z" fill="#fff" stroke="#000" stroke-width="1"/>
<path d="M281.5 1180.4 C281.5 1177.2 279.4 1173.4 277 1171.8 C274.5 1170.2 272.5 1171.5 272.5 1174.6 C272.5 1177.8 274.5 1181.7 277 1183.3 C279.4 1184.9 281.5 1183.6 281.5 1180.4Z" fill="#fff" stroke="#000" stroke-width="1"/>
<path d="M280 1173.8 L279.7 1173.4 L279.4 1173.1 L279.1 1172.7 L278.8 1172.4 L278.5 1172.2 L278.1 1172 L277.8 1171.8 L277.5 1171.6 L277.2 1171.5 L276.8 1171.4 L276.5 1171.4 L276.3 1171.4 L276 1171.4 L275.7 1171.5 L275.5 1171.6 L275.2 1171.7 L275 1171.9 L274.8 1172.2 L274.7 1172.4 L274.6 1172.7 L274.4 1173 L274.4 1173.4 L274.3 1173.8 L274.3 1174.2 L274.3 1174.6 L274.3 1175 L274.4 1175.5 L274.4 1175.9 L274.6 1176.4 L274.7 1176.8 L274.8 1177.3 L275 1177.8 L275.2 1178.2 L275.5 1178.7 L275.7 1179.1 L276 1179.5 L276.3 1179.9 L276.5 1180.3 L276.8 1180.6 L277.2 1181 L277.5 1181.2 L277.8 1181.5 L278.1 1181.7 L278.5 1181.9 L278.8 1182.1 L279.1 1182.2 L279.4 1182.2 L279.7 1182.3 L280 1182.3" fill="none" stroke="#000" stroke-width="0.9"/>
<path d="M275.1 1171L270.9 1162.1" fill="none" stroke="#000" stroke-width="1"/>
<path d="M136.4 1262.5 L136.2 1262.7 L136 1262.9 L135.9 1263.1 L135.7 1263.3 L135.6 1263.6 L135.5 1263.9 L135.5 1264.2 L135.4 1264.6 L135.4 1265 L135.4 1265.3 L135.4 1265.7 L135.5 1266.2 L135.6 1266.6 L135.7 1267 L135.8 1267.4 L136 1267.8 L136.1 1268.3 L136.3 1268.7 L136.5 1269.1 L136.8 1269.5 L137 1269.9 L137.3 1270.2 L137.5 1270.6 L137.8 1270.9 L138.1 1271.2 L138.4 1271.4 L138.7 1271.6 L139 1271.8 L139.3 1272 L139.6 1272.1 L139.9 1272.2 L140.1 1272.3 L140.4 1272.3 L140.7 1272.3 L140.9 1272.3 L141.2 1272.2 L141.4 1272.1 L268 1190.9 L268.2 1190.8 L268.4 1190.6 L268.5 1190.4 L268.7 1190.1 L268.8 1189.8 L268.9 1189.5 L269 1189.2 L269 1188.8 L269 1188.4 L269 1188 L269 1187.6 L268.9 1187.2 L268.8 1186.7 L268.7 1186.3 L268.5 1185.9 L268.4 1185.4 L268.2 1185 L268 1184.6 L267.8 1184.2 L267.5 1183.8 L267.3 1183.4 L267 1183 L266.7 1182.7 L266.4 1182.4 L266.1 1182.1 L265.8 1181.9 L265.5 1181.7 L265.2 1181.5 L264.9 1181.3 L264.6 1181.2 L264.3 1181.2 L264 1181.1 L263.7 1181.1 L263.5 1181.2 L263.2 1181.3 L263 1181.4Z" fill="#fff" stroke="#000" stroke-width="1.2"/>
<path d="M263 1181.4 Q266.1 1179.4 269.5 1183.6 Q271.1 1188.9 268 1190.9" fill="#fff" stroke="#000" stroke-width="1.2"/>
<path d="M128.6 1260.4 L135.9 1255.8 L142.5 1255.1 L149.2 1264.3 L149.2 1274.2 L141.9 1278.8 L135.3 1279.5 L128.6 1270.3Z" fill="#fff" stroke="#000" stroke-width="1.2"/>
<path d="M141.9 1269L149.2 1264.3" fill="none" stroke="#000" stroke-width="1.2"/>
<path d="M135.3 1259.8L142.5 1255.1" fill="none" stroke="#000" stroke-width="1.2"/>
<path d="M128.6 1260.4L135.9 1255.8" fill="none" stroke="#000" stroke-width="1.2"/>
<path d="M141.9 1278.8L149.2 1274.2" fill="none" stroke="#000" stroke-width="1.2"/>
<path d="M141.9 1269 L135.3 1259.8 L128.6 1260.4 L128.6 1270.3 L135.3 1279.5 L141.9 1278.8Z" fill="#fff" stroke="#000" stroke-width="1.2"/>
<path d="M309.1 1013.4 L308.7 1013.7 L308.3 1014.1 L308 1014.6 L307.7 1015.1 L307.4 1015.6 L307.2 1016.3 L307.1 1016.9 L307 1017.7 L307 1018.4 L307 1019.2 L307 1020.1 L307.2 1020.9 L307.3 1021.8 L307.5 1022.7 L307.8 1023.5 L308.1 1024.4 L308.5 1025.3 L308.9 1026.2 L309.3 1027 L309.8 1027.8 L310.3 1028.6 L310.8 1029.3 L311.4 1030 L312 1030.7 L312.5 1031.3 L313.2 1031.8 L313.8 1032.3 L314.4 1032.7 L315 1033.1 L315.6 1033.3 L316.2 1033.5 L316.8 1033.7 L317.4 1033.7 L317.9 1033.7 L318.4 1033.6 L318.9 1033.4 L319.4 1033.2 L329.3 1026.8 L329.8 1026.5 L330.1 1026.1 L330.5 1025.6 L330.8 1025.1 L331 1024.5 L331.2 1023.8 L331.4 1023.1 L331.4 1022.4 L331.5 1021.6 L331.4 1020.7 L331.4 1019.9 L331.2 1019 L331 1018.1 L330.8 1017.2 L330.5 1016.3 L330.1 1015.4 L329.8 1014.5 L329.3 1013.6 L328.9 1012.8 L328.4 1011.9 L327.8 1011.2 L327.3 1010.4 L326.7 1009.7 L326.1 1009.1 L325.5 1008.5 L324.8 1008 L324.2 1007.6 L323.6 1007.2 L322.9 1006.9 L322.3 1006.7 L321.7 1006.6 L321.1 1006.5 L320.6 1006.5 L320 1006.6 L319.5 1006.8 L319 1007Z" fill="#fff" stroke="#000" stroke-width="1.2"/>
<path d="M321.5 1028 C321.5 1022.8 318.2 1016.5 314.2 1014 C310.2 1011.4 307 1013.5 307 1018.6 C307 1023.8 310.2 1030 314.2 1032.6 C318.2 1035.2 321.5 1033.1 321.5 1028Z" fill="#fff" stroke="#000" stroke-width="1.2"/>
<path d="M306.7 1013.3 L306.3 1013.7 L305.9 1014.1 L305.5 1014.6 L305.2 1015.2 L304.9 1015.8 L304.7 1016.5 L304.5 1017.3 L304.4 1018.1 L304.4 1019 L304.4 1019.9 L304.4 1020.8 L304.6 1021.7 L304.8 1022.7 L305 1023.7 L305.3 1024.7 L305.7 1025.7 L306.1 1026.7 L306.5 1027.6 L307 1028.6 L307.5 1029.5 L308.1 1030.3 L308.7 1031.2 L309.3 1031.9 L310 1032.7 L310.6 1033.3 L311.3 1033.9 L312 1034.5 L312.7 1034.9 L313.4 1035.3 L314 1035.6 L314.7 1035.9 L315.4 1036 L316 1036.1 L316.6 1036 L317.2 1035.9 L317.7 1035.7 L318.3 1035.5 L320.3 1034.1 L320.8 1033.8 L321.2 1033.3 L321.6 1032.8 L322 1032.2 L322.2 1031.5 L322.4 1030.8 L322.6 1030 L322.7 1029.2 L322.7 1028.3 L322.7 1027.4 L322.6 1026.4 L322.4 1025.4 L322.2 1024.4 L322 1023.4 L321.6 1022.4 L321.2 1021.4 L320.8 1020.4 L320.3 1019.4 L319.8 1018.4 L319.2 1017.5 L318.6 1016.6 L318 1015.8 L317.4 1015 L316.7 1014.3 L316 1013.7 L315.3 1013.1 L314.6 1012.6 L313.9 1012.2 L313.2 1011.9 L312.5 1011.6 L311.8 1011.5 L311.1 1011.4 L310.5 1011.4 L309.9 1011.5 L309.3 1011.7 L308.8 1012Z" fill="#000" stroke="#000" stroke-width="1.2"/>
<path d="M320.6 1029.6 C320.6 1023.9 317 1016.8 312.5 1014 C308 1011.1 304.4 1013.4 304.4 1019.2 C304.4 1024.9 308 1032 312.5 1034.8 C317 1037.7 320.6 1035.4 320.6 1029.6Z" fill="#000" stroke="#000" stroke-width="1.2"/>
<path d="M320.6 1029.6 C320.6 1023.9 317 1016.8 312.5 1014 C308 1011.1 304.4 1013.4 304.4 1019.2 C304.4 1024.9 308 1032 312.5 1034.8 C317 1037.7 320.6 1035.4 320.6 1029.6Z" fill="#fff" stroke="#000" stroke-width="1.3"/>
<path d="M365.8 986.2 L365.6 986.3 L365.5 986.5 L365.4 986.6 L365.3 986.7 L365.2 986.9 L365.2 987.1 L365.1 987.3 L365.1 987.6 L365.1 987.8 L365.1 988 L365.1 988.3 L365.2 988.6 L365.2 988.8 L365.3 989.1 L365.4 989.4 L365.5 989.6 L365.6 989.9 L365.7 990.2 L365.8 990.4 L366 990.7 L366.1 990.9 L366.3 991.2 L366.5 991.4 L366.6 991.6 L366.8 991.8 L367 991.9 L367.2 992.1 L367.4 992.2 L367.6 992.3 L367.8 992.4 L368 992.5 L368.1 992.5 L368.3 992.5 L368.5 992.5 L368.6 992.5 L368.8 992.4 L368.9 992.4 L372.4 990.1 L372.5 990 L372.7 989.9 L372.8 989.8 L372.9 989.6 L372.9 989.4 L373 989.2 L373 989 L373.1 988.8 L373.1 988.5 L373.1 988.3 L373 988 L373 987.7 L372.9 987.4 L372.9 987.2 L372.8 986.9 L372.7 986.6 L372.5 986.3 L372.4 986.1 L372.3 985.8 L372.1 985.5 L371.9 985.3 L371.8 985.1 L371.6 984.9 L371.4 984.7 L371.2 984.5 L371 984.3 L370.8 984.2 L370.6 984.1 L370.4 984 L370.2 983.9 L370 983.9 L369.9 983.8 L369.7 983.9 L369.5 983.9 L369.4 983.9 L369.2 984Z" fill="#fff" stroke="#000" stroke-width="1"/>
<path d="M369.6 990.7 C369.6 989.1 368.6 987.2 367.3 986.4 C366.1 985.6 365.1 986.3 365.1 987.9 C365.1 989.4 366.1 991.4 367.3 992.2 C368.6 993 369.6 992.3 369.6 990.7Z" fill="#fff" stroke="#000" stroke-width="1"/>
<path d="M353.7 991.9 L353.5 992.1 L353.3 992.2 L353.2 992.5 L353 992.7 L352.9 993 L352.8 993.2 L352.8 993.6 L352.7 993.9 L352.7 994.3 L352.7 994.6 L352.7 995 L352.8 995.4 L352.9 995.8 L353 996.2 L353.1 996.6 L353.3 997 L353.4 997.4 L353.6 997.8 L353.8 998.2 L354 998.6 L354.3 999 L354.5 999.3 L354.8 999.6 L355 999.9 L355.3 1000.2 L355.6 1000.5 L355.9 1000.7 L356.2 1000.9 L356.4 1001 L356.7 1001.2 L357 1001.3 L357.3 1001.3 L357.5 1001.3 L357.8 1001.3 L358 1001.3 L358.3 1001.2 L358.5 1001.1 L369.7 993.9 L369.9 993.7 L370.1 993.6 L370.3 993.3 L370.4 993.1 L370.5 992.8 L370.6 992.5 L370.7 992.2 L370.7 991.8 L370.7 991.5 L370.7 991.1 L370.7 990.7 L370.6 990.3 L370.5 989.8 L370.4 989.4 L370.3 989 L370.1 988.6 L369.9 988.2 L369.7 987.8 L369.5 987.4 L369.3 987 L369 986.6 L368.8 986.3 L368.5 986 L368.2 985.7 L367.9 985.4 L367.6 985.2 L367.3 985 L367.1 984.8 L366.8 984.7 L366.5 984.6 L366.2 984.5 L365.9 984.5 L365.7 984.5 L365.4 984.5 L365.2 984.6 L365 984.7Z" fill="#fff" stroke="#000" stroke-width="1.1"/>
<path d="M359.5 998.7 C359.5 996.3 358 993.4 356.1 992.2 C354.2 991 352.7 992 352.7 994.3 C352.7 996.7 354.2 999.6 356.1 1000.8 C358 1002 359.5 1001.1 359.5 998.7Z" fill="#fff" stroke="#000" stroke-width="1.1"/>
<path d="M345.5 997.5 L347.8 994 L353.4 990.4 L357.9 993.2 L360.2 999.7 L357.9 1003.2 L352.3 1006.8 L347.8 1004Z" fill="#fff" stroke="#000" stroke-width="1"/>
<path d="M354.5 1003.3L360.2 999.7" fill="none" stroke="#000" stroke-width="1"/>
<path d="M352.3 996.8L357.9 993.2" fill="none" stroke="#000" stroke-width="1"/>
<path d="M347.8 994L353.4 990.3" fill="none" stroke="#000" stroke-width="1"/>
<path d="M352.3 1006.8L357.9 1003.2" fill="none" stroke="#000" stroke-width="1"/>
<path d="M354.5 1003.3 L352.3 996.8 L347.8 994 L345.5 997.5 L347.8 1004 L352.3 1006.8Z" fill="#fff" stroke="#000" stroke-width="1"/>
<path d="M342 1000.5 L341.8 1000.6 L341.7 1000.8 L341.6 1001 L341.5 1001.1 L341.4 1001.4 L341.3 1001.6 L341.2 1001.9 L341.2 1002.1 L341.2 1002.4 L341.2 1002.7 L341.2 1003 L341.3 1003.4 L341.3 1003.7 L341.4 1004 L341.5 1004.4 L341.6 1004.7 L341.8 1005 L341.9 1005.4 L342.1 1005.7 L342.3 1006 L342.5 1006.3 L342.7 1006.6 L342.9 1006.8 L343.1 1007.1 L343.3 1007.3 L343.6 1007.5 L343.8 1007.7 L344 1007.9 L344.3 1008 L344.5 1008.1 L344.7 1008.2 L344.9 1008.2 L345.2 1008.3 L345.4 1008.2 L345.6 1008.2 L345.8 1008.1 L345.9 1008 L352 1004.2 L352.1 1004 L352.3 1003.9 L352.4 1003.7 L352.5 1003.5 L352.6 1003.3 L352.7 1003 L352.8 1002.8 L352.8 1002.5 L352.8 1002.2 L352.8 1001.9 L352.8 1001.5 L352.7 1001.2 L352.6 1000.8 L352.5 1000.5 L352.4 1000.2 L352.3 999.8 L352.1 999.5 L352 999.1 L351.8 998.8 L351.6 998.5 L351.4 998.2 L351.2 997.9 L351 997.7 L350.7 997.4 L350.5 997.2 L350.3 997 L350 996.8 L349.8 996.7 L349.5 996.6 L349.3 996.5 L349.1 996.4 L348.9 996.4 L348.6 996.4 L348.4 996.5 L348.2 996.5 L348.1 996.6Z" fill="#fff" stroke="#000" stroke-width="1"/>
<path d="M346.7 1006.1 C346.7 1004.1 345.5 1001.7 344 1000.7 C342.4 999.7 341.2 1000.5 341.2 1002.5 C341.2 1004.5 342.4 1006.9 344 1007.8 C345.5 1008.8 346.7 1008 346.7 1006.1Z" fill="#fff" stroke="#000" stroke-width="1"/>
<path d="M338.9 1001.2 L338.7 1001.4 L338.5 1001.6 L338.4 1001.8 L338.2 1002 L338.1 1002.3 L338 1002.6 L338 1002.9 L337.9 1003.3 L337.9 1003.6 L337.9 1004 L337.9 1004.4 L338 1004.8 L338.1 1005.2 L338.2 1005.6 L338.3 1006.1 L338.5 1006.5 L338.6 1006.9 L338.8 1007.3 L339 1007.7 L339.2 1008.1 L339.5 1008.5 L339.7 1008.8 L340 1009.2 L340.3 1009.5 L340.6 1009.8 L340.9 1010 L341.1 1010.2 L341.4 1010.4 L341.7 1010.6 L342 1010.7 L342.3 1010.8 L342.6 1010.9 L342.9 1010.9 L343.1 1010.9 L343.4 1010.9 L343.6 1010.8 L343.8 1010.7 L346.4 1009 L346.6 1008.8 L346.8 1008.6 L347 1008.4 L347.1 1008.2 L347.2 1007.9 L347.3 1007.6 L347.4 1007.2 L347.4 1006.9 L347.4 1006.5 L347.4 1006.1 L347.4 1005.7 L347.3 1005.3 L347.2 1004.8 L347.1 1004.4 L347 1004 L346.8 1003.6 L346.6 1003.1 L346.4 1002.7 L346.2 1002.3 L346 1001.9 L345.7 1001.5 L345.4 1001.2 L345.1 1000.9 L344.9 1000.6 L344.6 1000.3 L344.3 1000.1 L344 999.8 L343.7 999.7 L343.4 999.5 L343.1 999.4 L342.8 999.3 L342.5 999.3 L342.2 999.3 L342 999.4 L341.7 999.5 L341.5 999.6Z" fill="#fff" stroke="#000" stroke-width="1"/>
<path d="M344.8 1008.2 C344.8 1005.7 343.3 1002.7 341.4 1001.5 C339.5 1000.3 337.9 1001.3 337.9 1003.7 C337.9 1006.2 339.5 1009.2 341.4 1010.4 C343.3 1011.6 344.8 1010.6 344.8 1008.2Z" fill="#fff" stroke="#000" stroke-width="1"/>
<path d="M338.9 1003.4 L338.8 1003.5 L338.7 1003.7 L338.6 1003.8 L338.5 1004 L338.4 1004.1 L338.3 1004.3 L338.3 1004.5 L338.3 1004.8 L338.2 1005 L338.3 1005.2 L338.3 1005.5 L338.3 1005.8 L338.4 1006 L338.4 1006.3 L338.5 1006.6 L338.6 1006.9 L338.7 1007.1 L338.8 1007.4 L339 1007.6 L339.1 1007.9 L339.3 1008.1 L339.4 1008.4 L339.6 1008.6 L339.8 1008.8 L340 1009 L340.2 1009.1 L340.4 1009.3 L340.5 1009.4 L340.7 1009.5 L340.9 1009.6 L341.1 1009.7 L341.3 1009.7 L341.5 1009.7 L341.6 1009.7 L341.8 1009.7 L342 1009.6 L342.1 1009.6 L343.4 1008.7 L343.5 1008.6 L343.6 1008.5 L343.7 1008.4 L343.8 1008.2 L343.9 1008 L344 1007.8 L344 1007.6 L344 1007.4 L344.1 1007.1 L344 1006.9 L344 1006.6 L344 1006.3 L343.9 1006 L343.8 1005.8 L343.7 1005.5 L343.6 1005.2 L343.5 1004.9 L343.4 1004.6 L343.2 1004.4 L343.1 1004.1 L342.9 1003.9 L342.8 1003.7 L342.6 1003.4 L342.4 1003.3 L342.2 1003.1 L342 1002.9 L341.8 1002.8 L341.6 1002.7 L341.4 1002.6 L341.2 1002.5 L341 1002.5 L340.8 1002.4 L340.7 1002.4 L340.5 1002.5 L340.4 1002.5 L340.2 1002.6Z" fill="#fff" stroke="#000" stroke-width="1"/>
<path d="M342.8 1007.9 C342.8 1006.3 341.7 1004.4 340.5 1003.6 C339.3 1002.8 338.2 1003.5 338.2 1005.1 C338.2 1006.7 339.3 1008.6 340.5 1009.4 C341.7 1010.2 342.8 1009.5 342.8 1007.9Z" fill="#fff" stroke="#000" stroke-width="1"/>
<path d="M1165.5 1012.8 L1164.9 1013.3 L1164.3 1013.9 L1163.8 1014.6 L1163.3 1015.3 L1163 1016.2 L1162.7 1017.2 L1162.4 1018.2 L1162.3 1019.3 L1162.2 1020.5 L1162.3 1021.7 L1162.4 1023 L1162.5 1024.3 L1162.8 1025.7 L1163.1 1027 L1163.5 1028.4 L1164 1029.7 L1164.6 1031.1 L1165.2 1032.4 L1165.8 1033.7 L1166.6 1034.9 L1167.3 1036.1 L1168.2 1037.3 L1169 1038.3 L1169.9 1039.3 L1170.8 1040.3 L1171.8 1041.1 L1172.7 1041.8 L1173.6 1042.4 L1174.6 1043 L1175.5 1043.4 L1176.4 1043.7 L1177.3 1043.9 L1178.2 1044 L1179.1 1044 L1179.9 1043.8 L1180.6 1043.5 L1181.3 1043.2 L1182.9 1042.2 L1183.5 1041.7 L1184.1 1041.1 L1184.6 1040.3 L1185.1 1039.5 L1185.5 1038.6 L1185.8 1037.6 L1186 1036.5 L1186.1 1035.4 L1186.1 1034.1 L1186.1 1032.9 L1186 1031.5 L1185.8 1030.2 L1185.5 1028.8 L1185.1 1027.4 L1184.6 1026 L1184.1 1024.6 L1183.5 1023.3 L1182.9 1021.9 L1182.1 1020.6 L1181.4 1019.4 L1180.5 1018.2 L1179.7 1017 L1178.8 1016 L1177.9 1015 L1176.9 1014.1 L1175.9 1013.3 L1175 1012.7 L1174 1012.1 L1173 1011.6 L1172.1 1011.3 L1171.1 1011.1 L1170.2 1011 L1169.4 1011 L1168.6 1011.1 L1167.8 1011.4 L1167.1 1011.8Z" fill="#fff" stroke="#000" stroke-width="1"/>
<path d="M1184.6 1035.1 C1184.6 1027.2 1179.6 1017.6 1173.4 1013.7 C1167.2 1009.7 1162.2 1012.9 1162.2 1020.8 C1162.2 1028.7 1167.2 1038.3 1173.4 1042.3 C1179.6 1046.3 1184.6 1043 1184.6 1035.1Z" fill="#fff" stroke="#000" stroke-width="1"/>
<path d="M1163.6 1014 L1163 1014.5 L1162.4 1015.1 L1161.9 1015.8 L1161.4 1016.6 L1161 1017.4 L1160.8 1018.4 L1160.5 1019.5 L1160.4 1020.6 L1160.3 1021.7 L1160.4 1023 L1160.5 1024.2 L1160.6 1025.5 L1160.9 1026.9 L1161.2 1028.2 L1161.6 1029.6 L1162.1 1030.9 L1162.7 1032.3 L1163.3 1033.6 L1163.9 1034.9 L1164.7 1036.2 L1165.4 1037.3 L1166.3 1038.5 L1167.1 1039.6 L1168 1040.6 L1168.9 1041.5 L1169.8 1042.3 L1170.8 1043 L1171.7 1043.7 L1172.7 1044.2 L1173.6 1044.6 L1174.5 1044.9 L1175.4 1045.1 L1176.3 1045.2 L1177.2 1045.2 L1178 1045 L1178.7 1044.8 L1179.4 1044.4 L1181.3 1043.2 L1182 1042.7 L1182.6 1042.1 L1183.1 1041.3 L1183.5 1040.5 L1183.9 1039.6 L1184.2 1038.6 L1184.4 1037.5 L1184.5 1036.4 L1184.6 1035.1 L1184.5 1033.9 L1184.4 1032.5 L1184.2 1031.2 L1183.9 1029.8 L1183.5 1028.4 L1183.1 1027 L1182.6 1025.6 L1182 1024.3 L1181.3 1022.9 L1180.6 1021.6 L1179.8 1020.4 L1179 1019.2 L1178.1 1018 L1177.2 1017 L1176.3 1016 L1175.3 1015.1 L1174.4 1014.3 L1173.4 1013.7 L1172.4 1013.1 L1171.5 1012.6 L1170.5 1012.3 L1169.6 1012.1 L1168.7 1012 L1167.8 1012 L1167 1012.1 L1166.2 1012.4 L1165.5 1012.8Z" fill="#fff" stroke="#000" stroke-width="1"/>
<path d="M1182.7 1036.4 C1182.7 1028.5 1177.7 1018.8 1171.5 1014.9 C1165.3 1010.9 1160.3 1014.1 1160.3 1022 C1160.3 1029.9 1165.3 1039.6 1171.5 1043.5 C1177.7 1047.5 1182.7 1044.3 1182.7 1036.4Z" fill="#fff" stroke="#000" stroke-width="1"/>
<path d="M1182.7 1036.4 C1182.7 1028.5 1177.7 1018.8 1171.5 1014.9 C1165.3 1010.9 1160.3 1014.1 1160.3 1022 C1160.3 1029.9 1165.3 1039.6 1171.5 1043.5 C1177.7 1047.5 1182.7 1044.3 1182.7 1036.4Z" fill="#fff" stroke="#000" stroke-width="1.3"/>
<path d="M1178.8 1034.3 C1178.8 1028.9 1175.4 1022.4 1171.2 1019.7 C1166.9 1017 1163.5 1019.1 1163.5 1024.5 C1163.5 1029.9 1166.9 1036.5 1171.2 1039.2 C1175.4 1041.9 1178.8 1039.7 1178.8 1034.3Z" fill="#fff" stroke="#000" stroke-width="1"/>
<path d="M1176.3 1031.9 C1176.3 1028.7 1174.2 1024.9 1171.8 1023.3 C1169.3 1021.7 1167.3 1023 1167.3 1026.1 C1167.3 1029.3 1169.3 1033.2 1171.8 1034.8 C1174.2 1036.4 1176.3 1035.1 1176.3 1031.9Z" fill="#fff" stroke="#000" stroke-width="1"/>
<path d="M1174.8 1025.3 L1174.5 1024.9 L1174.2 1024.6 L1173.9 1024.2 L1173.6 1023.9 L1173.3 1023.7 L1172.9 1023.5 L1172.6 1023.3 L1172.3 1023.1 L1172 1023 L1171.6 1022.9 L1171.3 1022.9 L1171.1 1022.9 L1170.8 1022.9 L1170.5 1023 L1170.3 1023.1 L1170 1023.2 L1169.8 1023.4 L1169.6 1023.7 L1169.5 1023.9 L1169.4 1024.2 L1169.2 1024.5 L1169.2 1024.9 L1169.1 1025.3 L1169.1 1025.7 L1169.1 1026.1 L1169.1 1026.5 L1169.2 1027 L1169.2 1027.4 L1169.4 1027.9 L1169.5 1028.3 L1169.6 1028.8 L1169.8 1029.3 L1170 1029.7 L1170.3 1030.2 L1170.5 1030.6 L1170.8 1031 L1171.1 1031.4 L1171.3 1031.8 L1171.6 1032.1 L1172 1032.5 L1172.3 1032.7 L1172.6 1033 L1172.9 1033.2 L1173.3 1033.4 L1173.6 1033.6 L1173.9 1033.7 L1174.2 1033.7 L1174.5 1033.8 L1174.8 1033.8" fill="none" stroke="#000" stroke-width="0.9"/>
<path d="M1169.9 1022.5L1165.7 1013.6" fill="none" stroke="#000" stroke-width="1"/>
<path d="M1023.5 1121.9 L1023.3 1122.1 L1023.1 1122.3 L1023 1122.5 L1022.8 1122.7 L1022.7 1123 L1022.6 1123.3 L1022.6 1123.6 L1022.5 1124 L1022.5 1124.4 L1022.5 1124.7 L1022.5 1125.1 L1022.6 1125.6 L1022.7 1126 L1022.8 1126.4 L1022.9 1126.8 L1023.1 1127.2 L1023.2 1127.7 L1023.4 1128.1 L1023.6 1128.5 L1023.9 1128.9 L1024.1 1129.3 L1024.4 1129.6 L1024.6 1130 L1024.9 1130.3 L1025.2 1130.6 L1025.5 1130.8 L1025.8 1131 L1026.1 1131.2 L1026.4 1131.4 L1026.7 1131.5 L1027 1131.6 L1027.2 1131.7 L1027.5 1131.7 L1027.8 1131.7 L1028 1131.7 L1028.3 1131.6 L1028.5 1131.5 L1153.2 1051.5 L1153.4 1051.4 L1153.6 1051.2 L1153.7 1051 L1153.9 1050.7 L1154 1050.4 L1154.1 1050.1 L1154.2 1049.8 L1154.2 1049.4 L1154.2 1049 L1154.2 1048.6 L1154.2 1048.2 L1154.1 1047.8 L1154 1047.4 L1153.9 1046.9 L1153.7 1046.5 L1153.6 1046 L1153.4 1045.6 L1153.2 1045.2 L1153 1044.8 L1152.7 1044.4 L1152.5 1044 L1152.2 1043.7 L1151.9 1043.3 L1151.6 1043 L1151.3 1042.7 L1151 1042.5 L1150.7 1042.3 L1150.4 1042.1 L1150.1 1042 L1149.8 1041.9 L1149.5 1041.8 L1149.2 1041.8 L1148.9 1041.8 L1148.7 1041.8 L1148.4 1041.9 L1148.2 1042Z" fill="#fff" stroke="#000" stroke-width="1.2"/>
<path d="M1148.2 1042 Q1151.3 1040 1154.7 1044.2 Q1156.3 1049.6 1153.2 1051.5" fill="#fff" stroke="#000" stroke-width="1.2"/>
<path d="M1015.7 1119.8 L1023 1115.2 L1029.6 1114.5 L1036.3 1123.7 L1036.3 1133.6 L1029 1138.2 L1022.4 1138.9 L1015.7 1129.7Z" fill="#fff" stroke="#000" stroke-width="1.2"/>
<path d="M1029 1128.4L1036.3 1123.7" fill="none" stroke="#000" stroke-width="1.2"/>
<path d="M1022.4 1119.2L1029.6 1114.5" fill="none" stroke="#000" stroke-width="1.2"/>
<path d="M1015.7 1119.8L1023 1115.2" fill="none" stroke="#000" stroke-width="1.2"/>
<path d="M1029 1138.2L1036.3 1133.6" fill="none" stroke="#000" stroke-width="1.2"/>
<path d="M1029 1128.4 L1022.4 1119.2 L1015.7 1119.8 L1015.7 1129.7 L1022.4 1138.9 L1029 1138.2Z" fill="#fff" stroke="#000" stroke-width="1.2"/>
<path d="M1167.3 1096.9 L1166.7 1097.4 L1166.1 1098 L1165.6 1098.7 L1165.1 1099.4 L1164.8 1100.3 L1164.5 1101.3 L1164.2 1102.3 L1164.1 1103.4 L1164 1104.6 L1164.1 1105.8 L1164.2 1107.1 L1164.3 1108.4 L1164.6 1109.8 L1164.9 1111.1 L1165.3 1112.5 L1165.8 1113.8 L1166.4 1115.2 L1167 1116.5 L1167.6 1117.8 L1168.4 1119 L1169.1 1120.2 L1170 1121.4 L1170.8 1122.4 L1171.7 1123.4 L1172.6 1124.4 L1173.6 1125.2 L1174.5 1125.9 L1175.4 1126.5 L1176.4 1127.1 L1177.3 1127.5 L1178.2 1127.8 L1179.1 1128 L1180 1128.1 L1180.9 1128.1 L1181.7 1127.9 L1182.4 1127.6 L1183.1 1127.3 L1184.7 1126.3 L1185.3 1125.8 L1185.9 1125.2 L1186.4 1124.4 L1186.9 1123.6 L1187.3 1122.7 L1187.6 1121.7 L1187.8 1120.6 L1187.9 1119.5 L1187.9 1118.2 L1187.9 1117 L1187.8 1115.6 L1187.6 1114.3 L1187.3 1112.9 L1186.9 1111.5 L1186.4 1110.1 L1185.9 1108.7 L1185.3 1107.4 L1184.7 1106 L1183.9 1104.7 L1183.2 1103.5 L1182.3 1102.3 L1181.5 1101.1 L1180.6 1100.1 L1179.7 1099.1 L1178.7 1098.2 L1177.7 1097.4 L1176.8 1096.8 L1175.8 1096.2 L1174.8 1095.7 L1173.9 1095.4 L1172.9 1095.2 L1172 1095.1 L1171.2 1095.1 L1170.4 1095.2 L1169.6 1095.5 L1168.9 1095.9Z" fill="#fff" stroke="#000" stroke-width="1"/>
<path d="M1186.4 1119.2 C1186.4 1111.3 1181.4 1101.7 1175.2 1097.8 C1169 1093.8 1164 1097 1164 1104.9 C1164 1112.8 1169 1122.4 1175.2 1126.4 C1181.4 1130.4 1186.4 1127.1 1186.4 1119.2Z" fill="#fff" stroke="#000" stroke-width="1"/>
<path d="M1165.4 1098.1 L1164.8 1098.6 L1164.2 1099.2 L1163.7 1099.9 L1163.2 1100.7 L1162.8 1101.5 L1162.6 1102.5 L1162.3 1103.6 L1162.2 1104.7 L1162.1 1105.8 L1162.2 1107.1 L1162.3 1108.3 L1162.4 1109.6 L1162.7 1111 L1163 1112.3 L1163.4 1113.7 L1163.9 1115 L1164.5 1116.4 L1165.1 1117.7 L1165.7 1119 L1166.5 1120.3 L1167.2 1121.4 L1168.1 1122.6 L1168.9 1123.7 L1169.8 1124.7 L1170.7 1125.6 L1171.6 1126.4 L1172.6 1127.1 L1173.5 1127.8 L1174.5 1128.3 L1175.4 1128.7 L1176.3 1129 L1177.2 1129.2 L1178.1 1129.3 L1179 1129.3 L1179.8 1129.1 L1180.5 1128.9 L1181.2 1128.5 L1183.1 1127.3 L1183.8 1126.8 L1184.4 1126.2 L1184.9 1125.4 L1185.3 1124.6 L1185.7 1123.7 L1186 1122.7 L1186.2 1121.6 L1186.3 1120.5 L1186.4 1119.2 L1186.3 1118 L1186.2 1116.6 L1186 1115.3 L1185.7 1113.9 L1185.3 1112.5 L1184.9 1111.1 L1184.4 1109.7 L1183.8 1108.4 L1183.1 1107 L1182.4 1105.7 L1181.6 1104.5 L1180.8 1103.3 L1179.9 1102.1 L1179 1101.1 L1178.1 1100.1 L1177.1 1099.2 L1176.2 1098.4 L1175.2 1097.8 L1174.2 1097.2 L1173.3 1096.7 L1172.3 1096.4 L1171.4 1096.2 L1170.5 1096.1 L1169.6 1096.1 L1168.8 1096.2 L1168 1096.5 L1167.3 1096.9Z" fill="#fff" stroke="#000" stroke-width="1"/>
<path d="M1184.5 1120.5 C1184.5 1112.6 1179.5 1102.9 1173.3 1099 C1167.1 1095 1162.1 1098.2 1162.1 1106.1 C1162.1 1114 1167.1 1123.7 1173.3 1127.6 C1179.5 1131.6 1184.5 1128.4 1184.5 1120.5Z" fill="#fff" stroke="#000" stroke-width="1"/>
<path d="M1184.5 1120.5 C1184.5 1112.6 1179.5 1102.9 1173.3 1099 C1167.1 1095 1162.1 1098.2 1162.1 1106.1 C1162.1 1114 1167.1 1123.7 1173.3 1127.6 C1179.5 1131.6 1184.5 1128.4 1184.5 1120.5Z" fill="#fff" stroke="#000" stroke-width="1.3"/>
<path d="M1180.6 1118.4 C1180.6 1113 1177.2 1106.5 1173 1103.8 C1168.7 1101.1 1165.3 1103.2 1165.3 1108.6 C1165.3 1114 1168.7 1120.6 1173 1123.3 C1177.2 1126 1180.6 1123.8 1180.6 1118.4Z" fill="#fff" stroke="#000" stroke-width="1"/>
<path d="M1178.1 1116 C1178.1 1112.8 1176 1109 1173.6 1107.4 C1171.1 1105.8 1169.1 1107.1 1169.1 1110.2 C1169.1 1113.4 1171.1 1117.3 1173.6 1118.9 C1176 1120.5 1178.1 1119.2 1178.1 1116Z" fill="#fff" stroke="#000" stroke-width="1"/>
<path d="M1176.6 1109.4 L1176.3 1109 L1176 1108.7 L1175.7 1108.3 L1175.4 1108 L1175.1 1107.8 L1174.7 1107.6 L1174.4 1107.4 L1174.1 1107.2 L1173.8 1107.1 L1173.4 1107 L1173.1 1107 L1172.9 1107 L1172.6 1107 L1172.3 1107.1 L1172.1 1107.2 L1171.8 1107.3 L1171.6 1107.5 L1171.4 1107.8 L1171.3 1108 L1171.2 1108.3 L1171 1108.6 L1171 1109 L1170.9 1109.4 L1170.9 1109.8 L1170.9 1110.2 L1170.9 1110.6 L1171 1111.1 L1171 1111.5 L1171.2 1112 L1171.3 1112.4 L1171.4 1112.9 L1171.6 1113.4 L1171.8 1113.8 L1172.1 1114.3 L1172.3 1114.7 L1172.6 1115.1 L1172.9 1115.5 L1173.1 1115.9 L1173.4 1116.2 L1173.8 1116.6 L1174.1 1116.8 L1174.4 1117.1 L1174.7 1117.3 L1175.1 1117.5 L1175.4 1117.7 L1175.7 1117.8 L1176 1117.8 L1176.3 1117.9 L1176.6 1117.9" fill="none" stroke="#000" stroke-width="0.9"/>
<path d="M1171.7 1106.6L1167.5 1097.7" fill="none" stroke="#000" stroke-width="1"/>
<path d="M1023.5 1208.5 L1023.3 1208.7 L1023.1 1208.9 L1023 1209.1 L1022.8 1209.3 L1022.7 1209.6 L1022.6 1209.9 L1022.6 1210.2 L1022.5 1210.6 L1022.5 1211 L1022.5 1211.3 L1022.5 1211.7 L1022.6 1212.2 L1022.7 1212.6 L1022.8 1213 L1022.9 1213.4 L1023.1 1213.8 L1023.2 1214.3 L1023.4 1214.7 L1023.6 1215.1 L1023.9 1215.5 L1024.1 1215.9 L1024.4 1216.2 L1024.6 1216.6 L1024.9 1216.9 L1025.2 1217.2 L1025.5 1217.4 L1025.8 1217.6 L1026.1 1217.8 L1026.4 1218 L1026.7 1218.1 L1027 1218.2 L1027.2 1218.3 L1027.5 1218.3 L1027.8 1218.3 L1028 1218.3 L1028.3 1218.2 L1028.5 1218.1 L1153.2 1138.1 L1153.4 1138 L1153.6 1137.8 L1153.7 1137.6 L1153.9 1137.3 L1154 1137 L1154.1 1136.7 L1154.2 1136.4 L1154.2 1136 L1154.2 1135.6 L1154.2 1135.2 L1154.2 1134.8 L1154.1 1134.4 L1154 1134 L1153.9 1133.5 L1153.7 1133.1 L1153.6 1132.6 L1153.4 1132.2 L1153.2 1131.8 L1153 1131.4 L1152.7 1131 L1152.5 1130.6 L1152.2 1130.3 L1151.9 1129.9 L1151.6 1129.6 L1151.3 1129.3 L1151 1129.1 L1150.7 1128.9 L1150.4 1128.7 L1150.1 1128.6 L1149.8 1128.5 L1149.5 1128.4 L1149.2 1128.4 L1148.9 1128.4 L1148.7 1128.4 L1148.4 1128.5 L1148.2 1128.6Z" fill="#fff" stroke="#000" stroke-width="1.2"/>
<path d="M1148.2 1128.6 Q1151.3 1126.6 1154.7 1130.8 Q1156.3 1136.2 1153.2 1138.1" fill="#fff" stroke="#000" stroke-width="1.2"/>
<path d="M1015.7 1206.4 L1023 1201.8 L1029.6 1201.1 L1036.3 1210.3 L1036.3 1220.2 L1029 1224.8 L1022.4 1225.5 L1015.7 1216.3Z" fill="#fff" stroke="#000" stroke-width="1.2"/>
<path d="M1029 1215L1036.3 1210.3" fill="none" stroke="#000" stroke-width="1.2"/>
<path d="M1022.4 1205.8L1029.6 1201.1" fill="none" stroke="#000" stroke-width="1.2"/>
<path d="M1015.7 1206.4L1023 1201.8" fill="none" stroke="#000" stroke-width="1.2"/>
<path d="M1029 1224.8L1036.3 1220.2" fill="none" stroke="#000" stroke-width="1.2"/>
<path d="M1029 1215 L1022.4 1205.8 L1015.7 1206.4 L1015.7 1216.3 L1022.4 1225.5 L1029 1224.8Z" fill="#fff" stroke="#000" stroke-width="1.2"/>
<path d="M1231.3 1058.6 L1230.7 1059.1 L1230.1 1059.7 L1229.6 1060.4 L1229.1 1061.1 L1228.8 1062 L1228.5 1063 L1228.2 1064 L1228.1 1065.1 L1228 1066.3 L1228.1 1067.5 L1228.2 1068.8 L1228.3 1070.1 L1228.6 1071.5 L1228.9 1072.8 L1229.3 1074.2 L1229.8 1075.5 L1230.4 1076.9 L1231 1078.2 L1231.6 1079.5 L1232.4 1080.7 L1233.1 1081.9 L1234 1083.1 L1234.8 1084.1 L1235.7 1085.1 L1236.6 1086.1 L1237.6 1086.9 L1238.5 1087.6 L1239.4 1088.2 L1240.4 1088.8 L1241.3 1089.2 L1242.2 1089.5 L1243.1 1089.7 L1244 1089.8 L1244.9 1089.8 L1245.7 1089.6 L1246.4 1089.3 L1247.1 1089 L1248.7 1088 L1249.3 1087.5 L1249.9 1086.9 L1250.4 1086.1 L1250.9 1085.3 L1251.3 1084.4 L1251.6 1083.4 L1251.8 1082.3 L1251.9 1081.2 L1251.9 1079.9 L1251.9 1078.7 L1251.8 1077.3 L1251.6 1076 L1251.3 1074.6 L1250.9 1073.2 L1250.4 1071.8 L1249.9 1070.4 L1249.3 1069.1 L1248.7 1067.7 L1247.9 1066.4 L1247.2 1065.2 L1246.3 1064 L1245.5 1062.8 L1244.6 1061.8 L1243.7 1060.8 L1242.7 1059.9 L1241.7 1059.1 L1240.8 1058.5 L1239.8 1057.9 L1238.8 1057.4 L1237.9 1057.1 L1236.9 1056.9 L1236 1056.8 L1235.2 1056.8 L1234.4 1056.9 L1233.6 1057.2 L1232.9 1057.6Z" fill="#fff" stroke="#000" stroke-width="1"/>
<path d="M1250.4 1080.9 C1250.4 1073 1245.4 1063.4 1239.2 1059.5 C1233 1055.5 1228 1058.7 1228 1066.6 C1228 1074.5 1233 1084.1 1239.2 1088.1 C1245.4 1092.1 1250.4 1088.8 1250.4 1080.9Z" fill="#fff" stroke="#000" stroke-width="1"/>
<path d="M1229.4 1059.8 L1228.8 1060.3 L1228.2 1060.9 L1227.7 1061.6 L1227.2 1062.4 L1226.8 1063.2 L1226.6 1064.2 L1226.3 1065.3 L1226.2 1066.4 L1226.1 1067.5 L1226.2 1068.8 L1226.3 1070 L1226.4 1071.3 L1226.7 1072.7 L1227 1074 L1227.4 1075.4 L1227.9 1076.7 L1228.5 1078.1 L1229.1 1079.4 L1229.7 1080.7 L1230.5 1082 L1231.2 1083.1 L1232.1 1084.3 L1232.9 1085.4 L1233.8 1086.4 L1234.7 1087.3 L1235.6 1088.1 L1236.6 1088.8 L1237.5 1089.5 L1238.5 1090 L1239.4 1090.4 L1240.3 1090.7 L1241.2 1090.9 L1242.1 1091 L1243 1091 L1243.8 1090.8 L1244.5 1090.6 L1245.2 1090.2 L1247.1 1089 L1247.8 1088.5 L1248.4 1087.9 L1248.9 1087.1 L1249.3 1086.3 L1249.7 1085.4 L1250 1084.4 L1250.2 1083.3 L1250.3 1082.2 L1250.4 1080.9 L1250.3 1079.7 L1250.2 1078.3 L1250 1077 L1249.7 1075.6 L1249.3 1074.2 L1248.9 1072.8 L1248.4 1071.4 L1247.8 1070.1 L1247.1 1068.7 L1246.4 1067.4 L1245.6 1066.2 L1244.8 1065 L1243.9 1063.8 L1243 1062.8 L1242.1 1061.8 L1241.1 1060.9 L1240.2 1060.1 L1239.2 1059.5 L1238.2 1058.9 L1237.3 1058.4 L1236.3 1058.1 L1235.4 1057.9 L1234.5 1057.8 L1233.6 1057.8 L1232.8 1057.9 L1232 1058.2 L1231.3 1058.6Z" fill="#fff" stroke="#000" stroke-width="1"/>
<path d="M1248.5 1082.2 C1248.5 1074.3 1243.5 1064.6 1237.3 1060.7 C1231.1 1056.7 1226.1 1059.9 1226.1 1067.8 C1226.1 1075.7 1231.1 1085.4 1237.3 1089.3 C1243.5 1093.3 1248.5 1090.1 1248.5 1082.2Z" fill="#fff" stroke="#000" stroke-width="1"/>
<path d="M1248.5 1082.2 C1248.5 1074.3 1243.5 1064.6 1237.3 1060.7 C1231.1 1056.7 1226.1 1059.9 1226.1 1067.8 C1226.1 1075.7 1231.1 1085.4 1237.3 1089.3 C1243.5 1093.3 1248.5 1090.1 1248.5 1082.2Z" fill="#fff" stroke="#000" stroke-width="1.3"/>
<path d="M1244.6 1080.1 C1244.6 1074.7 1241.2 1068.2 1237 1065.5 C1232.7 1062.8 1229.3 1064.9 1229.3 1070.3 C1229.3 1075.7 1232.7 1082.3 1237 1085 C1241.2 1087.7 1244.6 1085.5 1244.6 1080.1Z" fill="#fff" stroke="#000" stroke-width="1"/>
<path d="M1242.1 1077.7 C1242.1 1074.5 1240 1070.7 1237.6 1069.1 C1235.1 1067.5 1233.1 1068.8 1233.1 1071.9 C1233.1 1075.1 1235.1 1079 1237.6 1080.6 C1240 1082.2 1242.1 1080.9 1242.1 1077.7Z" fill="#fff" stroke="#000" stroke-width="1"/>
<path d="M1240.6 1071.1 L1240.3 1070.7 L1240 1070.4 L1239.7 1070 L1239.4 1069.7 L1239.1 1069.5 L1238.7 1069.3 L1238.4 1069.1 L1238.1 1068.9 L1237.8 1068.8 L1237.4 1068.7 L1237.1 1068.7 L1236.9 1068.7 L1236.6 1068.7 L1236.3 1068.8 L1236.1 1068.9 L1235.8 1069 L1235.6 1069.2 L1235.4 1069.5 L1235.3 1069.7 L1235.2 1070 L1235 1070.3 L1235 1070.7 L1234.9 1071.1 L1234.9 1071.5 L1234.9 1071.9 L1234.9 1072.3 L1235 1072.8 L1235 1073.2 L1235.2 1073.7 L1235.3 1074.1 L1235.4 1074.6 L1235.6 1075.1 L1235.8 1075.5 L1236.1 1076 L1236.3 1076.4 L1236.6 1076.8 L1236.9 1077.2 L1237.1 1077.6 L1237.4 1077.9 L1237.8 1078.3 L1238.1 1078.5 L1238.4 1078.8 L1238.7 1079 L1239.1 1079.2 L1239.4 1079.4 L1239.7 1079.5 L1240 1079.5 L1240.3 1079.6 L1240.6 1079.6" fill="none" stroke="#000" stroke-width="0.9"/>
<path d="M1235.7 1068.3L1231.5 1059.4" fill="none" stroke="#000" stroke-width="1"/>
<path d="M1090.8 1165.4 L1090.6 1165.6 L1090.4 1165.8 L1090.3 1166 L1090.1 1166.2 L1090 1166.5 L1089.9 1166.8 L1089.9 1167.1 L1089.8 1167.5 L1089.8 1167.9 L1089.8 1168.2 L1089.8 1168.6 L1089.9 1169.1 L1090 1169.5 L1090.1 1169.9 L1090.2 1170.3 L1090.4 1170.7 L1090.5 1171.2 L1090.7 1171.6 L1090.9 1172 L1091.2 1172.4 L1091.4 1172.8 L1091.7 1173.1 L1091.9 1173.5 L1092.2 1173.8 L1092.5 1174.1 L1092.8 1174.3 L1093.1 1174.5 L1093.4 1174.7 L1093.7 1174.9 L1094 1175 L1094.3 1175.1 L1094.5 1175.2 L1094.8 1175.2 L1095.1 1175.2 L1095.3 1175.2 L1095.6 1175.1 L1095.8 1175 L1221.6 1094.3 L1221.8 1094.2 L1222 1094 L1222.1 1093.8 L1222.3 1093.5 L1222.4 1093.2 L1222.5 1092.9 L1222.6 1092.6 L1222.6 1092.2 L1222.6 1091.8 L1222.6 1091.4 L1222.6 1091 L1222.5 1090.6 L1222.4 1090.2 L1222.3 1089.7 L1222.1 1089.3 L1222 1088.8 L1221.8 1088.4 L1221.6 1088 L1221.4 1087.6 L1221.1 1087.2 L1220.9 1086.8 L1220.6 1086.5 L1220.3 1086.1 L1220 1085.8 L1219.7 1085.5 L1219.4 1085.3 L1219.1 1085.1 L1218.8 1084.9 L1218.5 1084.8 L1218.2 1084.7 L1217.9 1084.6 L1217.6 1084.6 L1217.3 1084.6 L1217.1 1084.6 L1216.8 1084.7 L1216.6 1084.8Z" fill="#fff" stroke="#000" stroke-width="1.2"/>
<path d="M1216.6 1084.8 Q1219.7 1082.8 1223.1 1087 Q1224.7 1092.3 1221.6 1094.3" fill="#fff" stroke="#000" stroke-width="1.2"/>
<path d="M1083 1163.3 L1090.3 1158.7 L1096.9 1158 L1103.6 1167.2 L1103.6 1177.1 L1096.3 1181.8 L1089.7 1182.4 L1083 1173.2Z" fill="#fff" stroke="#000" stroke-width="1.2"/>
<path d="M1096.3 1171.9L1103.6 1167.2" fill="none" stroke="#000" stroke-width="1.2"/>
<path d="M1089.7 1162.7L1096.9 1158" fill="none" stroke="#000" stroke-width="1.2"/>
<path d="M1083 1163.3L1090.3 1158.7" fill="none" stroke="#000" stroke-width="1.2"/>
<path d="M1096.3 1181.7L1103.6 1177.1" fill="none" stroke="#000" stroke-width="1.2"/>
<path d="M1096.3 1171.9 L1089.7 1162.7 L1083 1163.3 L1083 1173.2 L1089.7 1182.4 L1096.3 1181.7Z" fill="#fff" stroke="#000" stroke-width="1.2"/>
<path d="M1232.3 1143.6 L1231.7 1144.1 L1231.1 1144.7 L1230.6 1145.4 L1230.1 1146.1 L1229.8 1147 L1229.5 1148 L1229.2 1149 L1229.1 1150.1 L1229 1151.3 L1229.1 1152.5 L1229.2 1153.8 L1229.3 1155.1 L1229.6 1156.5 L1229.9 1157.8 L1230.3 1159.2 L1230.8 1160.5 L1231.4 1161.9 L1232 1163.2 L1232.6 1164.5 L1233.4 1165.7 L1234.1 1166.9 L1235 1168.1 L1235.8 1169.1 L1236.7 1170.1 L1237.6 1171.1 L1238.6 1171.9 L1239.5 1172.6 L1240.4 1173.2 L1241.4 1173.8 L1242.3 1174.2 L1243.2 1174.5 L1244.1 1174.7 L1245 1174.8 L1245.9 1174.8 L1246.7 1174.6 L1247.4 1174.3 L1248.1 1174 L1249.7 1173 L1250.3 1172.5 L1250.9 1171.9 L1251.4 1171.1 L1251.9 1170.3 L1252.3 1169.4 L1252.6 1168.4 L1252.8 1167.3 L1252.9 1166.2 L1252.9 1164.9 L1252.9 1163.7 L1252.8 1162.3 L1252.6 1161 L1252.3 1159.6 L1251.9 1158.2 L1251.4 1156.8 L1250.9 1155.4 L1250.3 1154.1 L1249.7 1152.7 L1248.9 1151.4 L1248.2 1150.2 L1247.3 1149 L1246.5 1147.8 L1245.6 1146.8 L1244.7 1145.8 L1243.7 1144.9 L1242.7 1144.1 L1241.8 1143.5 L1240.8 1142.9 L1239.8 1142.4 L1238.9 1142.1 L1237.9 1141.9 L1237 1141.8 L1236.2 1141.8 L1235.4 1141.9 L1234.6 1142.2 L1233.9 1142.6Z" fill="#fff" stroke="#000" stroke-width="1"/>
<path d="M1251.4 1165.9 C1251.4 1158 1246.4 1148.4 1240.2 1144.5 C1234 1140.5 1229 1143.7 1229 1151.6 C1229 1159.5 1234 1169.1 1240.2 1173.1 C1246.4 1177.1 1251.4 1173.8 1251.4 1165.9Z" fill="#fff" stroke="#000" stroke-width="1"/>
<path d="M1230.4 1144.8 L1229.8 1145.3 L1229.2 1145.9 L1228.7 1146.6 L1228.2 1147.4 L1227.8 1148.2 L1227.6 1149.2 L1227.3 1150.3 L1227.2 1151.4 L1227.1 1152.5 L1227.2 1153.8 L1227.3 1155 L1227.4 1156.3 L1227.7 1157.7 L1228 1159 L1228.4 1160.4 L1228.9 1161.7 L1229.5 1163.1 L1230.1 1164.4 L1230.7 1165.7 L1231.5 1167 L1232.2 1168.1 L1233.1 1169.3 L1233.9 1170.4 L1234.8 1171.4 L1235.7 1172.3 L1236.6 1173.1 L1237.6 1173.8 L1238.5 1174.5 L1239.5 1175 L1240.4 1175.4 L1241.3 1175.7 L1242.2 1175.9 L1243.1 1176 L1244 1176 L1244.8 1175.8 L1245.5 1175.6 L1246.2 1175.2 L1248.1 1174 L1248.8 1173.5 L1249.4 1172.9 L1249.9 1172.1 L1250.3 1171.3 L1250.7 1170.4 L1251 1169.4 L1251.2 1168.3 L1251.3 1167.2 L1251.4 1165.9 L1251.3 1164.7 L1251.2 1163.3 L1251 1162 L1250.7 1160.6 L1250.3 1159.2 L1249.9 1157.8 L1249.4 1156.4 L1248.8 1155.1 L1248.1 1153.7 L1247.4 1152.4 L1246.6 1151.2 L1245.8 1150 L1244.9 1148.8 L1244 1147.8 L1243.1 1146.8 L1242.1 1145.9 L1241.2 1145.1 L1240.2 1144.5 L1239.2 1143.9 L1238.3 1143.4 L1237.3 1143.1 L1236.4 1142.9 L1235.5 1142.8 L1234.6 1142.8 L1233.8 1142.9 L1233 1143.2 L1232.3 1143.6Z" fill="#fff" stroke="#000" stroke-width="1"/>
<path d="M1249.5 1167.2 C1249.5 1159.3 1244.5 1149.6 1238.3 1145.7 C1232.1 1141.7 1227.1 1144.9 1227.1 1152.8 C1227.1 1160.7 1232.1 1170.4 1238.3 1174.3 C1244.5 1178.3 1249.5 1175.1 1249.5 1167.2Z" fill="#fff" stroke="#000" stroke-width="1"/>
<path d="M1249.5 1167.2 C1249.5 1159.3 1244.5 1149.6 1238.3 1145.7 C1232.1 1141.7 1227.1 1144.9 1227.1 1152.8 C1227.1 1160.7 1232.1 1170.4 1238.3 1174.3 C1244.5 1178.3 1249.5 1175.1 1249.5 1167.2Z" fill="#fff" stroke="#000" stroke-width="1.3"/>
<path d="M1245.6 1165.1 C1245.6 1159.7 1242.2 1153.2 1238 1150.5 C1233.7 1147.8 1230.3 1149.9 1230.3 1155.3 C1230.3 1160.7 1233.7 1167.3 1238 1170 C1242.2 1172.7 1245.6 1170.5 1245.6 1165.1Z" fill="#fff" stroke="#000" stroke-width="1"/>
<path d="M1243.1 1162.7 C1243.1 1159.5 1241 1155.7 1238.6 1154.1 C1236.1 1152.5 1234.1 1153.8 1234.1 1156.9 C1234.1 1160.1 1236.1 1164 1238.6 1165.6 C1241 1167.2 1243.1 1165.9 1243.1 1162.7Z" fill="#fff" stroke="#000" stroke-width="1"/>
<path d="M1241.6 1156.1 L1241.3 1155.7 L1241 1155.4 L1240.7 1155 L1240.4 1154.7 L1240.1 1154.5 L1239.7 1154.3 L1239.4 1154.1 L1239.1 1153.9 L1238.8 1153.8 L1238.4 1153.7 L1238.1 1153.7 L1237.9 1153.7 L1237.6 1153.7 L1237.3 1153.8 L1237.1 1153.9 L1236.8 1154 L1236.6 1154.2 L1236.4 1154.5 L1236.3 1154.7 L1236.2 1155 L1236 1155.3 L1236 1155.7 L1235.9 1156.1 L1235.9 1156.5 L1235.9 1156.9 L1235.9 1157.3 L1236 1157.8 L1236 1158.2 L1236.2 1158.7 L1236.3 1159.1 L1236.4 1159.6 L1236.6 1160.1 L1236.8 1160.5 L1237.1 1161 L1237.3 1161.4 L1237.6 1161.8 L1237.9 1162.2 L1238.1 1162.6 L1238.4 1162.9 L1238.8 1163.3 L1239.1 1163.5 L1239.4 1163.8 L1239.7 1164 L1240.1 1164.2 L1240.4 1164.4 L1240.7 1164.5 L1241 1164.5 L1241.3 1164.6 L1241.6 1164.6" fill="none" stroke="#000" stroke-width="0.9"/>
<path d="M1236.7 1153.3L1232.5 1144.4" fill="none" stroke="#000" stroke-width="1"/>
<path d="M1090.8 1252.2 L1090.6 1252.4 L1090.4 1252.6 L1090.3 1252.8 L1090.1 1253 L1090 1253.3 L1089.9 1253.6 L1089.9 1253.9 L1089.8 1254.3 L1089.8 1254.7 L1089.8 1255 L1089.8 1255.4 L1089.9 1255.9 L1090 1256.3 L1090.1 1256.7 L1090.2 1257.1 L1090.4 1257.5 L1090.5 1258 L1090.7 1258.4 L1090.9 1258.8 L1091.2 1259.2 L1091.4 1259.6 L1091.7 1259.9 L1091.9 1260.3 L1092.2 1260.6 L1092.5 1260.9 L1092.8 1261.1 L1093.1 1261.3 L1093.4 1261.5 L1093.7 1261.7 L1094 1261.8 L1094.3 1261.9 L1094.5 1262 L1094.8 1262 L1095.1 1262 L1095.3 1262 L1095.6 1261.9 L1095.8 1261.8 L1221.6 1181.1 L1221.8 1181 L1222 1180.8 L1222.1 1180.6 L1222.3 1180.3 L1222.4 1180 L1222.5 1179.7 L1222.6 1179.4 L1222.6 1179 L1222.6 1178.6 L1222.6 1178.2 L1222.6 1177.8 L1222.5 1177.4 L1222.4 1177 L1222.3 1176.5 L1222.1 1176.1 L1222 1175.6 L1221.8 1175.2 L1221.6 1174.8 L1221.4 1174.4 L1221.1 1174 L1220.9 1173.6 L1220.6 1173.3 L1220.3 1172.9 L1220 1172.6 L1219.7 1172.3 L1219.4 1172.1 L1219.1 1171.9 L1218.8 1171.7 L1218.5 1171.6 L1218.2 1171.5 L1217.9 1171.4 L1217.6 1171.4 L1217.3 1171.4 L1217.1 1171.4 L1216.8 1171.5 L1216.6 1171.6Z" fill="#fff" stroke="#000" stroke-width="1.2"/>
<path d="M1216.6 1171.6 Q1219.7 1169.6 1223.1 1173.8 Q1224.7 1179.1 1221.6 1181.1" fill="#fff" stroke="#000" stroke-width="1.2"/>
<path d="M1083 1250.1 L1090.3 1245.5 L1096.9 1244.8 L1103.6 1254 L1103.6 1263.9 L1096.3 1268.5 L1089.7 1269.2 L1083 1260Z" fill="#fff" stroke="#000" stroke-width="1.2"/>
<path d="M1096.3 1258.7L1103.6 1254" fill="none" stroke="#000" stroke-width="1.2"/>
<path d="M1089.7 1249.5L1096.9 1244.8" fill="none" stroke="#000" stroke-width="1.2"/>
<path d="M1083 1250.1L1090.3 1245.5" fill="none" stroke="#000" stroke-width="1.2"/>
<path d="M1096.3 1268.5L1103.6 1263.9" fill="none" stroke="#000" stroke-width="1.2"/>
<path d="M1096.3 1258.7 L1089.7 1249.5 L1083 1250.1 L1083 1260 L1089.7 1269.2 L1096.3 1268.5Z" fill="#fff" stroke="#000" stroke-width="1.2"/>
<path d="M1222.4 1029.4 L1222 1029.7 L1221.6 1030.1 L1221.3 1030.6 L1221 1031.1 L1220.7 1031.6 L1220.5 1032.3 L1220.4 1032.9 L1220.3 1033.7 L1220.3 1034.4 L1220.3 1035.2 L1220.3 1036.1 L1220.5 1036.9 L1220.6 1037.8 L1220.8 1038.7 L1221.1 1039.5 L1221.4 1040.4 L1221.8 1041.3 L1222.2 1042.2 L1222.6 1043 L1223.1 1043.8 L1223.6 1044.6 L1224.1 1045.3 L1224.7 1046 L1225.3 1046.7 L1225.8 1047.3 L1226.5 1047.8 L1227.1 1048.3 L1227.7 1048.7 L1228.3 1049.1 L1228.9 1049.3 L1229.5 1049.5 L1230.1 1049.7 L1230.7 1049.7 L1231.2 1049.7 L1231.7 1049.6 L1232.2 1049.4 L1232.7 1049.2 L1242.6 1042.8 L1243.1 1042.5 L1243.4 1042.1 L1243.8 1041.6 L1244.1 1041.1 L1244.3 1040.5 L1244.5 1039.8 L1244.7 1039.1 L1244.7 1038.4 L1244.8 1037.6 L1244.7 1036.7 L1244.7 1035.9 L1244.5 1035 L1244.3 1034.1 L1244.1 1033.2 L1243.8 1032.3 L1243.4 1031.4 L1243.1 1030.5 L1242.6 1029.6 L1242.2 1028.8 L1241.7 1027.9 L1241.1 1027.2 L1240.6 1026.4 L1240 1025.7 L1239.4 1025.1 L1238.8 1024.5 L1238.1 1024 L1237.5 1023.6 L1236.9 1023.2 L1236.2 1022.9 L1235.6 1022.7 L1235 1022.6 L1234.4 1022.5 L1233.9 1022.5 L1233.3 1022.6 L1232.8 1022.8 L1232.3 1023Z" fill="#fff" stroke="#000" stroke-width="1.2"/>
<path d="M1234.8 1044 C1234.8 1038.8 1231.5 1032.5 1227.5 1030 C1223.5 1027.4 1220.3 1029.5 1220.3 1034.6 C1220.3 1039.8 1223.5 1046 1227.5 1048.6 C1231.5 1051.2 1234.8 1049.1 1234.8 1044Z" fill="#fff" stroke="#000" stroke-width="1.2"/>
<path d="M1220 1029.3 L1219.6 1029.7 L1219.2 1030.1 L1218.8 1030.6 L1218.5 1031.2 L1218.2 1031.8 L1218 1032.5 L1217.8 1033.3 L1217.7 1034.1 L1217.7 1035 L1217.7 1035.9 L1217.7 1036.8 L1217.9 1037.7 L1218.1 1038.7 L1218.3 1039.7 L1218.6 1040.7 L1219 1041.7 L1219.4 1042.7 L1219.8 1043.6 L1220.3 1044.6 L1220.8 1045.5 L1221.4 1046.3 L1222 1047.2 L1222.6 1047.9 L1223.3 1048.7 L1223.9 1049.3 L1224.6 1049.9 L1225.3 1050.5 L1226 1050.9 L1226.7 1051.3 L1227.3 1051.6 L1228 1051.9 L1228.7 1052 L1229.3 1052.1 L1229.9 1052 L1230.5 1051.9 L1231 1051.7 L1231.6 1051.5 L1233.6 1050.1 L1234.1 1049.8 L1234.5 1049.3 L1234.9 1048.8 L1235.3 1048.2 L1235.5 1047.5 L1235.7 1046.8 L1235.9 1046 L1236 1045.2 L1236 1044.3 L1236 1043.4 L1235.9 1042.4 L1235.7 1041.4 L1235.5 1040.4 L1235.3 1039.4 L1234.9 1038.4 L1234.5 1037.4 L1234.1 1036.4 L1233.6 1035.4 L1233.1 1034.4 L1232.5 1033.5 L1231.9 1032.6 L1231.3 1031.8 L1230.7 1031 L1230 1030.3 L1229.3 1029.7 L1228.6 1029.1 L1227.9 1028.6 L1227.2 1028.2 L1226.5 1027.9 L1225.8 1027.6 L1225.1 1027.5 L1224.4 1027.4 L1223.8 1027.4 L1223.2 1027.5 L1222.6 1027.7 L1222.1 1028Z" fill="#000" stroke="#000" stroke-width="1.2"/>
<path d="M1233.9 1045.6 C1233.9 1039.9 1230.3 1032.8 1225.8 1030 C1221.3 1027.1 1217.7 1029.4 1217.7 1035.2 C1217.7 1040.9 1221.3 1048 1225.8 1050.8 C1230.3 1053.7 1233.9 1051.4 1233.9 1045.6Z" fill="#000" stroke="#000" stroke-width="1.2"/>
<path d="M1233.9 1045.6 C1233.9 1039.9 1230.3 1032.8 1225.8 1030 C1221.3 1027.1 1217.7 1029.4 1217.7 1035.2 C1217.7 1040.9 1221.3 1048 1225.8 1050.8 C1230.3 1053.7 1233.9 1051.4 1233.9 1045.6Z" fill="#fff" stroke="#000" stroke-width="1.3"/>
<path d="M1284.8 996.3 L1284.6 996.4 L1284.5 996.6 L1284.4 996.7 L1284.3 996.8 L1284.2 997 L1284.2 997.2 L1284.1 997.4 L1284.1 997.7 L1284.1 997.9 L1284.1 998.1 L1284.1 998.4 L1284.2 998.7 L1284.2 998.9 L1284.3 999.2 L1284.4 999.5 L1284.5 999.7 L1284.6 1000 L1284.7 1000.3 L1284.8 1000.5 L1285 1000.8 L1285.1 1001 L1285.3 1001.3 L1285.5 1001.5 L1285.6 1001.7 L1285.8 1001.9 L1286 1002 L1286.2 1002.2 L1286.4 1002.3 L1286.6 1002.4 L1286.8 1002.5 L1287 1002.6 L1287.1 1002.6 L1287.3 1002.6 L1287.5 1002.6 L1287.6 1002.6 L1287.8 1002.5 L1287.9 1002.5 L1291.4 1000.2 L1291.5 1000.1 L1291.7 1000 L1291.8 999.9 L1291.9 999.7 L1291.9 999.5 L1292 999.3 L1292 999.1 L1292.1 998.9 L1292.1 998.6 L1292.1 998.4 L1292 998.1 L1292 997.8 L1291.9 997.5 L1291.9 997.3 L1291.8 997 L1291.7 996.7 L1291.5 996.4 L1291.4 996.2 L1291.3 995.9 L1291.1 995.6 L1290.9 995.4 L1290.8 995.2 L1290.6 995 L1290.4 994.8 L1290.2 994.6 L1290 994.4 L1289.8 994.3 L1289.6 994.2 L1289.4 994.1 L1289.2 994 L1289 994 L1288.9 993.9 L1288.7 994 L1288.5 994 L1288.4 994 L1288.2 994.1Z" fill="#fff" stroke="#000" stroke-width="1"/>
<path d="M1288.6 1000.8 C1288.6 999.2 1287.6 997.3 1286.3 996.5 C1285.1 995.7 1284.1 996.4 1284.1 998 C1284.1 999.5 1285.1 1001.5 1286.3 1002.3 C1287.6 1003.1 1288.6 1002.4 1288.6 1000.8Z" fill="#fff" stroke="#000" stroke-width="1"/>
<path d="M1272.7 1002 L1272.5 1002.2 L1272.3 1002.3 L1272.2 1002.6 L1272 1002.8 L1271.9 1003.1 L1271.8 1003.3 L1271.8 1003.7 L1271.7 1004 L1271.7 1004.4 L1271.7 1004.7 L1271.7 1005.1 L1271.8 1005.5 L1271.9 1005.9 L1272 1006.3 L1272.1 1006.7 L1272.3 1007.1 L1272.4 1007.5 L1272.6 1007.9 L1272.8 1008.3 L1273 1008.7 L1273.3 1009.1 L1273.5 1009.4 L1273.8 1009.7 L1274 1010 L1274.3 1010.3 L1274.6 1010.6 L1274.9 1010.8 L1275.2 1011 L1275.4 1011.1 L1275.7 1011.3 L1276 1011.4 L1276.3 1011.4 L1276.5 1011.4 L1276.8 1011.4 L1277 1011.4 L1277.3 1011.3 L1277.5 1011.2 L1288.7 1004 L1288.9 1003.8 L1289.1 1003.7 L1289.3 1003.4 L1289.4 1003.2 L1289.5 1002.9 L1289.6 1002.6 L1289.7 1002.3 L1289.7 1001.9 L1289.7 1001.6 L1289.7 1001.2 L1289.7 1000.8 L1289.6 1000.4 L1289.5 999.9 L1289.4 999.5 L1289.3 999.1 L1289.1 998.7 L1288.9 998.3 L1288.7 997.9 L1288.5 997.5 L1288.3 997.1 L1288 996.7 L1287.8 996.4 L1287.5 996.1 L1287.2 995.8 L1286.9 995.5 L1286.6 995.3 L1286.3 995.1 L1286.1 994.9 L1285.8 994.8 L1285.5 994.7 L1285.2 994.6 L1284.9 994.6 L1284.7 994.6 L1284.4 994.6 L1284.2 994.7 L1284 994.8Z" fill="#fff" stroke="#000" stroke-width="1.1"/>
<path d="M1278.5 1008.8 C1278.5 1006.4 1277 1003.5 1275.1 1002.3 C1273.2 1001.1 1271.7 1002.1 1271.7 1004.4 C1271.7 1006.8 1273.2 1009.7 1275.1 1010.9 C1277 1012.1 1278.5 1011.2 1278.5 1008.8Z" fill="#fff" stroke="#000" stroke-width="1.1"/>
<path d="M1264.5 1007.6 L1266.8 1004 L1272.4 1000.5 L1276.9 1003.3 L1279.2 1009.8 L1276.9 1013.3 L1271.3 1016.9 L1266.8 1014Z" fill="#fff" stroke="#000" stroke-width="1"/>
<path d="M1273.5 1013.4L1279.2 1009.8" fill="none" stroke="#000" stroke-width="1"/>
<path d="M1271.3 1006.9L1276.9 1003.3" fill="none" stroke="#000" stroke-width="1"/>
<path d="M1266.8 1004.1L1272.4 1000.4" fill="none" stroke="#000" stroke-width="1"/>
<path d="M1271.3 1016.9L1276.9 1013.3" fill="none" stroke="#000" stroke-width="1"/>
<path d="M1273.5 1013.4 L1271.3 1006.9 L1266.8 1004.1 L1264.5 1007.6 L1266.8 1014.1 L1271.3 1016.9Z" fill="#fff" stroke="#000" stroke-width="1"/>
<path d="M1261 1010.6 L1260.8 1010.7 L1260.7 1010.9 L1260.6 1011.1 L1260.5 1011.2 L1260.4 1011.5 L1260.3 1011.7 L1260.2 1012 L1260.2 1012.2 L1260.2 1012.5 L1260.2 1012.8 L1260.2 1013.1 L1260.3 1013.5 L1260.3 1013.8 L1260.4 1014.1 L1260.5 1014.5 L1260.6 1014.8 L1260.8 1015.1 L1260.9 1015.5 L1261.1 1015.8 L1261.3 1016.1 L1261.5 1016.4 L1261.7 1016.7 L1261.9 1016.9 L1262.1 1017.2 L1262.3 1017.4 L1262.6 1017.6 L1262.8 1017.8 L1263 1018 L1263.3 1018.1 L1263.5 1018.2 L1263.7 1018.3 L1263.9 1018.3 L1264.2 1018.4 L1264.4 1018.3 L1264.6 1018.3 L1264.8 1018.2 L1264.9 1018.1 L1271 1014.3 L1271.1 1014.1 L1271.3 1014 L1271.4 1013.8 L1271.5 1013.6 L1271.6 1013.4 L1271.7 1013.1 L1271.8 1012.9 L1271.8 1012.6 L1271.8 1012.3 L1271.8 1012 L1271.8 1011.6 L1271.7 1011.3 L1271.6 1010.9 L1271.5 1010.6 L1271.4 1010.3 L1271.3 1009.9 L1271.1 1009.6 L1271 1009.2 L1270.8 1008.9 L1270.6 1008.6 L1270.4 1008.3 L1270.2 1008 L1270 1007.8 L1269.7 1007.5 L1269.5 1007.3 L1269.3 1007.1 L1269 1006.9 L1268.8 1006.8 L1268.5 1006.7 L1268.3 1006.6 L1268.1 1006.5 L1267.9 1006.5 L1267.6 1006.5 L1267.4 1006.6 L1267.2 1006.6 L1267.1 1006.7Z" fill="#fff" stroke="#000" stroke-width="1"/>
<path d="M1265.7 1016.2 C1265.7 1014.2 1264.5 1011.8 1263 1010.8 C1261.4 1009.8 1260.2 1010.6 1260.2 1012.6 C1260.2 1014.6 1261.4 1017 1263 1017.9 C1264.5 1018.9 1265.7 1018.1 1265.7 1016.2Z" fill="#fff" stroke="#000" stroke-width="1"/>
<path d="M1257.9 1011.3 L1257.7 1011.5 L1257.5 1011.7 L1257.4 1011.9 L1257.2 1012.1 L1257.1 1012.4 L1257 1012.7 L1257 1013 L1256.9 1013.4 L1256.9 1013.7 L1256.9 1014.1 L1256.9 1014.5 L1257 1014.9 L1257.1 1015.3 L1257.2 1015.7 L1257.3 1016.2 L1257.5 1016.6 L1257.6 1017 L1257.8 1017.4 L1258 1017.8 L1258.2 1018.2 L1258.5 1018.6 L1258.7 1018.9 L1259 1019.3 L1259.3 1019.6 L1259.6 1019.9 L1259.9 1020.1 L1260.1 1020.3 L1260.4 1020.5 L1260.7 1020.7 L1261 1020.8 L1261.3 1020.9 L1261.6 1021 L1261.9 1021 L1262.1 1021 L1262.4 1021 L1262.6 1020.9 L1262.8 1020.8 L1265.4 1019.1 L1265.6 1018.9 L1265.8 1018.7 L1266 1018.5 L1266.1 1018.3 L1266.2 1018 L1266.3 1017.7 L1266.4 1017.3 L1266.4 1017 L1266.4 1016.6 L1266.4 1016.2 L1266.4 1015.8 L1266.3 1015.4 L1266.2 1014.9 L1266.1 1014.5 L1266 1014.1 L1265.8 1013.7 L1265.6 1013.2 L1265.4 1012.8 L1265.2 1012.4 L1265 1012 L1264.7 1011.6 L1264.4 1011.3 L1264.1 1011 L1263.9 1010.7 L1263.6 1010.4 L1263.3 1010.2 L1263 1009.9 L1262.7 1009.8 L1262.4 1009.6 L1262.1 1009.5 L1261.8 1009.4 L1261.5 1009.4 L1261.2 1009.4 L1261 1009.5 L1260.7 1009.6 L1260.5 1009.7Z" fill="#fff" stroke="#000" stroke-width="1"/>
<path d="M1263.8 1018.3 C1263.8 1015.8 1262.3 1012.8 1260.4 1011.6 C1258.5 1010.4 1256.9 1011.4 1256.9 1013.8 C1256.9 1016.3 1258.5 1019.3 1260.4 1020.5 C1262.3 1021.7 1263.8 1020.7 1263.8 1018.3Z" fill="#fff" stroke="#000" stroke-width="1"/>
<path d="M1257.9 1013.5 L1257.8 1013.6 L1257.7 1013.8 L1257.6 1013.9 L1257.5 1014.1 L1257.4 1014.2 L1257.3 1014.4 L1257.3 1014.6 L1257.3 1014.9 L1257.2 1015.1 L1257.3 1015.3 L1257.3 1015.6 L1257.3 1015.9 L1257.4 1016.1 L1257.4 1016.4 L1257.5 1016.7 L1257.6 1017 L1257.7 1017.2 L1257.8 1017.5 L1258 1017.7 L1258.1 1018 L1258.3 1018.2 L1258.4 1018.5 L1258.6 1018.7 L1258.8 1018.9 L1259 1019.1 L1259.2 1019.2 L1259.4 1019.4 L1259.5 1019.5 L1259.7 1019.6 L1259.9 1019.7 L1260.1 1019.8 L1260.3 1019.8 L1260.5 1019.8 L1260.6 1019.8 L1260.8 1019.8 L1261 1019.7 L1261.1 1019.7 L1262.4 1018.8 L1262.5 1018.7 L1262.6 1018.6 L1262.7 1018.5 L1262.8 1018.3 L1262.9 1018.1 L1263 1017.9 L1263 1017.7 L1263 1017.5 L1263.1 1017.2 L1263 1017 L1263 1016.7 L1263 1016.4 L1262.9 1016.1 L1262.8 1015.9 L1262.7 1015.6 L1262.6 1015.3 L1262.5 1015 L1262.4 1014.7 L1262.2 1014.5 L1262.1 1014.2 L1261.9 1014 L1261.8 1013.8 L1261.6 1013.5 L1261.4 1013.4 L1261.2 1013.2 L1261 1013 L1260.8 1012.9 L1260.6 1012.8 L1260.4 1012.7 L1260.2 1012.6 L1260 1012.6 L1259.8 1012.5 L1259.7 1012.5 L1259.5 1012.6 L1259.4 1012.6 L1259.2 1012.7Z" fill="#fff" stroke="#000" stroke-width="1"/>
<path d="M1261.8 1018 C1261.8 1016.4 1260.7 1014.5 1259.5 1013.7 C1258.3 1012.9 1257.2 1013.6 1257.2 1015.2 C1257.2 1016.8 1258.3 1018.7 1259.5 1019.5 C1260.7 1020.3 1261.8 1019.6 1261.8 1018Z" fill="#fff" stroke="#000" stroke-width="1"/>
<path d="M519.4 1038.3 C519.4 1031 514.7 1028 509 1031.7 C503.3 1035.4 498.6 1044.3 498.6 1051.7 C498.6 1059 503.3 1062 509 1058.3 C514.7 1054.6 519.4 1045.7 519.4 1038.3Z M513.7 1042 C513.7 1038.7 511.6 1037.4 509 1039 C506.4 1040.7 504.3 1044.7 504.3 1048 C504.3 1051.3 506.4 1052.6 509 1051 C511.6 1049.3 513.7 1045.3 513.7 1042Z" fill="#000" fill-rule="evenodd"/>
<path d="M537 1051.4 L537 1057.4 A7.6 3.6 0 0 0 552.2 1057.4 L552.2 1051.4 A7.6 3.6 0 0 0 537 1051.4Z" fill="#fff" stroke="#000" stroke-width="1"/>
<ellipse cx="544.6" cy="1051.4" rx="7.6" ry="3.6" fill="#fff" stroke="#000" stroke-width="1"/>
<path d="M532.3 1026 L541.4 1020.2 L554 1022.3 L557.3 1030.3 L557.3 1051.4 L548.2 1057.3 L535.6 1055.2 L532.3 1047.1Z" fill="#fff" stroke="#000" stroke-width="1.1"/>
<path d="M554 1022.3L554 1043.4" fill="none" stroke="#000" stroke-width="1.1"/>
<path d="M557.3 1030.4L557.3 1051.4" fill="none" stroke="#000" stroke-width="1.1"/>
<path d="M548.2 1036.2L548.2 1057.3" fill="none" stroke="#000" stroke-width="1.1"/>
<path d="M535.6 1034.1L535.6 1055.2" fill="none" stroke="#000" stroke-width="1.1"/>
<path d="M532.3 1026L532.3 1047.1" fill="none" stroke="#000" stroke-width="1.1"/>
<path d="M554 1022.3 L557.3 1030.4 L548.2 1036.2 L535.6 1034.1 L532.3 1026 L541.4 1020.2Z" fill="#fff" stroke="#000" stroke-width="1.1"/>
<ellipse cx="544.8" cy="1028.6" rx="7" ry="4.3" fill="#fff" stroke="#000" stroke-width="1.1"/>
<ellipse cx="544.8" cy="1029.8" rx="4.8" ry="2.7" fill="#fff" stroke="#000" stroke-width="1"/>
<circle cx="544.2" cy="1068.4" r="16" fill="#fff" stroke="#000" stroke-width="1.2"/>
<path d="M553 1056 L553 1056.3 L552.9 1056.7 L552.7 1057 L552.5 1057.3 L552.2 1057.6 L551.9 1057.9 L551.5 1058.2 L551 1058.4 L550.5 1058.7 L550 1058.9 L549.4 1059.1 L548.8 1059.3 L548.1 1059.4 L547.5 1059.6 L546.8 1059.7 L546.1 1059.7 L545.3 1059.8 L544.6 1059.8 L543.9 1059.8 L543.1 1059.7 L542.4 1059.7 L541.7 1059.6 L541.1 1059.4 L540.4 1059.3 L539.8 1059.1 L539.2 1058.9 L538.7 1058.7 L538.2 1058.4 L537.7 1058.2 L537.3 1057.9 L537 1057.6 L536.7 1057.3 L536.5 1057 L536.3 1056.7 L536.2 1056.3 L536.2 1056" fill="none" stroke="#000" stroke-width="1"/>
<path d="M536.2 1056 v-5 M553 1056 v-5" fill="none" stroke="#000" stroke-width="1"/>
<path d="M531.8 1057.6 A20.8 20.8 0 0 0 532 1078.4" fill="none" stroke="#000" stroke-width="1"/>
<path d="M559.8 1062.3 L560.3 1062.6 L560.7 1063.1 L561.1 1063.6 L561.5 1064.2 L561.7 1064.9 L562 1065.6 L562.1 1066.4 L562.2 1067.2 L562.3 1068.1 L562.3 1069.1 L562.2 1070 L562.1 1071 L561.9 1072 L561.6 1073.1 L561.3 1074.1 L560.9 1075.1 L560.5 1076.1 L560.1 1077.2 L559.5 1078.1 L559 1079.1 L558.4 1080 L557.8 1080.9 L557.1 1081.7 L556.5 1082.4 L555.8 1083.1 L555.1 1083.8 L554.3 1084.3 L553.6 1084.8 L552.9 1085.2 L552.2 1085.5 L551.5 1085.7 L550.8 1085.9 L550.1 1086 L549.5 1085.9 L548.9 1085.8 L548.3 1085.6 L547.8 1085.3 L545.2 1083.7 L544.7 1083.3 L544.3 1082.9 L543.9 1082.3 L543.5 1081.7 L543.3 1081.1 L543 1080.3 L542.9 1079.5 L542.8 1078.7 L542.7 1077.8 L542.7 1076.9 L542.8 1075.9 L542.9 1074.9 L543.1 1073.9 L543.4 1072.9 L543.7 1071.8 L544.1 1070.8 L544.5 1069.8 L545 1068.8 L545.5 1067.8 L546 1066.9 L546.6 1065.9 L547.2 1065.1 L547.9 1064.3 L548.5 1063.5 L549.2 1062.8 L549.9 1062.2 L550.7 1061.6 L551.4 1061.1 L552.1 1060.7 L552.8 1060.4 L553.5 1060.2 L554.2 1060 L554.9 1060 L555.5 1060 L556.1 1060.1 L556.7 1060.3 L557.2 1060.6Z" fill="#fff" stroke="#000" stroke-width="1"/>
<path d="M562.3 1068.4 C562.3 1062.4 558.5 1059.9 553.8 1062.9 C549.1 1065.9 545.3 1073.2 545.3 1079.2 C545.3 1085.2 549.1 1087.7 553.8 1084.7 C558.5 1081.7 562.3 1074.4 562.3 1068.4Z" fill="#fff" stroke="#000" stroke-width="1"/>
<path d="M560.9 1069.2 C560.9 1064.2 557.7 1062.2 553.8 1064.7 C549.9 1067.2 546.7 1073.3 546.7 1078.4 C546.7 1083.4 549.9 1085.4 553.8 1082.9 C557.7 1080.4 560.9 1074.3 560.9 1069.2Z" fill="#fff" stroke="#000" stroke-width="1"/>
<path d="M558.6 1069.6 C558.6 1065.5 556.1 1063.9 552.9 1065.9 C549.8 1067.9 547.2 1072.9 547.2 1076.9 C547.2 1081 549.8 1082.6 552.9 1080.6 C556.1 1078.5 558.6 1073.6 558.6 1069.6Z" fill="#fff" stroke="#000" stroke-width="1"/>
<path d="M547 1071.7 L546.8 1072.3 L546.6 1072.9 L546.5 1073.5 L546.4 1074.1 L546.4 1074.7 L546.4 1075.2 L546.4 1075.8 L546.4 1076.3 L546.5 1076.7 L546.6 1077.2 L546.8 1077.6 L547 1077.9 L547.2 1078.2 L547.5 1078.5 L547.8 1078.7 L548.1 1078.9 L548.4 1079 L548.8 1079.1 L549.2 1079.1 L549.5 1079 L549.9 1078.9 L550.4 1078.8 L550.8 1078.6 L551.2 1078.4 L551.6 1078.1 L552 1077.7 L552.5 1077.3 L552.9 1076.9 L553.3 1076.5 L553.6 1076 L554 1075.4 L554.3 1074.9 L554.6 1074.3 L554.9 1073.7 L555.2 1073.2 L555.4 1072.6" fill="none" stroke="#000" stroke-width="1"/>
<path d="M545.3 1070.6 L545.1 1071.2 L544.9 1071.8 L544.8 1072.4 L544.7 1073 L544.6 1073.6 L544.6 1074.1 L544.6 1074.7 L544.7 1075.2 L544.8 1075.6 L544.9 1076.1 L545.1 1076.5 L545.3 1076.8 L545.5 1077.1 L545.8 1077.4 L546 1077.6 L546.4 1077.8 L546.7 1077.9 L547 1078 L547.4 1078 L547.8 1077.9 L548.2 1077.8 L548.6 1077.7 L549 1077.5 L549.5 1077.2 L549.9 1076.9 L550.3 1076.6 L550.7 1076.2 L551.1 1075.8 L551.5 1075.3 L551.9 1074.9 L552.3 1074.3 L552.6 1073.8 L552.9 1073.2 L553.2 1072.6 L553.4 1072 L553.7 1071.4" fill="none" stroke="#000" stroke-width="1"/>
<path d="M587 1082.1 C587 1074.8 582.3 1071.8 576.6 1075.5 C570.9 1079.2 566.2 1088.1 566.2 1095.5 C566.2 1102.8 570.9 1105.8 576.6 1102.1 C582.3 1098.4 587 1089.5 587 1082.1Z M581.3 1085.8 C581.3 1082.5 579.2 1081.2 576.6 1082.8 C574 1084.5 571.9 1088.5 571.9 1091.8 C571.9 1095.1 574 1096.4 576.6 1094.8 C579.2 1093.1 581.3 1089.1 581.3 1085.8Z" fill="#000" fill-rule="evenodd"/>
<path d="M610.9 1102.9 L611.2 1103.2 L611.4 1103.4 L611.7 1103.7 L611.9 1104.1 L612 1104.5 L612.2 1104.9 L612.3 1105.4 L612.3 1105.9 L612.3 1106.4 L612.3 1107 L612.3 1107.5 L612.2 1108.1 L612.1 1108.7 L611.9 1109.3 L611.8 1109.9 L611.5 1110.6 L611.3 1111.2 L611 1111.8 L610.7 1112.3 L610.4 1112.9 L610 1113.4 L609.7 1113.9 L609.3 1114.4 L608.9 1114.9 L608.5 1115.3 L608.1 1115.7 L607.6 1116 L607.2 1116.3 L606.8 1116.5 L606.4 1116.7 L606 1116.8 L605.6 1116.9 L605.2 1117 L604.8 1117 L604.4 1116.9 L604.1 1116.8 L603.8 1116.6 L591.6 1108.8 L591.4 1108.6 L591.1 1108.3 L590.9 1108 L590.7 1107.7 L590.5 1107.3 L590.4 1106.9 L590.3 1106.4 L590.2 1105.9 L590.2 1105.4 L590.2 1104.8 L590.2 1104.2 L590.3 1103.6 L590.4 1103 L590.6 1102.4 L590.8 1101.8 L591 1101.2 L591.2 1100.6 L591.5 1100 L591.8 1099.4 L592.1 1098.9 L592.5 1098.3 L592.8 1097.8 L593.2 1097.3 L593.6 1096.9 L594 1096.5 L594.5 1096.1 L594.9 1095.8 L595.3 1095.5 L595.7 1095.3 L596.2 1095.1 L596.6 1094.9 L597 1094.8 L597.4 1094.8 L597.7 1094.8 L598.1 1094.9 L598.4 1095 L598.8 1095.2Z" fill="#fff" stroke="#000" stroke-width="1.1"/>
<path d="M616.2 1108.2 L616.4 1108.4 L616.6 1108.6 L616.8 1108.9 L617 1109.2 L617.1 1109.5 L617.2 1109.8 L617.3 1110.2 L617.3 1110.6 L617.4 1111 L617.4 1111.4 L617.3 1111.9 L617.3 1112.4 L617.2 1112.8 L617 1113.3 L616.9 1113.8 L616.7 1114.3 L616.5 1114.8 L616.3 1115.2 L616.1 1115.7 L615.8 1116.1 L615.5 1116.6 L615.3 1117 L614.9 1117.3 L614.6 1117.7 L614.3 1118 L614 1118.3 L613.6 1118.6 L613.3 1118.8 L613 1119 L612.6 1119.2 L612.3 1119.3 L612 1119.3 L611.7 1119.4 L611.4 1119.4 L611.1 1119.3 L610.8 1119.2 L610.6 1119.1 L604.5 1115.2 L604.3 1115 L604.1 1114.8 L603.9 1114.6 L603.7 1114.3 L603.6 1114 L603.5 1113.6 L603.4 1113.2 L603.4 1112.8 L603.3 1112.4 L603.3 1112 L603.4 1111.5 L603.4 1111.1 L603.5 1110.6 L603.7 1110.1 L603.8 1109.6 L604 1109.1 L604.2 1108.7 L604.4 1108.2 L604.6 1107.7 L604.9 1107.3 L605.2 1106.9 L605.5 1106.5 L605.8 1106.1 L606.1 1105.7 L606.4 1105.4 L606.7 1105.1 L607.1 1104.8 L607.4 1104.6 L607.7 1104.4 L608.1 1104.3 L608.4 1104.2 L608.7 1104.1 L609 1104.1 L609.3 1104.1 L609.6 1104.1 L609.9 1104.2 L610.1 1104.4Z" fill="#fff" stroke="#000" stroke-width="1"/>
<path d="M617.4 1111.1 C617.4 1108.3 615.6 1107.1 613.4 1108.5 C611.2 1110 609.4 1113.4 609.4 1116.2 C609.4 1119 611.2 1120.2 613.4 1118.8 C615.6 1117.4 617.4 1113.9 617.4 1111.1Z" fill="#fff" stroke="#000" stroke-width="1"/>
<path d="M612.3 1106.6 C612.3 1103 610.1 1101.6 607.3 1103.3 C604.5 1105.1 602.3 1109.4 602.3 1113 C602.3 1116.5 604.5 1118 607.3 1116.2 C610.1 1114.4 612.3 1110.1 612.3 1106.6Z" fill="none" stroke="#000" stroke-width="1"/>
<path d="M620.5 1106.6 L620.9 1106.9 L621.2 1107.2 L621.5 1107.6 L621.8 1108.1 L622 1108.6 L622.1 1109.1 L622.3 1109.7 L622.4 1110.4 L622.4 1111 L622.4 1111.7 L622.3 1112.5 L622.2 1113.2 L622.1 1114 L621.9 1114.8 L621.6 1115.5 L621.4 1116.3 L621.1 1117.1 L620.7 1117.9 L620.3 1118.6 L619.9 1119.3 L619.5 1120 L619 1120.6 L618.5 1121.3 L618 1121.8 L617.5 1122.4 L616.9 1122.8 L616.4 1123.3 L615.8 1123.6 L615.3 1123.9 L614.8 1124.2 L614.2 1124.3 L613.7 1124.5 L613.2 1124.5 L612.7 1124.5 L612.3 1124.4 L611.9 1124.2 L611.5 1124 L608.9 1122.4 L608.5 1122.1 L608.2 1121.8 L607.9 1121.4 L607.6 1120.9 L607.4 1120.4 L607.2 1119.8 L607.1 1119.2 L607 1118.6 L607 1117.9 L607 1117.2 L607 1116.5 L607.2 1115.7 L607.3 1115 L607.5 1114.2 L607.7 1113.4 L608 1112.7 L608.3 1111.9 L608.7 1111.1 L609.1 1110.4 L609.5 1109.7 L609.9 1109 L610.4 1108.3 L610.9 1107.7 L611.4 1107.1 L611.9 1106.6 L612.4 1106.1 L613 1105.7 L613.5 1105.4 L614.1 1105.1 L614.6 1104.8 L615.1 1104.6 L615.6 1104.5 L616.1 1104.5 L616.6 1104.5 L617.1 1104.6 L617.5 1104.7 L617.9 1104.9Z" fill="#fff" stroke="#000" stroke-width="1"/>
<path d="M622.4 1111.2 C622.4 1106.7 619.5 1104.8 616 1107.1 C612.4 1109.4 609.6 1114.9 609.6 1119.4 C609.6 1124 612.4 1125.8 616 1123.5 C619.5 1121.3 622.4 1115.7 622.4 1111.2Z" fill="#fff" stroke="#000" stroke-width="1"/>
<path d="M623.7 1106.1 L624.1 1106.4 L624.5 1106.9 L624.9 1107.3 L625.2 1107.9 L625.4 1108.5 L625.6 1109.2 L625.8 1109.9 L625.9 1110.7 L625.9 1111.5 L625.9 1112.4 L625.9 1113.2 L625.7 1114.2 L625.6 1115.1 L625.3 1116 L625 1117 L624.7 1117.9 L624.3 1118.9 L623.9 1119.8 L623.4 1120.7 L622.9 1121.6 L622.4 1122.4 L621.8 1123.2 L621.2 1123.9 L620.6 1124.6 L620 1125.3 L619.3 1125.8 L618.6 1126.4 L618 1126.8 L617.3 1127.2 L616.7 1127.5 L616 1127.7 L615.4 1127.8 L614.8 1127.9 L614.2 1127.9 L613.6 1127.7 L613.1 1127.6 L612.6 1127.3 L610.5 1125.9 L610 1125.6 L609.6 1125.2 L609.3 1124.7 L609 1124.1 L608.7 1123.5 L608.5 1122.8 L608.3 1122.1 L608.2 1121.3 L608.2 1120.5 L608.2 1119.7 L608.3 1118.8 L608.4 1117.9 L608.6 1116.9 L608.8 1116 L609.1 1115 L609.4 1114.1 L609.8 1113.2 L610.2 1112.2 L610.7 1111.3 L611.2 1110.5 L611.8 1109.6 L612.3 1108.8 L612.9 1108.1 L613.5 1107.4 L614.2 1106.8 L614.8 1106.2 L615.5 1105.7 L616.1 1105.2 L616.8 1104.9 L617.5 1104.6 L618.1 1104.3 L618.7 1104.2 L619.3 1104.2 L619.9 1104.2 L620.5 1104.3 L621 1104.5 L621.5 1104.7Z" fill="#fff" stroke="#000" stroke-width="1"/>
<path d="M625.9 1111.7 C625.9 1106.2 622.5 1104 618.1 1106.7 C613.8 1109.5 610.4 1116.2 610.4 1121.7 C610.4 1127.2 613.8 1129.5 618.1 1126.7 C622.5 1123.9 625.9 1117.2 625.9 1111.7Z" fill="#fff" stroke="#000" stroke-width="1"/>
<path d="M610.2 1115.9 L618.1 1104.9 L626.1 1105.7 L638.7 1113.8 L638.7 1125.6 L630.7 1136.5 L622.8 1135.8 L610.2 1127.7Z" fill="#fff" stroke="#000" stroke-width="1.1"/>
<path d="M638.7 1113.8L626.1 1105.7" fill="none" stroke="#000" stroke-width="1.1"/>
<path d="M630.7 1113L618.1 1104.9" fill="none" stroke="#000" stroke-width="1.1"/>
<path d="M622.8 1124L610.2 1115.9" fill="none" stroke="#000" stroke-width="1.1"/>
<path d="M622.8 1135.7L610.2 1127.7" fill="none" stroke="#000" stroke-width="1.1"/>
<path d="M638.7 1113.8 L630.7 1113 L622.8 1124 L622.8 1135.7 L630.7 1136.5 L638.7 1125.6Z" fill="#fff" stroke="#000" stroke-width="1.1"/>
<path d="M1159.4 862.9 L1167.2 852.1 L1175 852.9 L1182.8 857.9 L1182.8 869.4 L1175 880.2 L1167.2 879.4 L1159.4 874.4Z" fill="#fff" stroke="#000" stroke-width="1.1"/>
<path d="M1182.8 857.8L1175 852.9" fill="none" stroke="#000" stroke-width="1.1"/>
<path d="M1175 857.1L1167.2 852.1" fill="none" stroke="#000" stroke-width="1.1"/>
<path d="M1167.2 867.8L1159.4 862.9" fill="none" stroke="#000" stroke-width="1.1"/>
<path d="M1167.2 879.4L1159.4 874.4" fill="none" stroke="#000" stroke-width="1.1"/>
<path d="M1182.8 857.8 L1175 857.1 L1167.2 867.8 L1167.2 879.4 L1175 880.2 L1182.8 869.4Z" fill="#fff" stroke="#000" stroke-width="1.1"/>
<path d="M1182.4 859.9 L1182.8 860.2 L1183.2 860.6 L1183.6 861.1 L1183.8 861.6 L1184.1 862.2 L1184.3 862.8 L1184.4 863.5 L1184.5 864.3 L1184.6 865 L1184.6 865.9 L1184.5 866.7 L1184.4 867.6 L1184.2 868.5 L1184 869.4 L1183.7 870.3 L1183.4 871.2 L1183 872.1 L1182.6 872.9 L1182.2 873.8 L1181.7 874.6 L1181.2 875.4 L1180.6 876.2 L1180.1 876.9 L1179.5 877.6 L1178.9 878.2 L1178.2 878.7 L1177.6 879.2 L1177 879.7 L1176.3 880 L1175.7 880.3 L1175.1 880.5 L1174.5 880.6 L1173.9 880.7 L1173.4 880.7 L1172.8 880.6 L1172.3 880.4 L1171.9 880.1 L1169.7 878.7 L1169.3 878.4 L1168.9 878 L1168.5 877.6 L1168.2 877 L1168 876.5 L1167.8 875.8 L1167.7 875.1 L1167.6 874.4 L1167.5 873.6 L1167.5 872.8 L1167.6 871.9 L1167.7 871.1 L1167.9 870.2 L1168.1 869.3 L1168.4 868.4 L1168.7 867.5 L1169.1 866.6 L1169.5 865.7 L1169.9 864.8 L1170.4 864 L1170.9 863.2 L1171.5 862.4 L1172 861.7 L1172.6 861 L1173.2 860.4 L1173.9 859.9 L1174.5 859.4 L1175.1 859 L1175.8 858.6 L1176.4 858.3 L1177 858.1 L1177.6 858 L1178.2 857.9 L1178.7 858 L1179.3 858.1 L1179.8 858.2 L1180.2 858.5Z" fill="#fff" stroke="#000" stroke-width="1"/>
<path d="M1184.6 865.2 C1184.6 860 1181.2 857.8 1177.1 860.5 C1173 863.1 1169.7 869.5 1169.7 874.8 C1169.7 880.1 1173 882.2 1177.1 879.6 C1181.2 876.9 1184.6 870.5 1184.6 865.2Z" fill="#fff" stroke="#000" stroke-width="1"/>
<path d="M1183.6 863.2 L1183.9 863.4 L1184.2 863.7 L1184.5 864.1 L1184.8 864.5 L1185 865 L1185.1 865.5 L1185.2 866.1 L1185.3 866.7 L1185.4 867.3 L1185.3 868 L1185.3 868.7 L1185.2 869.4 L1185.1 870.1 L1184.9 870.9 L1184.6 871.6 L1184.4 872.3 L1184.1 873.1 L1183.8 873.8 L1183.4 874.5 L1183 875.2 L1182.6 875.8 L1182.1 876.4 L1181.7 877 L1181.2 877.6 L1180.7 878.1 L1180.2 878.5 L1179.7 878.9 L1179.2 879.2 L1178.7 879.5 L1178.1 879.8 L1177.6 879.9 L1177.2 880 L1176.7 880.1 L1176.2 880.1 L1175.8 880 L1175.4 879.8 L1175 879.6 L1172.8 878.2 L1172.5 878 L1172.2 877.7 L1171.9 877.3 L1171.7 876.9 L1171.5 876.4 L1171.3 875.9 L1171.2 875.3 L1171.1 874.7 L1171.1 874.1 L1171.1 873.4 L1171.1 872.7 L1171.2 872 L1171.4 871.3 L1171.6 870.5 L1171.8 869.8 L1172 869.1 L1172.3 868.3 L1172.7 867.6 L1173 866.9 L1173.4 866.2 L1173.8 865.6 L1174.3 865 L1174.7 864.4 L1175.2 863.8 L1175.7 863.3 L1176.2 862.9 L1176.7 862.5 L1177.3 862.2 L1177.8 861.9 L1178.3 861.6 L1178.8 861.5 L1179.3 861.4 L1179.7 861.3 L1180.2 861.3 L1180.6 861.4 L1181 861.6 L1181.4 861.8Z" fill="#fff" stroke="#000" stroke-width="1"/>
<path d="M1185.4 867.5 C1185.4 863.2 1182.6 861.5 1179.3 863.6 C1175.9 865.8 1173.2 871 1173.2 875.3 C1173.2 879.6 1175.9 881.3 1179.3 879.2 C1182.6 877 1185.4 871.8 1185.4 867.5Z" fill="#fff" stroke="#000" stroke-width="1"/>
<path d="M1188.1 870.1 L1188.3 870.3 L1188.5 870.5 L1188.6 870.7 L1188.8 871 L1188.9 871.3 L1189 871.6 L1189.1 872 L1189.1 872.3 L1189.2 872.7 L1189.2 873.2 L1189.1 873.6 L1189.1 874 L1189 874.5 L1188.9 875 L1188.7 875.4 L1188.6 875.9 L1188.4 876.3 L1188.2 876.8 L1187.9 877.2 L1187.7 877.7 L1187.4 878.1 L1187.1 878.4 L1186.9 878.8 L1186.5 879.2 L1186.2 879.5 L1185.9 879.7 L1185.6 880 L1185.3 880.2 L1185 880.4 L1184.6 880.5 L1184.3 880.6 L1184 880.7 L1183.7 880.7 L1183.4 880.7 L1183.2 880.7 L1182.9 880.6 L1182.7 880.5 L1176.6 876.6 L1176.4 876.4 L1176.2 876.2 L1176 876 L1175.9 875.7 L1175.7 875.4 L1175.6 875.1 L1175.6 874.7 L1175.5 874.3 L1175.5 873.9 L1175.5 873.5 L1175.5 873.1 L1175.6 872.6 L1175.7 872.2 L1175.8 871.7 L1175.9 871.3 L1176.1 870.8 L1176.3 870.3 L1176.5 869.9 L1176.7 869.4 L1177 869 L1177.2 868.6 L1177.5 868.2 L1177.8 867.9 L1178.1 867.5 L1178.4 867.2 L1178.7 866.9 L1179.1 866.7 L1179.4 866.5 L1179.7 866.3 L1180 866.1 L1180.3 866 L1180.6 866 L1180.9 865.9 L1181.2 865.9 L1181.5 866 L1181.8 866.1 L1182 866.2Z" fill="#fff" stroke="#000" stroke-width="1"/>
<path d="M1189.2 872.8 C1189.2 870.1 1187.5 869 1185.4 870.4 C1183.3 871.7 1181.5 875 1181.5 877.7 C1181.5 880.4 1183.3 881.5 1185.4 880.2 C1187.5 878.8 1189.2 875.5 1189.2 872.8Z" fill="#fff" stroke="#000" stroke-width="1"/>
<path d="M1190.8 869.3 L1191.1 869.6 L1191.3 869.8 L1191.6 870.1 L1191.8 870.5 L1191.9 870.9 L1192.1 871.4 L1192.2 871.9 L1192.3 872.4 L1192.3 872.9 L1192.3 873.5 L1192.2 874.1 L1192.1 874.7 L1192 875.3 L1191.9 875.9 L1191.7 876.6 L1191.5 877.2 L1191.2 877.8 L1190.9 878.4 L1190.6 879 L1190.3 879.6 L1189.9 880.2 L1189.5 880.7 L1189.1 881.2 L1188.7 881.7 L1188.3 882.1 L1187.9 882.5 L1187.4 882.8 L1187 883.1 L1186.5 883.4 L1186.1 883.6 L1185.7 883.7 L1185.3 883.8 L1184.8 883.8 L1184.5 883.8 L1184.1 883.8 L1183.7 883.6 L1183.4 883.5 L1181.7 882.3 L1181.4 882.1 L1181.1 881.8 L1180.9 881.5 L1180.7 881.2 L1180.5 880.7 L1180.4 880.3 L1180.3 879.8 L1180.2 879.3 L1180.2 878.8 L1180.2 878.2 L1180.2 877.6 L1180.3 877 L1180.4 876.4 L1180.6 875.7 L1180.8 875.1 L1181 874.5 L1181.2 873.8 L1181.5 873.2 L1181.8 872.6 L1182.2 872 L1182.5 871.5 L1182.9 871 L1183.3 870.5 L1183.7 870 L1184.2 869.6 L1184.6 869.2 L1185 868.8 L1185.5 868.6 L1185.9 868.3 L1186.3 868.1 L1186.8 868 L1187.2 867.9 L1187.6 867.8 L1188 867.9 L1188.4 867.9 L1188.7 868 L1189 868.2Z" fill="#fff" stroke="#000" stroke-width="1"/>
<path d="M1192.3 873.1 C1192.3 869.4 1190 867.9 1187.1 869.7 C1184.2 871.6 1181.9 876 1181.9 879.7 C1181.9 883.4 1184.2 884.9 1187.1 883 C1190 881.2 1192.3 876.7 1192.3 873.1Z" fill="#fff" stroke="#000" stroke-width="1"/>
<path d="M1206.7 880 L1207 880.2 L1207.3 880.4 L1207.5 880.8 L1207.7 881.1 L1207.9 881.5 L1208 882 L1208.1 882.4 L1208.2 883 L1208.2 883.5 L1208.2 884 L1208.2 884.6 L1208.1 885.2 L1208 885.8 L1207.8 886.5 L1207.6 887.1 L1207.4 887.7 L1207.1 888.3 L1206.9 888.9 L1206.6 889.5 L1206.2 890.1 L1205.9 890.6 L1205.5 891.1 L1205.1 891.6 L1204.7 892.1 L1204.3 892.5 L1203.9 892.9 L1203.4 893.2 L1203 893.5 L1202.6 893.8 L1202.1 894 L1201.7 894.1 L1201.3 894.2 L1200.9 894.2 L1200.5 894.2 L1200.1 894.1 L1199.8 894 L1199.5 893.8 L1183.5 883.6 L1183.2 883.4 L1182.9 883.1 L1182.7 882.8 L1182.5 882.4 L1182.3 882 L1182.2 881.6 L1182.1 881.1 L1182 880.6 L1182 880.1 L1182 879.5 L1182 878.9 L1182.1 878.3 L1182.2 877.7 L1182.4 877.1 L1182.6 876.5 L1182.8 875.8 L1183 875.2 L1183.3 874.6 L1183.6 874 L1184 873.5 L1184.3 872.9 L1184.7 872.4 L1185.1 871.9 L1185.5 871.4 L1185.9 871 L1186.3 870.6 L1186.8 870.3 L1187.2 870 L1187.6 869.8 L1188.1 869.6 L1188.5 869.4 L1188.9 869.4 L1189.3 869.3 L1189.7 869.3 L1190 869.4 L1190.4 869.5 L1190.7 869.7Z" fill="#fff" stroke="#000" stroke-width="1.1"/>
<path d="M1208.2 883.6 C1208.2 880 1205.9 878.5 1203.1 880.4 C1200.3 882.2 1198 886.6 1198 890.2 C1198 893.8 1200.3 895.3 1203.1 893.4 C1205.9 891.6 1208.2 887.2 1208.2 883.6Z" fill="#fff" stroke="#000" stroke-width="1.1"/>
<path d="M1206.2 884.9 C1206.2 882.7 1204.8 881.8 1203.1 882.9 C1201.4 884 1200 886.7 1200 888.9 C1200 891.1 1201.4 892 1203.1 890.9 C1204.8 889.8 1206.2 887.1 1206.2 884.9Z" fill="#fff" stroke="#000" stroke-width="1"/>
<path d="M1204.3 885.5 C1204.3 884.2 1203.5 883.7 1202.6 884.3 C1201.6 885 1200.8 886.5 1200.8 887.7 C1200.8 888.9 1201.6 889.4 1202.6 888.8 C1203.5 888.2 1204.3 886.7 1204.3 885.5Z" fill="#fff" stroke="#000" stroke-width="0.9"/>
<path d="M1233.3 894.2 C1233.3 886.9 1228.6 883.9 1222.9 887.6 C1217.2 891.3 1212.5 900.2 1212.5 907.6 C1212.5 914.9 1217.2 917.9 1222.9 914.2 C1228.6 910.5 1233.3 901.6 1233.3 894.2Z M1227.6 897.9 C1227.6 894.6 1225.5 893.3 1222.9 894.9 C1220.3 896.6 1218.2 900.6 1218.2 903.9 C1218.2 907.2 1220.3 908.5 1222.9 906.9 C1225.5 905.2 1227.6 901.2 1227.6 897.9Z" fill="#000" fill-rule="evenodd"/>
<path d="M1248.7 906.6 L1248.7 912.6 A7.6 3.6 0 0 0 1263.9 912.6 L1263.9 906.6 A7.6 3.6 0 0 0 1248.7 906.6Z" fill="#fff" stroke="#000" stroke-width="1"/>
<ellipse cx="1256.3" cy="906.6" rx="7.6" ry="3.6" fill="#fff" stroke="#000" stroke-width="1"/>
<path d="M1244 881.2 L1253.1 875.4 L1265.7 877.5 L1269 885.5 L1269 906.6 L1259.9 912.5 L1247.3 910.4 L1244 902.3Z" fill="#fff" stroke="#000" stroke-width="1.1"/>
<path d="M1265.7 877.5L1265.7 898.6" fill="none" stroke="#000" stroke-width="1.1"/>
<path d="M1269 885.6L1269 906.6" fill="none" stroke="#000" stroke-width="1.1"/>
<path d="M1259.9 891.4L1259.9 912.5" fill="none" stroke="#000" stroke-width="1.1"/>
<path d="M1247.3 889.3L1247.3 910.4" fill="none" stroke="#000" stroke-width="1.1"/>
<path d="M1244 881.2L1244 902.3" fill="none" stroke="#000" stroke-width="1.1"/>
<path d="M1265.7 877.5 L1269 885.6 L1259.9 891.4 L1247.3 889.3 L1244 881.2 L1253.1 875.4Z" fill="#fff" stroke="#000" stroke-width="1.1"/>
<ellipse cx="1256.5" cy="883.8" rx="7" ry="4.3" fill="#fff" stroke="#000" stroke-width="1.1"/>
<ellipse cx="1256.5" cy="885" rx="4.8" ry="2.7" fill="#fff" stroke="#000" stroke-width="1"/>
<circle cx="1255.9" cy="923.6" r="15.6" fill="#fff" stroke="#000" stroke-width="1.2"/>
<path d="M1264.7 911.2 L1264.7 911.5 L1264.6 911.9 L1264.4 912.2 L1264.2 912.5 L1263.9 912.8 L1263.6 913.1 L1263.2 913.4 L1262.7 913.6 L1262.2 913.9 L1261.7 914.1 L1261.1 914.3 L1260.5 914.5 L1259.8 914.6 L1259.2 914.8 L1258.5 914.9 L1257.8 914.9 L1257 915 L1256.3 915 L1255.6 915 L1254.8 914.9 L1254.1 914.9 L1253.4 914.8 L1252.8 914.6 L1252.1 914.5 L1251.5 914.3 L1250.9 914.1 L1250.4 913.9 L1249.9 913.6 L1249.4 913.4 L1249 913.1 L1248.7 912.8 L1248.4 912.5 L1248.2 912.2 L1248 911.9 L1247.9 911.5 L1247.9 911.2" fill="none" stroke="#000" stroke-width="1"/>
<path d="M1247.9 911.2 v-5 M1264.7 911.2 v-5" fill="none" stroke="#000" stroke-width="1"/>
<path d="M1243.5 912.8 A20.3 20.3 0 0 0 1243.7 933.6" fill="none" stroke="#000" stroke-width="1"/>
<path d="M1271.5 917.5 L1272 917.8 L1272.4 918.3 L1272.8 918.8 L1273.2 919.4 L1273.4 920.1 L1273.7 920.8 L1273.8 921.6 L1273.9 922.4 L1274 923.3 L1274 924.3 L1273.9 925.2 L1273.8 926.2 L1273.6 927.2 L1273.3 928.3 L1273 929.3 L1272.6 930.3 L1272.2 931.3 L1271.8 932.4 L1271.2 933.3 L1270.7 934.3 L1270.1 935.2 L1269.5 936.1 L1268.8 936.9 L1268.2 937.6 L1267.5 938.3 L1266.8 939 L1266 939.5 L1265.3 940 L1264.6 940.4 L1263.9 940.7 L1263.2 940.9 L1262.5 941.1 L1261.8 941.2 L1261.2 941.1 L1260.6 941 L1260 940.8 L1259.5 940.5 L1256.9 938.9 L1256.4 938.5 L1256 938.1 L1255.6 937.5 L1255.2 936.9 L1255 936.3 L1254.7 935.5 L1254.6 934.7 L1254.5 933.9 L1254.4 933 L1254.4 932.1 L1254.5 931.1 L1254.6 930.1 L1254.8 929.1 L1255.1 928.1 L1255.4 927 L1255.8 926 L1256.2 925 L1256.7 924 L1257.2 923 L1257.7 922.1 L1258.3 921.1 L1258.9 920.3 L1259.6 919.5 L1260.2 918.7 L1260.9 918 L1261.6 917.4 L1262.4 916.8 L1263.1 916.3 L1263.8 915.9 L1264.5 915.6 L1265.2 915.4 L1265.9 915.2 L1266.6 915.2 L1267.2 915.2 L1267.8 915.3 L1268.4 915.5 L1268.9 915.8Z" fill="#fff" stroke="#000" stroke-width="1"/>
<path d="M1274 923.6 C1274 917.6 1270.2 915.1 1265.5 918.1 C1260.8 921.1 1257 928.4 1257 934.4 C1257 940.4 1260.8 942.9 1265.5 939.9 C1270.2 936.9 1274 929.6 1274 923.6Z" fill="#fff" stroke="#000" stroke-width="1"/>
<path d="M1272.6 924.4 C1272.6 919.4 1269.4 917.4 1265.5 919.9 C1261.6 922.4 1258.4 928.5 1258.4 933.6 C1258.4 938.6 1261.6 940.6 1265.5 938.1 C1269.4 935.6 1272.6 929.5 1272.6 924.4Z" fill="#fff" stroke="#000" stroke-width="1"/>
<path d="M1270.3 924.8 C1270.3 920.7 1267.8 919.1 1264.6 921.1 C1261.5 923.1 1258.9 928.1 1258.9 932.1 C1258.9 936.2 1261.5 937.8 1264.6 935.8 C1267.8 933.7 1270.3 928.8 1270.3 924.8Z" fill="#fff" stroke="#000" stroke-width="1"/>
<path d="M1258.7 926.9 L1258.5 927.5 L1258.3 928.1 L1258.2 928.7 L1258.1 929.3 L1258.1 929.9 L1258.1 930.4 L1258.1 931 L1258.1 931.5 L1258.2 931.9 L1258.3 932.4 L1258.5 932.8 L1258.7 933.1 L1258.9 933.4 L1259.2 933.7 L1259.5 933.9 L1259.8 934.1 L1260.1 934.2 L1260.5 934.3 L1260.9 934.3 L1261.2 934.2 L1261.6 934.1 L1262.1 934 L1262.5 933.8 L1262.9 933.6 L1263.3 933.3 L1263.7 932.9 L1264.2 932.5 L1264.6 932.1 L1265 931.7 L1265.3 931.2 L1265.7 930.6 L1266 930.1 L1266.3 929.5 L1266.6 928.9 L1266.9 928.4 L1267.1 927.8" fill="none" stroke="#000" stroke-width="1"/>
<path d="M1257 925.8 L1256.8 926.4 L1256.6 927 L1256.5 927.6 L1256.4 928.2 L1256.3 928.8 L1256.3 929.3 L1256.3 929.9 L1256.4 930.4 L1256.5 930.8 L1256.6 931.3 L1256.8 931.7 L1257 932 L1257.2 932.3 L1257.5 932.6 L1257.7 932.8 L1258.1 933 L1258.4 933.1 L1258.7 933.2 L1259.1 933.2 L1259.5 933.1 L1259.9 933 L1260.3 932.9 L1260.7 932.7 L1261.2 932.4 L1261.6 932.1 L1262 931.8 L1262.4 931.4 L1262.8 931 L1263.2 930.5 L1263.6 930.1 L1264 929.5 L1264.3 929 L1264.6 928.4 L1264.9 927.8 L1265.1 927.2 L1265.4 926.6" fill="none" stroke="#000" stroke-width="1"/>
<path d="M1298.6 936 C1298.6 928.7 1293.9 925.7 1288.2 929.4 C1282.5 933.1 1277.8 942 1277.8 949.4 C1277.8 956.7 1282.5 959.7 1288.2 956 C1293.9 952.3 1298.6 943.4 1298.6 936Z M1292.9 939.7 C1292.9 936.4 1290.8 935.1 1288.2 936.7 C1285.6 938.4 1283.5 942.4 1283.5 945.7 C1283.5 949 1285.6 950.3 1288.2 948.7 C1290.8 947 1292.9 943 1292.9 939.7Z" fill="#000" fill-rule="evenodd"/>
<path d="M683.3 1010 L683.3 1031.6 L833.3 1130.2 L842 1130.2 L978.3 1036.6 L978.3 1020 L830 919.4 L818.5 921.6Z" fill="#fff" stroke="#000" stroke-width="1.3"/>
<path d="M683.3 1010 L818.5 921.6 L830 919.4 L978.3 1020 L842 1115 L833.3 1115Z" fill="#fff" stroke="#000" stroke-width="1.3"/>
<path d="M833.3 1115L833.3 1130.2" fill="none" stroke="#000" stroke-width="1.1"/>
<path d="M842 1115L842 1130.2" fill="none" stroke="#000" stroke-width="1.1"/>
<ellipse cx="825" cy="935" rx="10" ry="6.6" fill="#fff" stroke="#000" stroke-width="1.2"/>
<path d="M816.4 936.9 L816.5 936.5 L816.7 936.1 L816.9 935.6 L817.2 935.2 L817.6 934.8 L818 934.4 L818.4 934.1 L818.9 933.7 L819.5 933.4 L820.1 933.1 L820.7 932.9 L821.4 932.7 L822.1 932.5 L822.8 932.4 L823.5 932.3 L824.3 932.2 L825 932.2 L825.7 932.2 L826.5 932.3 L827.2 932.4 L827.9 932.5 L828.6 932.7 L829.3 932.9 L829.9 933.1 L830.5 933.4 L831.1 933.7 L831.6 934.1 L832 934.4 L832.4 934.8 L832.8 935.2 L833.1 935.6 L833.3 936.1 L833.5 936.5 L833.6 936.9" fill="none" stroke="#000" stroke-width="1.1"/>
<path d="M834 937.7 L833.7 938.1 L833.3 938.6 L832.9 939 L832.4 939.5 L831.8 939.8 L831.2 940.2 L830.5 940.5 L829.8 940.8 L829.1 941 L828.3 941.2 L827.5 941.4 L826.7 941.5 L825.8 941.6 L825 941.6 L824.2 941.6 L823.3 941.5 L822.5 941.4 L821.7 941.2 L820.9 941 L820.2 940.8 L819.5 940.5 L818.8 940.2 L818.2 939.8 L817.6 939.5 L817.1 939 L816.7 938.6 L816.3 938.1 L816 937.7" fill="none" stroke="#000" stroke-width="0.9"/>
<ellipse cx="707.3" cy="1012.3" rx="10" ry="6.6" fill="#fff" stroke="#000" stroke-width="1.2"/>
<path d="M698.7 1014.2 L698.8 1013.8 L699 1013.4 L699.2 1012.9 L699.5 1012.5 L699.9 1012.1 L700.3 1011.7 L700.7 1011.4 L701.2 1011 L701.8 1010.7 L702.4 1010.4 L703 1010.2 L703.7 1010 L704.4 1009.8 L705.1 1009.7 L705.8 1009.6 L706.6 1009.5 L707.3 1009.5 L708 1009.5 L708.8 1009.6 L709.5 1009.7 L710.2 1009.8 L710.9 1010 L711.6 1010.2 L712.2 1010.4 L712.8 1010.7 L713.4 1011 L713.9 1011.4 L714.3 1011.7 L714.7 1012.1 L715.1 1012.5 L715.4 1012.9 L715.6 1013.4 L715.8 1013.8 L715.9 1014.2" fill="none" stroke="#000" stroke-width="1.1"/>
<path d="M716.3 1015 L716 1015.4 L715.6 1015.9 L715.2 1016.3 L714.7 1016.8 L714.1 1017.1 L713.5 1017.5 L712.8 1017.8 L712.1 1018.1 L711.4 1018.3 L710.6 1018.5 L709.8 1018.7 L709 1018.8 L708.1 1018.9 L707.3 1018.9 L706.5 1018.9 L705.6 1018.8 L704.8 1018.7 L704 1018.5 L703.2 1018.3 L702.5 1018.1 L701.8 1017.8 L701.1 1017.5 L700.5 1017.1 L699.9 1016.8 L699.4 1016.3 L699 1015.9 L698.6 1015.4 L698.3 1015" fill="none" stroke="#000" stroke-width="0.9"/>
<ellipse cx="954" cy="1020" rx="10" ry="6.6" fill="#fff" stroke="#000" stroke-width="1.2"/>
<path d="M945.4 1021.9 L945.5 1021.5 L945.7 1021.1 L945.9 1020.6 L946.2 1020.2 L946.6 1019.8 L947 1019.4 L947.4 1019.1 L947.9 1018.7 L948.5 1018.4 L949.1 1018.1 L949.7 1017.9 L950.4 1017.7 L951.1 1017.5 L951.8 1017.4 L952.5 1017.3 L953.3 1017.2 L954 1017.2 L954.7 1017.2 L955.5 1017.3 L956.2 1017.4 L956.9 1017.5 L957.6 1017.7 L958.3 1017.9 L958.9 1018.1 L959.5 1018.4 L960.1 1018.7 L960.6 1019.1 L961 1019.4 L961.4 1019.8 L961.8 1020.2 L962.1 1020.6 L962.3 1021.1 L962.5 1021.5 L962.6 1021.9" fill="none" stroke="#000" stroke-width="1.1"/>
<path d="M963 1022.7 L962.7 1023.1 L962.3 1023.6 L961.9 1024 L961.4 1024.5 L960.8 1024.8 L960.2 1025.2 L959.5 1025.5 L958.8 1025.8 L958.1 1026 L957.3 1026.2 L956.5 1026.4 L955.7 1026.5 L954.8 1026.6 L954 1026.6 L953.2 1026.6 L952.3 1026.5 L951.5 1026.4 L950.7 1026.2 L949.9 1026 L949.2 1025.8 L948.5 1025.5 L947.8 1025.2 L947.2 1024.8 L946.6 1024.5 L946.1 1024 L945.7 1023.6 L945.3 1023.1 L945 1022.7" fill="none" stroke="#000" stroke-width="0.9"/>
<ellipse cx="836.7" cy="1098.3" rx="10" ry="6.6" fill="#fff" stroke="#000" stroke-width="1.2"/>
<path d="M828.1 1100.2 L828.2 1099.8 L828.4 1099.4 L828.6 1098.9 L828.9 1098.5 L829.3 1098.1 L829.7 1097.7 L830.1 1097.4 L830.6 1097 L831.2 1096.7 L831.8 1096.4 L832.4 1096.2 L833.1 1096 L833.8 1095.8 L834.5 1095.7 L835.2 1095.6 L836 1095.5 L836.7 1095.5 L837.4 1095.5 L838.2 1095.6 L838.9 1095.7 L839.6 1095.8 L840.3 1096 L841 1096.2 L841.6 1096.4 L842.2 1096.7 L842.8 1097 L843.3 1097.4 L843.7 1097.7 L844.1 1098.1 L844.5 1098.5 L844.8 1098.9 L845 1099.4 L845.2 1099.8 L845.3 1100.2" fill="none" stroke="#000" stroke-width="1.1"/>
<path d="M845.7 1101 L845.4 1101.4 L845 1101.9 L844.6 1102.3 L844.1 1102.8 L843.5 1103.1 L842.9 1103.5 L842.2 1103.8 L841.5 1104.1 L840.8 1104.3 L840 1104.5 L839.2 1104.7 L838.4 1104.8 L837.5 1104.9 L836.7 1104.9 L835.9 1104.9 L835 1104.8 L834.2 1104.7 L833.4 1104.5 L832.6 1104.3 L831.9 1104.1 L831.2 1103.8 L830.5 1103.5 L829.9 1103.1 L829.3 1102.8 L828.8 1102.3 L828.4 1101.9 L828 1101.4 L827.7 1101" fill="none" stroke="#000" stroke-width="0.9"/>
<ellipse cx="823.3" cy="957.3" rx="6.6" ry="4.2" fill="#fff" stroke="#000" stroke-width="1.2"/>
<path d="M817.9 958.6 L818 958.3 L818.1 958.1 L818.2 957.8 L818.4 957.5 L818.6 957.3 L818.9 957.1 L819.2 956.8 L819.5 956.6 L819.8 956.4 L820.2 956.3 L820.6 956.1 L821 956 L821.5 955.9 L821.9 955.8 L822.4 955.7 L822.8 955.7 L823.3 955.7 L823.8 955.7 L824.2 955.7 L824.7 955.8 L825.1 955.9 L825.6 956 L826 956.1 L826.4 956.3 L826.8 956.4 L827.1 956.6 L827.4 956.8 L827.7 957.1 L828 957.3 L828.2 957.5 L828.4 957.8 L828.5 958.1 L828.6 958.3 L828.7 958.6" fill="none" stroke="#000" stroke-width="1"/>
<ellipse cx="740.7" cy="1011" rx="6.6" ry="4.2" fill="#fff" stroke="#000" stroke-width="1.2"/>
<path d="M735.3 1012.3 L735.4 1012 L735.5 1011.8 L735.6 1011.5 L735.8 1011.2 L736 1011 L736.3 1010.8 L736.6 1010.5 L736.9 1010.3 L737.2 1010.1 L737.6 1010 L738 1009.8 L738.4 1009.7 L738.9 1009.6 L739.3 1009.5 L739.8 1009.4 L740.2 1009.4 L740.7 1009.4 L741.2 1009.4 L741.6 1009.4 L742.1 1009.5 L742.5 1009.6 L743 1009.7 L743.4 1009.8 L743.8 1010 L744.2 1010.1 L744.5 1010.3 L744.8 1010.5 L745.1 1010.8 L745.4 1011 L745.6 1011.2 L745.8 1011.5 L745.9 1011.8 L746 1012 L746.1 1012.3" fill="none" stroke="#000" stroke-width="1"/>
<ellipse cx="888.3" cy="1019" rx="6.6" ry="4.2" fill="#fff" stroke="#000" stroke-width="1.2"/>
<path d="M882.9 1020.3 L883 1020 L883.1 1019.8 L883.2 1019.5 L883.4 1019.2 L883.6 1019 L883.9 1018.8 L884.2 1018.5 L884.5 1018.3 L884.8 1018.1 L885.2 1018 L885.6 1017.8 L886 1017.7 L886.5 1017.6 L886.9 1017.5 L887.4 1017.4 L887.8 1017.4 L888.3 1017.4 L888.8 1017.4 L889.2 1017.4 L889.7 1017.5 L890.1 1017.6 L890.6 1017.7 L891 1017.8 L891.4 1018 L891.8 1018.1 L892.1 1018.3 L892.4 1018.5 L892.7 1018.8 L893 1019 L893.2 1019.2 L893.4 1019.5 L893.5 1019.8 L893.6 1020 L893.7 1020.3" fill="none" stroke="#000" stroke-width="1"/>
<ellipse cx="835" cy="1054" rx="6.6" ry="4.2" fill="#fff" stroke="#000" stroke-width="1.2"/>
<path d="M829.6 1055.3 L829.7 1055 L829.8 1054.8 L829.9 1054.5 L830.1 1054.2 L830.3 1054 L830.6 1053.8 L830.9 1053.5 L831.2 1053.3 L831.5 1053.1 L831.9 1053 L832.3 1052.8 L832.7 1052.7 L833.2 1052.6 L833.6 1052.5 L834.1 1052.4 L834.5 1052.4 L835 1052.4 L835.5 1052.4 L835.9 1052.4 L836.4 1052.5 L836.8 1052.6 L837.3 1052.7 L837.7 1052.8 L838.1 1053 L838.5 1053.1 L838.8 1053.3 L839.1 1053.5 L839.4 1053.8 L839.7 1054 L839.9 1054.2 L840.1 1054.5 L840.2 1054.8 L840.3 1055 L840.4 1055.3" fill="none" stroke="#000" stroke-width="1"/>
<path d="M1025 902.6 L1025 908.2 A46.4 28 0 0 0 1117.8 908.2 L1117.8 902.6 A46.4 28 0 0 0 1025 902.6Z" fill="#fff" stroke="#000" stroke-width="1.2"/>
<path d="M1023.4 895.6 L1023.4 902.6 A48 29 0 0 0 1119.4 902.6 L1119.4 895.6 A48 29 0 0 0 1023.4 895.6Z" fill="#fff" stroke="#000" stroke-width="1.2"/>
<ellipse cx="1071.4" cy="895.6" rx="48" ry="29" fill="#fff" stroke="#000" stroke-width="1.2"/>
<path d="M1026.6 863.6 L1026.6 894 A44.8 27.2 0 0 0 1116.2 894 L1116.2 863.6 A44.8 27.2 0 0 0 1026.6 863.6Z" fill="#fff" stroke="#000" stroke-width="1.2"/>
<ellipse cx="1071.4" cy="863.6" rx="44.8" ry="27.2" fill="#fff" stroke="#000" stroke-width="1.3"/>
<path d="M1106.3 878.4 L1104.5 880.4 L1102.4 882.3 L1100.1 884 L1097.5 885.6 L1094.7 887.1 L1091.7 888.3 L1088.6 889.4 L1085.3 890.4 L1082 891.1 L1078.5 891.6 L1075 891.9 L1071.4 892 L1067.8 891.9 L1064.3 891.6 L1060.8 891.1 L1057.5 890.4 L1054.2 889.4 L1051.1 888.3 L1048.1 887.1 L1045.3 885.6 L1042.7 884 L1040.4 882.3 L1038.3 880.4 L1036.5 878.4" fill="none" stroke="#000" stroke-width="2.2"/>
<ellipse cx="1071.4" cy="866" rx="33.6" ry="20" fill="#fff" stroke="#000" stroke-width="1.2"/>
<ellipse cx="1071.4" cy="867.2" rx="30.4" ry="18.2" fill="none" stroke="#000" stroke-width="1"/>
<ellipse cx="1071.4" cy="867.6" rx="27.6" ry="16.8" fill="#fff" stroke="#000" stroke-width="1.3"/>
<path d="M1053 884.6 L1053.1 883.9 L1053.3 883.2 L1053.6 882.5 L1054.1 881.9 L1054.7 881.2 L1055.5 880.6 L1056.3 880 L1057.3 879.5 L1058.4 878.9 L1059.6 878.5 L1060.8 878 L1062.2 877.7 L1063.6 877.3 L1065.1 877.1 L1066.6 876.9 L1068.2 876.7 L1069.8 876.6 L1071.4 876.6 L1073 876.6 L1074.6 876.7 L1076.2 876.9 L1077.7 877.1 L1079.2 877.3 L1080.6 877.7 L1082 878 L1083.2 878.5 L1084.4 878.9 L1085.5 879.5 L1086.5 880 L1087.3 880.6 L1088.1 881.2 L1088.7 881.9 L1089.2 882.5 L1089.5 883.2 L1089.7 883.9 L1089.8 884.6" fill="none" stroke="#000" stroke-width="1.2"/>
<path d="M1055.4 886.4 L1055.5 885.8 L1055.6 885.3 L1055.9 884.7 L1056.4 884.2 L1056.9 883.7 L1057.5 883.2 L1058.3 882.7 L1059.1 882.3 L1060.1 881.9 L1061.1 881.5 L1062.2 881.2 L1063.4 880.9 L1064.6 880.6 L1065.9 880.4 L1067.3 880.2 L1068.6 880.1 L1070 880 L1071.4 880 L1072.8 880 L1074.2 880.1 L1075.5 880.2 L1076.9 880.4 L1078.2 880.6 L1079.4 880.9 L1080.6 881.2 L1081.7 881.5 L1082.7 881.9 L1083.7 882.3 L1084.5 882.7 L1085.3 883.2 L1085.9 883.7 L1086.4 884.2 L1086.9 884.7 L1087.2 885.3 L1087.3 885.8 L1087.4 886.4" fill="none" stroke="#000" stroke-width="1"/>
<ellipse cx="1070.6" cy="822.4" rx="42.3" ry="27.6" fill="none" stroke="#000" stroke-width="4.8"/>
<path d="M1043.6 762 L1043.6 777 A27.2 16 0 0 0 1098 777 L1098 762 A27.2 16 0 0 0 1043.6 762Z" fill="#fff" stroke="#000" stroke-width="1.2"/>
<path d="M1037.2 747.1 L1037.2 752.7 A33.6 21.2 0 0 0 1104.4 752.7 L1104.4 747.1 A33.6 21.2 0 0 0 1037.2 747.1Z" fill="#fff" stroke="#000" stroke-width="1.2"/>
<path d="M1037.2 747.1 L1037.2 750.7 A33.6 21.2 0 0 0 1104.4 750.7 L1104.4 747.1 A33.6 21.2 0 0 0 1037.2 747.1Z" fill="#fff" stroke="#000" stroke-width="1.2"/>
<ellipse cx="1070.8" cy="747.1" rx="33.6" ry="21.2" fill="#fff" stroke="#000" stroke-width="1.3"/>
<ellipse cx="1070.8" cy="749.2" rx="24.6" ry="15.2" fill="#fff" stroke="#000" stroke-width="1.2"/>
<path d="M1061.8 762.6 L1061.8 762.4 L1061.9 762.3 L1062.1 762.1 L1062.3 762 L1062.6 761.8 L1063 761.7 L1063.4 761.6 L1063.9 761.4 L1064.4 761.3 L1065 761.2 L1065.6 761.1 L1066.3 761 L1067 761 L1067.7 760.9 L1068.5 760.9 L1069.2 760.8 L1070 760.8 L1070.8 760.8 L1071.6 760.8 L1072.4 760.8 L1073.1 760.9 L1073.9 760.9 L1074.6 761 L1075.3 761 L1076 761.1 L1076.6 761.2 L1077.2 761.3 L1077.7 761.4 L1078.2 761.6 L1078.6 761.7 L1079 761.8 L1079.3 762 L1079.5 762.1 L1079.7 762.3 L1079.8 762.4 L1079.8 762.6" fill="none" stroke="#000" stroke-width="1.4"/>
<path d="M1086.2 763 L1084.6 763.8 L1082.8 764.5 L1080.9 765.1 L1079 765.5 L1077 765.9 L1075 766.2 L1072.9 766.3 L1070.8 766.4 L1068.7 766.3 L1066.6 766.2 L1064.6 765.9 L1062.6 765.5 L1060.7 765.1 L1058.8 764.5 L1057 763.8 L1055.4 763" fill="none" stroke="#000" stroke-width="1"/>
<path d="M446 272 L446 698" fill="none" stroke="#000" stroke-width="1.4" stroke-dasharray="7.4 4.4"/>
<path d="M1070.8 690 L1070.8 758" fill="none" stroke="#000" stroke-width="1.4" stroke-dasharray="7.4 4.4"/>
<path d="M1070.8 806 L1070.8 838" fill="none" stroke="#000" stroke-width="1.4" stroke-dasharray="7.4 4.4"/>
<path d="M1070.8 859 L1070.8 885" fill="none" stroke="#000" stroke-width="1.4" stroke-dasharray="7.4 4.4"/>
<path d="M382 1020.5 L449.5 977.2" fill="none" stroke="#000" stroke-width="1.1" stroke-dasharray="6 4"/>
<path d="M372 986 L418.3 956.4" fill="none" stroke="#000" stroke-width="1.1" stroke-dasharray="6 4"/>
<path d="M1318.9 1021.3 L1384.9 979" fill="none" stroke="#000" stroke-width="1.1" stroke-dasharray="6 4"/>
<path d="M1296 995 L1355.5 956.8" fill="none" stroke="#000" stroke-width="1.1" stroke-dasharray="6 4"/>
<path d="M141 314.4L141 382.4" fill="none" stroke="#000" stroke-width="1.3"/>
<path d="M377.8 289.8L414 315.4" fill="none" stroke="#000" stroke-width="1.3"/>
<path d="M384 364.8L419.2 382.4" fill="none" stroke="#000" stroke-width="1.3"/>
<path d="M251.7 509.3L415.5 394.2" fill="none" stroke="#000" stroke-width="1.3"/>
<path d="M251.7 509.3L417.4 502.2" fill="none" stroke="#000" stroke-width="1.3"/>
<path d="M251.7 509.3L402 572" fill="none" stroke="#000" stroke-width="1.3"/>
<path d="M251.7 509.3L429.5 641.3" fill="none" stroke="#000" stroke-width="1.3"/>
<path d="M730.1 342.9L674.2 428.4" fill="none" stroke="#000" stroke-width="1.3"/>
<path d="M968 292.4L938 379" fill="none" stroke="#000" stroke-width="1.3"/>
<path d="M968 292.4L1020 313" fill="none" stroke="#000" stroke-width="1.3"/>
<path d="M968 292.4L1031 413" fill="none" stroke="#000" stroke-width="1.3"/>
<path d="M968 292.4L1083 379" fill="none" stroke="#000" stroke-width="1.3"/>
<path d="M883.3 533.3L916.7 598.3" fill="none" stroke="#000" stroke-width="1.3"/>
<path d="M821 624L906 665" fill="none" stroke="#000" stroke-width="1.3"/>
<path d="M699.3 653.3L752.5 711.5" fill="none" stroke="#000" stroke-width="1.3"/>
<path d="M745 645L800 706" fill="none" stroke="#000" stroke-width="1.3"/>
<path d="M655.5 687.5L737.3 723.2" fill="none" stroke="#000" stroke-width="1.3"/>
<path d="M1186.7 328.3L1245 401.7" fill="none" stroke="#000" stroke-width="1.3"/>
<path d="M1260 331.7L1266.7 400" fill="none" stroke="#000" stroke-width="1.3"/>
<path d="M1121.7 380L1146.7 453.3" fill="none" stroke="#000" stroke-width="1.3"/>
<path d="M1158.3 383.3L1191.7 465" fill="none" stroke="#000" stroke-width="1.3"/>
<path d="M1414.3 390L1426 485" fill="none" stroke="#000" stroke-width="1.3"/>
<path d="M1321 588.3L1221.7 515" fill="none" stroke="#000" stroke-width="1.3"/>
<path d="M1321 588.3L1265 486.7" fill="none" stroke="#000" stroke-width="1.3"/>
<path d="M1321 588.3L1283.3 481.7" fill="none" stroke="#000" stroke-width="1.3"/>
<path d="M1321 588.3L1296.7 458.3" fill="none" stroke="#000" stroke-width="1.3"/>
<path d="M1060 623.3L1158.3 690" fill="none" stroke="#000" stroke-width="1.3"/>
<path d="M945 830L1046.7 780" fill="none" stroke="#000" stroke-width="1.3"/>
<path d="M945 830L1028.3 830" fill="none" stroke="#000" stroke-width="1.3"/>
<path d="M945 830L1035 880" fill="none" stroke="#000" stroke-width="1.3"/>
<path d="M1158.3 800L1115 828.3" fill="none" stroke="#000" stroke-width="1.3"/>
<path d="M144.3 698.3L144.3 760" fill="none" stroke="#000" stroke-width="1.3"/>
<path d="M203.3 695L203.3 751.7" fill="none" stroke="#000" stroke-width="1.3"/>
<path d="M416 820L476.7 885" fill="none" stroke="#000" stroke-width="1.3"/>
<path d="M332.3 851.7L396.7 920" fill="none" stroke="#000" stroke-width="1.3"/>
<path d="M280 902.3L351.7 988.3" fill="none" stroke="#000" stroke-width="1.3"/>
<path d="M237.3 934L310 1013.3" fill="none" stroke="#000" stroke-width="1.3"/>
<path d="M134.3 1013.3L179.3 1068.3" fill="none" stroke="#000" stroke-width="1.3"/>
<path d="M134.3 1013.3L165.7 1160" fill="none" stroke="#000" stroke-width="1.3"/>
<path d="M134.3 1013.3L101.7 1201.7" fill="none" stroke="#000" stroke-width="1.3"/>
<path d="M134.3 1013.3L166.7 1250" fill="none" stroke="#000" stroke-width="1.3"/>
<path d="M536.5 756.8L600.8 826.7" fill="none" stroke="#000" stroke-width="1.3"/>
<path d="M793.3 863.5L756 814.7" fill="none" stroke="#000" stroke-width="1.3"/>
<path d="M793.3 863.5L782.7 805.3" fill="none" stroke="#000" stroke-width="1.3"/>
<path d="M793.3 863.5L796.8 798.7" fill="none" stroke="#000" stroke-width="1.3"/>
<path d="M793.3 863.5L825.9 760" fill="none" stroke="#000" stroke-width="1.3"/>
<path d="M545 1004.3L511.7 1033.3" fill="none" stroke="#000" stroke-width="1.3"/>
<path d="M613.3 1051.7L580 1083.3" fill="none" stroke="#000" stroke-width="1.3"/>
<path d="M645 1086.7L618.3 1108.3" fill="none" stroke="#000" stroke-width="1.3"/>
<path d="M510 1133.3L504.3 1055" fill="none" stroke="#000" stroke-width="1.3"/>
<path d="M510 1133.3L536.7 1080" fill="none" stroke="#000" stroke-width="1.3"/>
<path d="M510 1133.3L573.3 1100" fill="none" stroke="#000" stroke-width="1.3"/>
<path d="M510 1133.3L600 1111.7" fill="none" stroke="#000" stroke-width="1.3"/>
<path d="M791.7 1050L748.3 1133.3" fill="none" stroke="#000" stroke-width="1.3"/>
<path d="M1292.7 821.7L1200 875" fill="none" stroke="#000" stroke-width="1.3"/>
<path d="M1292.7 821.7L1230 886.7" fill="none" stroke="#000" stroke-width="1.3"/>
<path d="M1292.7 821.7L1270 880" fill="none" stroke="#000" stroke-width="1.3"/>
<path d="M1292.7 821.7L1292.7 931.7" fill="none" stroke="#000" stroke-width="1.3"/>
<path d="M1404.3 837.3L1422.7 883.3" fill="none" stroke="#000" stroke-width="1.3"/>
<path d="M1220 952.3L1272.7 1005" fill="none" stroke="#000" stroke-width="1.3"/>
<path d="M1176 978.3L1223.3 1030" fill="none" stroke="#000" stroke-width="1.3"/>
<path d="M1068.3 1035L1054.3 1106.7" fill="none" stroke="#000" stroke-width="1.3"/>
<path d="M1068.3 1035L1153.3 1131.7" fill="none" stroke="#000" stroke-width="1.3"/>
<path d="M1068.3 1035L1068.3 1190" fill="none" stroke="#000" stroke-width="1.3"/>
<path d="M1068.3 1035L1153.3 1220" fill="none" stroke="#000" stroke-width="1.3"/>
<path d="M1408.3 1030L1421.7 1118.3" fill="none" stroke="#000" stroke-width="1.3"/>
<g style="opacity:0.999">
<text transform="translate(140 310) scale(0.81 1)" text-anchor="middle" font-size="30.3">27</text>
<text transform="translate(365 289) scale(0.81 1)" text-anchor="middle" font-size="30.3">11</text>
<text transform="translate(368.5 366) scale(0.81 1)" text-anchor="middle" font-size="30.3">10</text>
<text transform="translate(236.7 520) scale(0.81 1)" text-anchor="middle" font-size="30.3">9</text>
<text transform="translate(737.7 338.2) scale(0.81 1)" text-anchor="middle" font-size="30.3">8</text>
<text transform="translate(959.5 284.4) scale(0.81 1)" text-anchor="middle" font-size="30.3">12</text>
<text transform="translate(1180.5 325) scale(0.81 1)" text-anchor="middle" font-size="30.3">19</text>
<text transform="translate(1258.7 328.3) scale(0.81 1)" text-anchor="middle" font-size="30.3">1</text>
<text transform="translate(1117 378) scale(0.81 1)" text-anchor="middle" font-size="30.3">5</text>
<text transform="translate(1155.7 381.7) scale(0.81 1)" text-anchor="middle" font-size="30.3">4</text>
<text transform="translate(1427 509.3) scale(0.81 1)" text-anchor="middle" font-size="30.3">13</text>
<text transform="translate(1330 614.3) scale(0.81 1)" text-anchor="middle" font-size="30.3">2</text>
<text transform="translate(1171.7 713.3) scale(0.81 1)" text-anchor="middle" font-size="30.3">22</text>
<text transform="translate(878 528.3) scale(0.81 1)" text-anchor="middle" font-size="30.3">5</text>
<text transform="translate(808.8 626) scale(0.81 1)" text-anchor="middle" font-size="30.3">3</text>
<text transform="translate(930 839.3) scale(0.81 1)" text-anchor="middle" font-size="30.3">6</text>
<text transform="translate(1170 797.7) scale(0.81 1)" text-anchor="middle" font-size="30.3">7</text>
<text transform="translate(684.8 650) scale(0.81 1)" text-anchor="middle" font-size="30.3">19</text>
<text transform="translate(735.8 642.7) scale(0.81 1)" text-anchor="middle" font-size="30.3">4</text>
<text transform="translate(644.5 692.7) scale(0.81 1)" text-anchor="middle" font-size="30.3">1</text>
<text transform="translate(522.3 753.3) scale(0.81 1)" text-anchor="middle" font-size="30.3">13</text>
<text transform="translate(796.3 888) scale(0.81 1)" text-anchor="middle" font-size="30.3">2</text>
<text transform="translate(143.7 691.7) scale(0.81 1)" text-anchor="middle" font-size="30.3">23</text>
<text transform="translate(202.3 691) scale(0.81 1)" text-anchor="middle" font-size="30.3">24</text>
<text transform="translate(400 817.7) scale(0.81 1)" text-anchor="middle" font-size="30.3">14</text>
<text transform="translate(317.2 850) scale(0.81 1)" text-anchor="middle" font-size="30.3">15</text>
<text transform="translate(265 901) scale(0.81 1)" text-anchor="middle" font-size="30.3">28</text>
<text transform="translate(223 932.3) scale(0.81 1)" text-anchor="middle" font-size="30.3">16</text>
<text transform="translate(133 1007.7) scale(0.81 1)" text-anchor="middle" font-size="30.3">17</text>
<text transform="translate(1300.8 815) scale(0.81 1)" text-anchor="middle" font-size="30.3">18</text>
<text transform="translate(1392 833.3) scale(0.81 1)" text-anchor="middle" font-size="30.3">14</text>
<text transform="translate(1208.3 951) scale(0.81 1)" text-anchor="middle" font-size="30.3">28</text>
<text transform="translate(1163 977.7) scale(0.81 1)" text-anchor="middle" font-size="30.3">16</text>
<text transform="translate(1063 1032.3) scale(0.81 1)" text-anchor="middle" font-size="30.3">17</text>
<text transform="translate(1425.5 1145) scale(0.81 1)" text-anchor="middle" font-size="30.3">21</text>
<text transform="translate(740.3 1158.3) scale(0.81 1)" text-anchor="middle" font-size="30.3">20</text>
<text transform="translate(561.5 1004.6) scale(0.81 1)" text-anchor="middle" font-size="30.3">26</text>
<text transform="translate(630 1047.7) scale(0.81 1)" text-anchor="middle" font-size="30.3">26</text>
<text transform="translate(659 1082.4) scale(0.81 1)" text-anchor="middle" font-size="30.3">25</text>
<text transform="translate(496.6 1157) scale(0.81 1)" text-anchor="middle" font-size="30.3">18</text>
</g>
</svg>
</body></html>
